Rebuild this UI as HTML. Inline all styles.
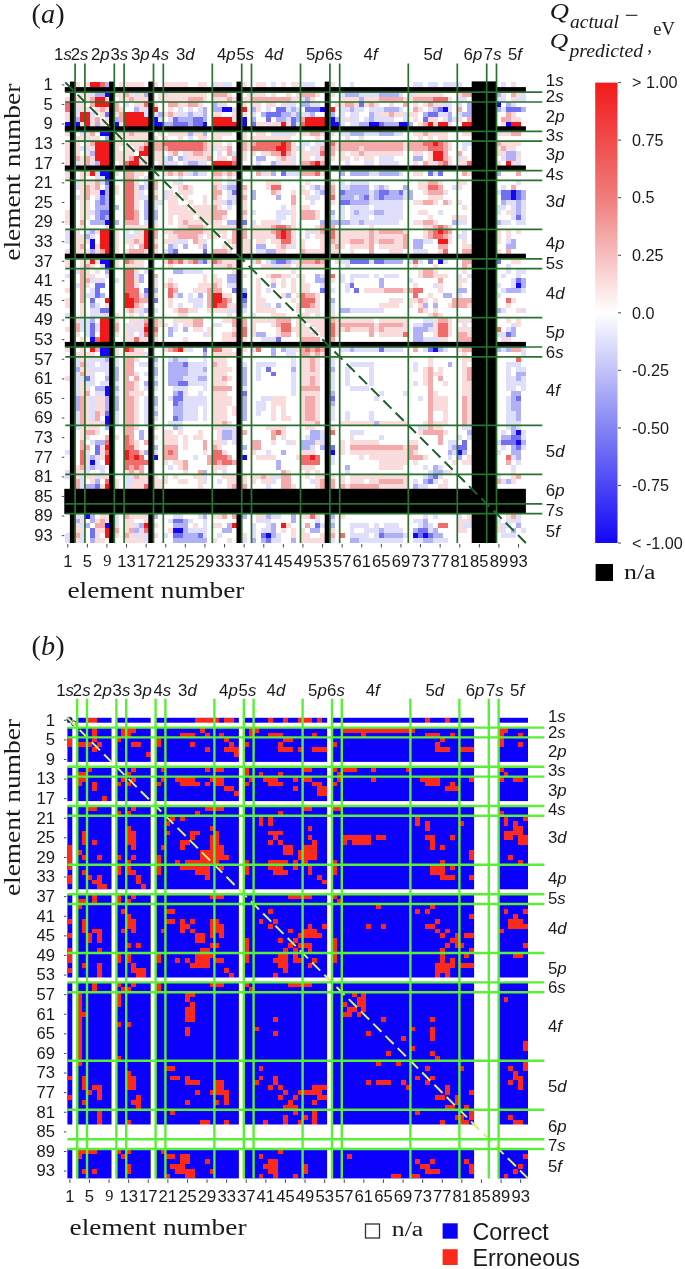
<!DOCTYPE html>
<html><head><meta charset="utf-8"><title>Figure</title>
<style>html,body{margin:0;padding:0;background:#fff;width:685px;height:1269px;overflow:hidden}svg{display:block}</style>
</head><body>
<div id="fig">
<svg width="685" height="1269" viewBox="0 0 685 1269">
<rect width="685" height="1269" fill="#fff"/>
<g>
<defs><linearGradient id="bwr" x1="0" y1="0" x2="0" y2="1"><stop offset="0" stop-color="#f21a1a"/><stop offset="0.25" stop-color="#f07c7c"/><stop offset="0.5" stop-color="#ffffff"/><stop offset="0.75" stop-color="#8484f4"/><stop offset="1" stop-color="#1206f7"/></linearGradient></defs>
<rect x="595.2" y="82.6" width="22.3" height="460.4" fill="url(#bwr)"/>
<line x1="618.00" y1="82.60" x2="621.00" y2="82.60" stroke="#333" stroke-width="0.9"/>
<text x="632" y="88.30" font-family="'Liberation Sans', Arial, sans-serif" font-size="16.2" fill="#1a1a1a">&gt; 1.00</text>
<line x1="618.00" y1="140.15" x2="621.00" y2="140.15" stroke="#333" stroke-width="0.9"/>
<text x="632" y="145.85" font-family="'Liberation Sans', Arial, sans-serif" font-size="16.2" fill="#1a1a1a">0.75</text>
<line x1="618.00" y1="197.70" x2="621.00" y2="197.70" stroke="#333" stroke-width="0.9"/>
<text x="632" y="203.40" font-family="'Liberation Sans', Arial, sans-serif" font-size="16.2" fill="#1a1a1a">0.5</text>
<line x1="618.00" y1="255.25" x2="621.00" y2="255.25" stroke="#333" stroke-width="0.9"/>
<text x="632" y="260.95" font-family="'Liberation Sans', Arial, sans-serif" font-size="16.2" fill="#1a1a1a">0.25</text>
<line x1="618.00" y1="312.80" x2="621.00" y2="312.80" stroke="#333" stroke-width="0.9"/>
<text x="632" y="318.50" font-family="'Liberation Sans', Arial, sans-serif" font-size="16.2" fill="#1a1a1a">0.0</text>
<line x1="618.00" y1="370.35" x2="621.00" y2="370.35" stroke="#333" stroke-width="0.9"/>
<text x="632" y="376.05" font-family="'Liberation Sans', Arial, sans-serif" font-size="16.2" fill="#1a1a1a">-0.25</text>
<line x1="618.00" y1="427.90" x2="621.00" y2="427.90" stroke="#333" stroke-width="0.9"/>
<text x="632" y="433.60" font-family="'Liberation Sans', Arial, sans-serif" font-size="16.2" fill="#1a1a1a">-0.50</text>
<line x1="618.00" y1="485.45" x2="621.00" y2="485.45" stroke="#333" stroke-width="0.9"/>
<text x="632" y="491.15" font-family="'Liberation Sans', Arial, sans-serif" font-size="16.2" fill="#1a1a1a">-0.75</text>
<line x1="618.00" y1="543.00" x2="621.00" y2="543.00" stroke="#333" stroke-width="0.9"/>
<text x="632" y="548.70" font-family="'Liberation Sans', Arial, sans-serif" font-size="16.2" fill="#1a1a1a">&lt; -1.00</text>
<rect x="595.6" y="564" width="17.4" height="17" fill="#000"/>
<text x="624" y="578.5" font-family="'Liberation Serif', 'Times New Roman', serif" font-size="20.5" fill="#1a1a1a" textLength="31.6" lengthAdjust="spacingAndGlyphs">n/a</text>
<text x="549.8" y="18.6" font-family="'Liberation Serif', 'Times New Roman', serif" font-style="italic" font-size="23" fill="#1a1a1a" textLength="19.2" lengthAdjust="spacingAndGlyphs">Q</text>
<text x="569.9" y="27.8" font-family="'Liberation Serif', 'Times New Roman', serif" font-style="italic" font-size="19.2" fill="#1a1a1a" textLength="49" lengthAdjust="spacingAndGlyphs">actual</text>
<line x1="625.8" y1="15.3" x2="637.4" y2="15.3" stroke="#1a1a1a" stroke-width="1.1"/>
<text x="549.8" y="48.4" font-family="'Liberation Serif', 'Times New Roman', serif" font-style="italic" font-size="22" fill="#1a1a1a" textLength="18.5" lengthAdjust="spacingAndGlyphs">Q</text>
<text x="569.4" y="56.9" font-family="'Liberation Serif', 'Times New Roman', serif" font-style="italic" font-size="19" fill="#1a1a1a" textLength="73.6" lengthAdjust="spacingAndGlyphs">predicted</text>
<text x="647.2" y="51.5" font-family="'Liberation Serif', 'Times New Roman', serif" font-size="19" fill="#1a1a1a">,</text>
<text x="653.3" y="34.9" font-family="'Liberation Serif', 'Times New Roman', serif" font-size="18.5" fill="#1a1a1a">eV</text>
<rect x="65.3" y="82.4" width="460.6" height="460.6" fill="#ffffff"/>
<g shape-rendering="crispEdges"><rect x="75.10" y="82.40" width="4.95" height="4.95" fill="#fadcdc"/>
<rect x="84.90" y="82.40" width="4.95" height="4.95" fill="#fadcdc"/>
<rect x="89.80" y="82.40" width="9.85" height="4.95" fill="#f01a1a"/>
<rect x="99.60" y="82.40" width="4.95" height="4.95" fill="#ee6c6c"/>
<rect x="104.50" y="82.40" width="4.95" height="4.95" fill="#afb0f5"/>
<rect x="119.20" y="82.40" width="24.55" height="4.95" fill="#fadcdc"/>
<rect x="153.50" y="82.40" width="4.95" height="4.95" fill="#fadcdc"/>
<rect x="163.30" y="82.40" width="24.55" height="4.95" fill="#fadcdc"/>
<rect x="197.60" y="82.40" width="9.85" height="4.95" fill="#fadcdc"/>
<rect x="212.30" y="82.40" width="4.95" height="4.95" fill="#dfdffb"/>
<rect x="217.20" y="82.40" width="4.95" height="4.95" fill="#fadcdc"/>
<rect x="222.10" y="82.40" width="9.85" height="4.95" fill="#dfdffb"/>
<rect x="241.70" y="82.40" width="4.95" height="4.95" fill="#fadcdc"/>
<rect x="256.40" y="82.40" width="9.85" height="4.95" fill="#fadcdc"/>
<rect x="271.10" y="82.40" width="4.95" height="4.95" fill="#dfdffb"/>
<rect x="280.90" y="82.40" width="4.95" height="4.95" fill="#fadcdc"/>
<rect x="290.70" y="82.40" width="9.85" height="4.95" fill="#fadcdc"/>
<rect x="300.50" y="82.40" width="14.75" height="4.95" fill="#dfdffb"/>
<rect x="329.90" y="82.40" width="4.95" height="4.95" fill="#fadcdc"/>
<rect x="349.50" y="82.40" width="4.95" height="4.95" fill="#dfdffb"/>
<rect x="413.20" y="82.40" width="9.85" height="4.95" fill="#dfdffb"/>
<rect x="427.90" y="82.40" width="9.85" height="4.95" fill="#dfdffb"/>
<rect x="442.60" y="82.40" width="19.65" height="4.95" fill="#dfdffb"/>
<rect x="501.40" y="82.40" width="4.95" height="4.95" fill="#dfdffb"/>
<rect x="511.20" y="82.40" width="4.95" height="4.95" fill="#fadcdc"/>
<rect x="80.00" y="92.20" width="9.85" height="4.95" fill="#fadcdc"/>
<rect x="89.80" y="92.20" width="4.95" height="4.95" fill="#dfdffb"/>
<rect x="94.70" y="92.20" width="9.85" height="4.95" fill="#afb0f5"/>
<rect x="104.50" y="92.20" width="4.95" height="4.95" fill="#1408f3"/>
<rect x="114.30" y="92.20" width="9.85" height="4.95" fill="#fadcdc"/>
<rect x="124.10" y="92.20" width="4.95" height="4.95" fill="#f4aaaa"/>
<rect x="129.00" y="92.20" width="4.95" height="4.95" fill="#fadcdc"/>
<rect x="133.90" y="92.20" width="4.95" height="4.95" fill="#dfdffb"/>
<rect x="138.80" y="92.20" width="4.95" height="4.95" fill="#fadcdc"/>
<rect x="143.70" y="92.20" width="4.95" height="4.95" fill="#afb0f5"/>
<rect x="158.40" y="92.20" width="4.95" height="4.95" fill="#fadcdc"/>
<rect x="163.30" y="92.20" width="4.95" height="4.95" fill="#dfdffb"/>
<rect x="168.20" y="92.20" width="39.25" height="4.95" fill="#fadcdc"/>
<rect x="212.30" y="92.20" width="14.75" height="4.95" fill="#f4aaaa"/>
<rect x="227.00" y="92.20" width="4.95" height="4.95" fill="#fadcdc"/>
<rect x="246.60" y="92.20" width="4.95" height="4.95" fill="#fadcdc"/>
<rect x="251.50" y="92.20" width="4.95" height="4.95" fill="#dfdffb"/>
<rect x="256.40" y="92.20" width="9.85" height="4.95" fill="#fadcdc"/>
<rect x="271.10" y="92.20" width="4.95" height="4.95" fill="#fadcdc"/>
<rect x="285.80" y="92.20" width="4.95" height="4.95" fill="#fadcdc"/>
<rect x="295.60" y="92.20" width="4.95" height="4.95" fill="#fadcdc"/>
<rect x="300.50" y="92.20" width="14.75" height="4.95" fill="#f4aaaa"/>
<rect x="315.20" y="92.20" width="4.95" height="4.95" fill="#fadcdc"/>
<rect x="329.90" y="92.20" width="4.95" height="4.95" fill="#fadcdc"/>
<rect x="339.70" y="92.20" width="4.95" height="4.95" fill="#dfdffb"/>
<rect x="344.60" y="92.20" width="14.75" height="4.95" fill="#afb0f5"/>
<rect x="359.30" y="92.20" width="19.65" height="4.95" fill="#dfdffb"/>
<rect x="378.90" y="92.20" width="19.65" height="4.95" fill="#afb0f5"/>
<rect x="398.50" y="92.20" width="4.95" height="4.95" fill="#dfdffb"/>
<rect x="408.30" y="92.20" width="4.95" height="4.95" fill="#dfdffb"/>
<rect x="413.20" y="92.20" width="29.45" height="4.95" fill="#fadcdc"/>
<rect x="457.30" y="92.20" width="4.95" height="4.95" fill="#fadcdc"/>
<rect x="462.20" y="92.20" width="9.85" height="4.95" fill="#f4aaaa"/>
<rect x="496.50" y="92.20" width="4.95" height="4.95" fill="#afb0f5"/>
<rect x="501.40" y="92.20" width="4.95" height="4.95" fill="#fadcdc"/>
<rect x="511.20" y="92.20" width="4.95" height="4.95" fill="#f4aaaa"/>
<rect x="516.10" y="92.20" width="4.95" height="4.95" fill="#fadcdc"/>
<rect x="521.00" y="92.20" width="4.95" height="4.95" fill="#dfdffb"/>
<rect x="65.30" y="97.10" width="4.95" height="4.95" fill="#fadcdc"/>
<rect x="75.10" y="97.10" width="4.95" height="4.95" fill="#fadcdc"/>
<rect x="84.90" y="97.10" width="4.95" height="4.95" fill="#fadcdc"/>
<rect x="89.80" y="97.10" width="4.95" height="4.95" fill="#f4aaaa"/>
<rect x="94.70" y="97.10" width="9.85" height="4.95" fill="#f01a1a"/>
<rect x="104.50" y="97.10" width="4.95" height="4.95" fill="#fadcdc"/>
<rect x="119.20" y="97.10" width="9.85" height="4.95" fill="#fadcdc"/>
<rect x="129.00" y="97.10" width="4.95" height="4.95" fill="#f4aaaa"/>
<rect x="133.90" y="97.10" width="14.75" height="4.95" fill="#fadcdc"/>
<rect x="158.40" y="97.10" width="29.45" height="4.95" fill="#fadcdc"/>
<rect x="187.80" y="97.10" width="14.75" height="4.95" fill="#f4aaaa"/>
<rect x="202.50" y="97.10" width="4.95" height="4.95" fill="#fadcdc"/>
<rect x="212.30" y="97.10" width="14.75" height="4.95" fill="#fadcdc"/>
<rect x="227.00" y="97.10" width="4.95" height="4.95" fill="#f4aaaa"/>
<rect x="231.90" y="97.10" width="4.95" height="4.95" fill="#fadcdc"/>
<rect x="241.70" y="97.10" width="9.85" height="4.95" fill="#fadcdc"/>
<rect x="251.50" y="97.10" width="39.25" height="4.95" fill="#f4aaaa"/>
<rect x="290.70" y="97.10" width="9.85" height="4.95" fill="#fadcdc"/>
<rect x="300.50" y="97.10" width="4.95" height="4.95" fill="#dfdffb"/>
<rect x="305.40" y="97.10" width="4.95" height="4.95" fill="#afb0f5"/>
<rect x="310.30" y="97.10" width="4.95" height="4.95" fill="#fadcdc"/>
<rect x="339.70" y="97.10" width="19.65" height="4.95" fill="#fadcdc"/>
<rect x="359.30" y="97.10" width="4.95" height="4.95" fill="#afb0f5"/>
<rect x="364.20" y="97.10" width="14.75" height="4.95" fill="#fadcdc"/>
<rect x="378.90" y="97.10" width="24.55" height="4.95" fill="#f4aaaa"/>
<rect x="403.40" y="97.10" width="9.85" height="4.95" fill="#fadcdc"/>
<rect x="413.20" y="97.10" width="19.65" height="4.95" fill="#f4aaaa"/>
<rect x="432.80" y="97.10" width="14.75" height="4.95" fill="#ee6c6c"/>
<rect x="447.50" y="97.10" width="4.95" height="4.95" fill="#fadcdc"/>
<rect x="457.30" y="97.10" width="9.85" height="4.95" fill="#dfdffb"/>
<rect x="496.50" y="97.10" width="9.85" height="4.95" fill="#dfdffb"/>
<rect x="511.20" y="97.10" width="4.95" height="4.95" fill="#fadcdc"/>
<rect x="516.10" y="97.10" width="9.85" height="4.95" fill="#dfdffb"/>
<rect x="65.30" y="102.00" width="4.95" height="4.95" fill="#ee6c6c"/>
<rect x="75.10" y="102.00" width="9.85" height="4.95" fill="#fadcdc"/>
<rect x="89.80" y="102.00" width="4.95" height="4.95" fill="#f4aaaa"/>
<rect x="94.70" y="102.00" width="14.75" height="4.95" fill="#f01a1a"/>
<rect x="114.30" y="102.00" width="4.95" height="4.95" fill="#f4aaaa"/>
<rect x="124.10" y="102.00" width="4.95" height="4.95" fill="#dfdffb"/>
<rect x="133.90" y="102.00" width="9.85" height="4.95" fill="#fadcdc"/>
<rect x="143.70" y="102.00" width="4.95" height="4.95" fill="#ee6c6c"/>
<rect x="153.50" y="102.00" width="4.95" height="4.95" fill="#fadcdc"/>
<rect x="168.20" y="102.00" width="9.85" height="4.95" fill="#f4aaaa"/>
<rect x="178.00" y="102.00" width="9.85" height="4.95" fill="#fadcdc"/>
<rect x="187.80" y="102.00" width="9.85" height="4.95" fill="#f4aaaa"/>
<rect x="197.60" y="102.00" width="4.95" height="4.95" fill="#fadcdc"/>
<rect x="212.30" y="102.00" width="4.95" height="4.95" fill="#afb0f5"/>
<rect x="217.20" y="102.00" width="4.95" height="4.95" fill="#dfdffb"/>
<rect x="222.10" y="102.00" width="4.95" height="4.95" fill="#fadcdc"/>
<rect x="241.70" y="102.00" width="4.95" height="4.95" fill="#fadcdc"/>
<rect x="251.50" y="102.00" width="9.85" height="4.95" fill="#fadcdc"/>
<rect x="266.20" y="102.00" width="9.85" height="4.95" fill="#fadcdc"/>
<rect x="280.90" y="102.00" width="4.95" height="4.95" fill="#fadcdc"/>
<rect x="285.80" y="102.00" width="9.85" height="4.95" fill="#dfdffb"/>
<rect x="300.50" y="102.00" width="9.85" height="4.95" fill="#afb0f5"/>
<rect x="310.30" y="102.00" width="9.85" height="4.95" fill="#dfdffb"/>
<rect x="334.80" y="102.00" width="9.85" height="4.95" fill="#fadcdc"/>
<rect x="344.60" y="102.00" width="9.85" height="4.95" fill="#f4aaaa"/>
<rect x="354.40" y="102.00" width="4.95" height="4.95" fill="#fadcdc"/>
<rect x="359.30" y="102.00" width="4.95" height="4.95" fill="#7070f1"/>
<rect x="364.20" y="102.00" width="4.95" height="4.95" fill="#fadcdc"/>
<rect x="369.10" y="102.00" width="4.95" height="4.95" fill="#f4aaaa"/>
<rect x="374.00" y="102.00" width="4.95" height="4.95" fill="#fadcdc"/>
<rect x="388.70" y="102.00" width="4.95" height="4.95" fill="#fadcdc"/>
<rect x="403.40" y="102.00" width="4.95" height="4.95" fill="#f4aaaa"/>
<rect x="413.20" y="102.00" width="4.95" height="4.95" fill="#fadcdc"/>
<rect x="423.00" y="102.00" width="4.95" height="4.95" fill="#fadcdc"/>
<rect x="427.90" y="102.00" width="4.95" height="4.95" fill="#f4aaaa"/>
<rect x="432.80" y="102.00" width="9.85" height="4.95" fill="#fadcdc"/>
<rect x="442.60" y="102.00" width="9.85" height="4.95" fill="#dfdffb"/>
<rect x="457.30" y="102.00" width="4.95" height="4.95" fill="#dfdffb"/>
<rect x="467.10" y="102.00" width="4.95" height="4.95" fill="#afb0f5"/>
<rect x="496.50" y="102.00" width="4.95" height="4.95" fill="#1408f3"/>
<rect x="506.30" y="102.00" width="4.95" height="4.95" fill="#afb0f5"/>
<rect x="511.20" y="102.00" width="4.95" height="4.95" fill="#dfdffb"/>
<rect x="65.30" y="106.90" width="4.95" height="4.95" fill="#ee6c6c"/>
<rect x="75.10" y="106.90" width="4.95" height="4.95" fill="#dfdffb"/>
<rect x="80.00" y="106.90" width="9.85" height="4.95" fill="#fadcdc"/>
<rect x="94.70" y="106.90" width="4.95" height="4.95" fill="#fadcdc"/>
<rect x="99.60" y="106.90" width="4.95" height="4.95" fill="#f4aaaa"/>
<rect x="104.50" y="106.90" width="4.95" height="4.95" fill="#fadcdc"/>
<rect x="114.30" y="106.90" width="4.95" height="4.95" fill="#f4aaaa"/>
<rect x="119.20" y="106.90" width="4.95" height="4.95" fill="#fadcdc"/>
<rect x="133.90" y="106.90" width="4.95" height="4.95" fill="#afb0f5"/>
<rect x="138.80" y="106.90" width="4.95" height="4.95" fill="#fadcdc"/>
<rect x="143.70" y="106.90" width="4.95" height="4.95" fill="#dfdffb"/>
<rect x="153.50" y="106.90" width="4.95" height="4.95" fill="#f01a1a"/>
<rect x="168.20" y="106.90" width="4.95" height="4.95" fill="#fadcdc"/>
<rect x="178.00" y="106.90" width="4.95" height="4.95" fill="#dfdffb"/>
<rect x="187.80" y="106.90" width="4.95" height="4.95" fill="#dfdffb"/>
<rect x="197.60" y="106.90" width="4.95" height="4.95" fill="#dfdffb"/>
<rect x="202.50" y="106.90" width="4.95" height="4.95" fill="#afb0f5"/>
<rect x="212.30" y="106.90" width="9.85" height="4.95" fill="#afb0f5"/>
<rect x="222.10" y="106.90" width="9.85" height="4.95" fill="#1408f3"/>
<rect x="231.90" y="106.90" width="4.95" height="4.95" fill="#dfdffb"/>
<rect x="241.70" y="106.90" width="4.95" height="4.95" fill="#f01a1a"/>
<rect x="251.50" y="106.90" width="4.95" height="4.95" fill="#afb0f5"/>
<rect x="256.40" y="106.90" width="4.95" height="4.95" fill="#fadcdc"/>
<rect x="266.20" y="106.90" width="4.95" height="4.95" fill="#dfdffb"/>
<rect x="276.00" y="106.90" width="9.85" height="4.95" fill="#7070f1"/>
<rect x="285.80" y="106.90" width="4.95" height="4.95" fill="#dfdffb"/>
<rect x="290.70" y="106.90" width="4.95" height="4.95" fill="#afb0f5"/>
<rect x="295.60" y="106.90" width="4.95" height="4.95" fill="#dfdffb"/>
<rect x="305.40" y="106.90" width="14.75" height="4.95" fill="#7070f1"/>
<rect x="320.10" y="106.90" width="4.95" height="4.95" fill="#1408f3"/>
<rect x="329.90" y="106.90" width="4.95" height="4.95" fill="#f01a1a"/>
<rect x="339.70" y="106.90" width="9.85" height="4.95" fill="#dfdffb"/>
<rect x="349.50" y="106.90" width="4.95" height="4.95" fill="#afb0f5"/>
<rect x="354.40" y="106.90" width="9.85" height="4.95" fill="#dfdffb"/>
<rect x="369.10" y="106.90" width="14.75" height="4.95" fill="#dfdffb"/>
<rect x="383.80" y="106.90" width="14.75" height="4.95" fill="#afb0f5"/>
<rect x="398.50" y="106.90" width="4.95" height="4.95" fill="#dfdffb"/>
<rect x="413.20" y="106.90" width="4.95" height="4.95" fill="#f4aaaa"/>
<rect x="418.10" y="106.90" width="4.95" height="4.95" fill="#fadcdc"/>
<rect x="427.90" y="106.90" width="4.95" height="4.95" fill="#dfdffb"/>
<rect x="432.80" y="106.90" width="4.95" height="4.95" fill="#afb0f5"/>
<rect x="437.70" y="106.90" width="4.95" height="4.95" fill="#7070f1"/>
<rect x="442.60" y="106.90" width="4.95" height="4.95" fill="#1408f3"/>
<rect x="447.50" y="106.90" width="4.95" height="4.95" fill="#dfdffb"/>
<rect x="457.30" y="106.90" width="4.95" height="4.95" fill="#f4aaaa"/>
<rect x="467.10" y="106.90" width="4.95" height="4.95" fill="#afb0f5"/>
<rect x="496.50" y="106.90" width="4.95" height="4.95" fill="#afb0f5"/>
<rect x="501.40" y="106.90" width="4.95" height="4.95" fill="#dfdffb"/>
<rect x="506.30" y="106.90" width="14.75" height="4.95" fill="#7070f1"/>
<rect x="521.00" y="106.90" width="4.95" height="4.95" fill="#afb0f5"/>
<rect x="65.30" y="111.80" width="4.95" height="4.95" fill="#fadcdc"/>
<rect x="75.10" y="111.80" width="4.95" height="4.95" fill="#dfdffb"/>
<rect x="80.00" y="111.80" width="9.85" height="4.95" fill="#f01a1a"/>
<rect x="89.80" y="111.80" width="4.95" height="4.95" fill="#dfdffb"/>
<rect x="99.60" y="111.80" width="4.95" height="4.95" fill="#fadcdc"/>
<rect x="104.50" y="111.80" width="4.95" height="4.95" fill="#7070f1"/>
<rect x="114.30" y="111.80" width="4.95" height="4.95" fill="#fadcdc"/>
<rect x="119.20" y="111.80" width="4.95" height="4.95" fill="#f4aaaa"/>
<rect x="124.10" y="111.80" width="19.65" height="4.95" fill="#f01a1a"/>
<rect x="143.70" y="111.80" width="4.95" height="4.95" fill="#dfdffb"/>
<rect x="153.50" y="111.80" width="4.95" height="4.95" fill="#dfdffb"/>
<rect x="158.40" y="111.80" width="4.95" height="4.95" fill="#afb0f5"/>
<rect x="163.30" y="111.80" width="4.95" height="4.95" fill="#fadcdc"/>
<rect x="168.20" y="111.80" width="4.95" height="4.95" fill="#f4aaaa"/>
<rect x="173.10" y="111.80" width="4.95" height="4.95" fill="#fadcdc"/>
<rect x="178.00" y="111.80" width="9.85" height="4.95" fill="#dfdffb"/>
<rect x="187.80" y="111.80" width="4.95" height="4.95" fill="#afb0f5"/>
<rect x="192.70" y="111.80" width="9.85" height="4.95" fill="#dfdffb"/>
<rect x="202.50" y="111.80" width="4.95" height="4.95" fill="#afb0f5"/>
<rect x="212.30" y="111.80" width="9.85" height="4.95" fill="#fadcdc"/>
<rect x="231.90" y="111.80" width="4.95" height="4.95" fill="#fadcdc"/>
<rect x="241.70" y="111.80" width="4.95" height="4.95" fill="#fadcdc"/>
<rect x="251.50" y="111.80" width="4.95" height="4.95" fill="#dfdffb"/>
<rect x="261.30" y="111.80" width="4.95" height="4.95" fill="#afb0f5"/>
<rect x="266.20" y="111.80" width="14.75" height="4.95" fill="#7070f1"/>
<rect x="280.90" y="111.80" width="9.85" height="4.95" fill="#afb0f5"/>
<rect x="290.70" y="111.80" width="4.95" height="4.95" fill="#dfdffb"/>
<rect x="295.60" y="111.80" width="4.95" height="4.95" fill="#afb0f5"/>
<rect x="300.50" y="111.80" width="9.85" height="4.95" fill="#dfdffb"/>
<rect x="310.30" y="111.80" width="4.95" height="4.95" fill="#afb0f5"/>
<rect x="329.90" y="111.80" width="4.95" height="4.95" fill="#afb0f5"/>
<rect x="339.70" y="111.80" width="4.95" height="4.95" fill="#dfdffb"/>
<rect x="349.50" y="111.80" width="9.85" height="4.95" fill="#dfdffb"/>
<rect x="369.10" y="111.80" width="4.95" height="4.95" fill="#afb0f5"/>
<rect x="374.00" y="111.80" width="4.95" height="4.95" fill="#dfdffb"/>
<rect x="378.90" y="111.80" width="9.85" height="4.95" fill="#fadcdc"/>
<rect x="388.70" y="111.80" width="4.95" height="4.95" fill="#f4aaaa"/>
<rect x="393.60" y="111.80" width="9.85" height="4.95" fill="#fadcdc"/>
<rect x="403.40" y="111.80" width="4.95" height="4.95" fill="#dfdffb"/>
<rect x="408.30" y="111.80" width="9.85" height="4.95" fill="#fadcdc"/>
<rect x="423.00" y="111.80" width="4.95" height="4.95" fill="#afb0f5"/>
<rect x="427.90" y="111.80" width="9.85" height="4.95" fill="#7070f1"/>
<rect x="437.70" y="111.80" width="9.85" height="4.95" fill="#dfdffb"/>
<rect x="447.50" y="111.80" width="4.95" height="4.95" fill="#afb0f5"/>
<rect x="457.30" y="111.80" width="4.95" height="4.95" fill="#dfdffb"/>
<rect x="462.20" y="111.80" width="9.85" height="4.95" fill="#afb0f5"/>
<rect x="506.30" y="111.80" width="4.95" height="4.95" fill="#f4aaaa"/>
<rect x="511.20" y="111.80" width="4.95" height="4.95" fill="#fadcdc"/>
<rect x="65.30" y="116.70" width="4.95" height="4.95" fill="#fadcdc"/>
<rect x="75.10" y="116.70" width="4.95" height="4.95" fill="#afb0f5"/>
<rect x="80.00" y="116.70" width="9.85" height="4.95" fill="#f01a1a"/>
<rect x="89.80" y="116.70" width="4.95" height="4.95" fill="#fadcdc"/>
<rect x="94.70" y="116.70" width="4.95" height="4.95" fill="#f4aaaa"/>
<rect x="104.50" y="116.70" width="4.95" height="4.95" fill="#fadcdc"/>
<rect x="114.30" y="116.70" width="4.95" height="4.95" fill="#afb0f5"/>
<rect x="119.20" y="116.70" width="4.95" height="4.95" fill="#f4aaaa"/>
<rect x="124.10" y="116.70" width="24.55" height="4.95" fill="#f01a1a"/>
<rect x="153.50" y="116.70" width="4.95" height="4.95" fill="#1408f3"/>
<rect x="158.40" y="116.70" width="4.95" height="4.95" fill="#dfdffb"/>
<rect x="168.20" y="116.70" width="4.95" height="4.95" fill="#dfdffb"/>
<rect x="173.10" y="116.70" width="4.95" height="4.95" fill="#7070f1"/>
<rect x="178.00" y="116.70" width="14.75" height="4.95" fill="#afb0f5"/>
<rect x="192.70" y="116.70" width="9.85" height="4.95" fill="#7070f1"/>
<rect x="202.50" y="116.70" width="4.95" height="4.95" fill="#afb0f5"/>
<rect x="212.30" y="116.70" width="19.65" height="4.95" fill="#f01a1a"/>
<rect x="231.90" y="116.70" width="4.95" height="4.95" fill="#fadcdc"/>
<rect x="241.70" y="116.70" width="4.95" height="4.95" fill="#1408f3"/>
<rect x="251.50" y="116.70" width="4.95" height="4.95" fill="#afb0f5"/>
<rect x="266.20" y="116.70" width="4.95" height="4.95" fill="#7070f1"/>
<rect x="276.00" y="116.70" width="9.85" height="4.95" fill="#afb0f5"/>
<rect x="285.80" y="116.70" width="4.95" height="4.95" fill="#dfdffb"/>
<rect x="290.70" y="116.70" width="4.95" height="4.95" fill="#7070f1"/>
<rect x="295.60" y="116.70" width="4.95" height="4.95" fill="#afb0f5"/>
<rect x="300.50" y="116.70" width="4.95" height="4.95" fill="#f4aaaa"/>
<rect x="305.40" y="116.70" width="19.65" height="4.95" fill="#f01a1a"/>
<rect x="329.90" y="116.70" width="4.95" height="4.95" fill="#1408f3"/>
<rect x="334.80" y="116.70" width="4.95" height="4.95" fill="#afb0f5"/>
<rect x="339.70" y="116.70" width="4.95" height="4.95" fill="#dfdffb"/>
<rect x="344.60" y="116.70" width="4.95" height="4.95" fill="#fadcdc"/>
<rect x="349.50" y="116.70" width="9.85" height="4.95" fill="#dfdffb"/>
<rect x="364.20" y="116.70" width="4.95" height="4.95" fill="#dfdffb"/>
<rect x="369.10" y="116.70" width="4.95" height="4.95" fill="#afb0f5"/>
<rect x="374.00" y="116.70" width="19.65" height="4.95" fill="#dfdffb"/>
<rect x="403.40" y="116.70" width="4.95" height="4.95" fill="#dfdffb"/>
<rect x="413.20" y="116.70" width="4.95" height="4.95" fill="#fadcdc"/>
<rect x="423.00" y="116.70" width="4.95" height="4.95" fill="#7070f1"/>
<rect x="427.90" y="116.70" width="9.85" height="4.95" fill="#fadcdc"/>
<rect x="442.60" y="116.70" width="4.95" height="4.95" fill="#fadcdc"/>
<rect x="447.50" y="116.70" width="4.95" height="4.95" fill="#afb0f5"/>
<rect x="452.40" y="116.70" width="4.95" height="4.95" fill="#dfdffb"/>
<rect x="457.30" y="116.70" width="4.95" height="4.95" fill="#fadcdc"/>
<rect x="467.10" y="116.70" width="4.95" height="4.95" fill="#f4aaaa"/>
<rect x="501.40" y="116.70" width="9.85" height="4.95" fill="#f4aaaa"/>
<rect x="511.20" y="116.70" width="9.85" height="4.95" fill="#fadcdc"/>
<rect x="65.30" y="121.60" width="4.95" height="4.95" fill="#1408f3"/>
<rect x="75.10" y="121.60" width="4.95" height="4.95" fill="#1408f3"/>
<rect x="80.00" y="121.60" width="4.95" height="4.95" fill="#fadcdc"/>
<rect x="84.90" y="121.60" width="4.95" height="4.95" fill="#f01a1a"/>
<rect x="89.80" y="121.60" width="4.95" height="4.95" fill="#fadcdc"/>
<rect x="94.70" y="121.60" width="4.95" height="4.95" fill="#afb0f5"/>
<rect x="99.60" y="121.60" width="4.95" height="4.95" fill="#fadcdc"/>
<rect x="114.30" y="121.60" width="4.95" height="4.95" fill="#1408f3"/>
<rect x="119.20" y="121.60" width="4.95" height="4.95" fill="#fadcdc"/>
<rect x="124.10" y="121.60" width="24.55" height="4.95" fill="#f01a1a"/>
<rect x="153.50" y="121.60" width="9.85" height="4.95" fill="#1408f3"/>
<rect x="163.30" y="121.60" width="9.85" height="4.95" fill="#afb0f5"/>
<rect x="173.10" y="121.60" width="14.75" height="4.95" fill="#7070f1"/>
<rect x="187.80" y="121.60" width="4.95" height="4.95" fill="#afb0f5"/>
<rect x="192.70" y="121.60" width="9.85" height="4.95" fill="#7070f1"/>
<rect x="202.50" y="121.60" width="4.95" height="4.95" fill="#1408f3"/>
<rect x="212.30" y="121.60" width="24.55" height="4.95" fill="#f01a1a"/>
<rect x="241.70" y="121.60" width="4.95" height="4.95" fill="#1408f3"/>
<rect x="251.50" y="121.60" width="4.95" height="4.95" fill="#7070f1"/>
<rect x="256.40" y="121.60" width="24.55" height="4.95" fill="#fadcdc"/>
<rect x="280.90" y="121.60" width="4.95" height="4.95" fill="#f01a1a"/>
<rect x="285.80" y="121.60" width="4.95" height="4.95" fill="#fadcdc"/>
<rect x="290.70" y="121.60" width="4.95" height="4.95" fill="#7070f1"/>
<rect x="295.60" y="121.60" width="4.95" height="4.95" fill="#dfdffb"/>
<rect x="300.50" y="121.60" width="4.95" height="4.95" fill="#ee6c6c"/>
<rect x="305.40" y="121.60" width="19.65" height="4.95" fill="#f01a1a"/>
<rect x="329.90" y="121.60" width="9.85" height="4.95" fill="#1408f3"/>
<rect x="339.70" y="121.60" width="4.95" height="4.95" fill="#dfdffb"/>
<rect x="349.50" y="121.60" width="9.85" height="4.95" fill="#dfdffb"/>
<rect x="359.30" y="121.60" width="9.85" height="4.95" fill="#afb0f5"/>
<rect x="369.10" y="121.60" width="9.85" height="4.95" fill="#1408f3"/>
<rect x="378.90" y="121.60" width="4.95" height="4.95" fill="#7070f1"/>
<rect x="383.80" y="121.60" width="14.75" height="4.95" fill="#afb0f5"/>
<rect x="398.50" y="121.60" width="9.85" height="4.95" fill="#1408f3"/>
<rect x="408.30" y="121.60" width="4.95" height="4.95" fill="#afb0f5"/>
<rect x="418.10" y="121.60" width="4.95" height="4.95" fill="#fadcdc"/>
<rect x="423.00" y="121.60" width="4.95" height="4.95" fill="#f4aaaa"/>
<rect x="427.90" y="121.60" width="4.95" height="4.95" fill="#f01a1a"/>
<rect x="432.80" y="121.60" width="4.95" height="4.95" fill="#fadcdc"/>
<rect x="437.70" y="121.60" width="9.85" height="4.95" fill="#f01a1a"/>
<rect x="447.50" y="121.60" width="4.95" height="4.95" fill="#fadcdc"/>
<rect x="462.20" y="121.60" width="9.85" height="4.95" fill="#f01a1a"/>
<rect x="501.40" y="121.60" width="4.95" height="4.95" fill="#fadcdc"/>
<rect x="506.30" y="121.60" width="4.95" height="4.95" fill="#1408f3"/>
<rect x="511.20" y="121.60" width="9.85" height="4.95" fill="#f01a1a"/>
<rect x="65.30" y="131.40" width="4.95" height="4.95" fill="#fadcdc"/>
<rect x="80.00" y="131.40" width="4.95" height="4.95" fill="#dfdffb"/>
<rect x="84.90" y="131.40" width="4.95" height="4.95" fill="#fadcdc"/>
<rect x="89.80" y="131.40" width="4.95" height="4.95" fill="#f4aaaa"/>
<rect x="99.60" y="131.40" width="9.85" height="4.95" fill="#1408f3"/>
<rect x="119.20" y="131.40" width="9.85" height="4.95" fill="#fadcdc"/>
<rect x="129.00" y="131.40" width="4.95" height="4.95" fill="#f4aaaa"/>
<rect x="133.90" y="131.40" width="14.75" height="4.95" fill="#fadcdc"/>
<rect x="158.40" y="131.40" width="4.95" height="4.95" fill="#fadcdc"/>
<rect x="168.20" y="131.40" width="19.65" height="4.95" fill="#fadcdc"/>
<rect x="187.80" y="131.40" width="4.95" height="4.95" fill="#afb0f5"/>
<rect x="192.70" y="131.40" width="9.85" height="4.95" fill="#fadcdc"/>
<rect x="202.50" y="131.40" width="4.95" height="4.95" fill="#afb0f5"/>
<rect x="212.30" y="131.40" width="19.65" height="4.95" fill="#fadcdc"/>
<rect x="241.70" y="131.40" width="4.95" height="4.95" fill="#fadcdc"/>
<rect x="256.40" y="131.40" width="9.85" height="4.95" fill="#fadcdc"/>
<rect x="271.10" y="131.40" width="19.65" height="4.95" fill="#dfdffb"/>
<rect x="290.70" y="131.40" width="4.95" height="4.95" fill="#fadcdc"/>
<rect x="300.50" y="131.40" width="9.85" height="4.95" fill="#fadcdc"/>
<rect x="310.30" y="131.40" width="9.85" height="4.95" fill="#f4aaaa"/>
<rect x="320.10" y="131.40" width="4.95" height="4.95" fill="#fadcdc"/>
<rect x="329.90" y="131.40" width="4.95" height="4.95" fill="#fadcdc"/>
<rect x="339.70" y="131.40" width="9.85" height="4.95" fill="#dfdffb"/>
<rect x="349.50" y="131.40" width="14.75" height="4.95" fill="#afb0f5"/>
<rect x="364.20" y="131.40" width="14.75" height="4.95" fill="#dfdffb"/>
<rect x="378.90" y="131.40" width="14.75" height="4.95" fill="#afb0f5"/>
<rect x="393.60" y="131.40" width="9.85" height="4.95" fill="#dfdffb"/>
<rect x="413.20" y="131.40" width="9.85" height="4.95" fill="#fadcdc"/>
<rect x="423.00" y="131.40" width="4.95" height="4.95" fill="#f4aaaa"/>
<rect x="427.90" y="131.40" width="19.65" height="4.95" fill="#fadcdc"/>
<rect x="462.20" y="131.40" width="9.85" height="4.95" fill="#fadcdc"/>
<rect x="496.50" y="131.40" width="4.95" height="4.95" fill="#dfdffb"/>
<rect x="501.40" y="131.40" width="9.85" height="4.95" fill="#fadcdc"/>
<rect x="511.20" y="131.40" width="9.85" height="4.95" fill="#f4aaaa"/>
<rect x="75.10" y="136.30" width="9.85" height="4.95" fill="#fadcdc"/>
<rect x="84.90" y="136.30" width="4.95" height="4.95" fill="#dfdffb"/>
<rect x="89.80" y="136.30" width="9.85" height="4.95" fill="#fadcdc"/>
<rect x="104.50" y="136.30" width="4.95" height="4.95" fill="#afb0f5"/>
<rect x="114.30" y="136.30" width="4.95" height="4.95" fill="#fadcdc"/>
<rect x="124.10" y="136.30" width="24.55" height="4.95" fill="#fadcdc"/>
<rect x="153.50" y="136.30" width="4.95" height="4.95" fill="#fadcdc"/>
<rect x="163.30" y="136.30" width="4.95" height="4.95" fill="#fadcdc"/>
<rect x="178.00" y="136.30" width="4.95" height="4.95" fill="#fadcdc"/>
<rect x="187.80" y="136.30" width="4.95" height="4.95" fill="#dfdffb"/>
<rect x="197.60" y="136.30" width="9.85" height="4.95" fill="#fadcdc"/>
<rect x="212.30" y="136.30" width="9.85" height="4.95" fill="#fadcdc"/>
<rect x="241.70" y="136.30" width="4.95" height="4.95" fill="#fadcdc"/>
<rect x="251.50" y="136.30" width="39.25" height="4.95" fill="#fadcdc"/>
<rect x="315.20" y="136.30" width="4.95" height="4.95" fill="#fadcdc"/>
<rect x="344.60" y="136.30" width="4.95" height="4.95" fill="#fadcdc"/>
<rect x="359.30" y="136.30" width="4.95" height="4.95" fill="#fadcdc"/>
<rect x="418.10" y="136.30" width="4.95" height="4.95" fill="#fadcdc"/>
<rect x="427.90" y="136.30" width="4.95" height="4.95" fill="#fadcdc"/>
<rect x="437.70" y="136.30" width="9.85" height="4.95" fill="#fadcdc"/>
<rect x="65.30" y="141.20" width="4.95" height="4.95" fill="#fadcdc"/>
<rect x="75.10" y="141.20" width="4.95" height="4.95" fill="#fadcdc"/>
<rect x="84.90" y="141.20" width="4.95" height="4.95" fill="#fadcdc"/>
<rect x="89.80" y="141.20" width="4.95" height="4.95" fill="#f4aaaa"/>
<rect x="94.70" y="141.20" width="14.75" height="4.95" fill="#f01a1a"/>
<rect x="114.30" y="141.20" width="9.85" height="4.95" fill="#fadcdc"/>
<rect x="129.00" y="141.20" width="14.75" height="4.95" fill="#fadcdc"/>
<rect x="143.70" y="141.20" width="4.95" height="4.95" fill="#f4aaaa"/>
<rect x="153.50" y="141.20" width="9.85" height="4.95" fill="#f4aaaa"/>
<rect x="163.30" y="141.20" width="39.25" height="4.95" fill="#ee6c6c"/>
<rect x="202.50" y="141.20" width="4.95" height="4.95" fill="#f4aaaa"/>
<rect x="207.40" y="141.20" width="14.75" height="4.95" fill="#fadcdc"/>
<rect x="227.00" y="141.20" width="4.95" height="4.95" fill="#fadcdc"/>
<rect x="241.70" y="141.20" width="4.95" height="4.95" fill="#f4aaaa"/>
<rect x="246.60" y="141.20" width="4.95" height="4.95" fill="#fadcdc"/>
<rect x="251.50" y="141.20" width="4.95" height="4.95" fill="#f4aaaa"/>
<rect x="256.40" y="141.20" width="24.55" height="4.95" fill="#ee6c6c"/>
<rect x="280.90" y="141.20" width="4.95" height="4.95" fill="#f01a1a"/>
<rect x="285.80" y="141.20" width="4.95" height="4.95" fill="#ee6c6c"/>
<rect x="290.70" y="141.20" width="4.95" height="4.95" fill="#fadcdc"/>
<rect x="300.50" y="141.20" width="9.85" height="4.95" fill="#dfdffb"/>
<rect x="315.20" y="141.20" width="9.85" height="4.95" fill="#dfdffb"/>
<rect x="329.90" y="141.20" width="4.95" height="4.95" fill="#ee6c6c"/>
<rect x="334.80" y="141.20" width="4.95" height="4.95" fill="#fadcdc"/>
<rect x="339.70" y="141.20" width="63.75" height="4.95" fill="#f4aaaa"/>
<rect x="403.40" y="141.20" width="4.95" height="4.95" fill="#fadcdc"/>
<rect x="408.30" y="141.20" width="14.75" height="4.95" fill="#f4aaaa"/>
<rect x="423.00" y="141.20" width="9.85" height="4.95" fill="#ee6c6c"/>
<rect x="432.80" y="141.20" width="4.95" height="4.95" fill="#f01a1a"/>
<rect x="437.70" y="141.20" width="4.95" height="4.95" fill="#ee6c6c"/>
<rect x="442.60" y="141.20" width="4.95" height="4.95" fill="#f4aaaa"/>
<rect x="447.50" y="141.20" width="4.95" height="4.95" fill="#fadcdc"/>
<rect x="462.20" y="141.20" width="9.85" height="4.95" fill="#dfdffb"/>
<rect x="496.50" y="141.20" width="4.95" height="4.95" fill="#f4aaaa"/>
<rect x="501.40" y="141.20" width="19.65" height="4.95" fill="#fadcdc"/>
<rect x="65.30" y="146.10" width="4.95" height="4.95" fill="#fadcdc"/>
<rect x="75.10" y="146.10" width="4.95" height="4.95" fill="#fadcdc"/>
<rect x="80.00" y="146.10" width="9.85" height="4.95" fill="#dfdffb"/>
<rect x="89.80" y="146.10" width="4.95" height="4.95" fill="#fadcdc"/>
<rect x="94.70" y="146.10" width="14.75" height="4.95" fill="#f01a1a"/>
<rect x="114.30" y="146.10" width="4.95" height="4.95" fill="#fadcdc"/>
<rect x="124.10" y="146.10" width="4.95" height="4.95" fill="#fadcdc"/>
<rect x="133.90" y="146.10" width="4.95" height="4.95" fill="#fadcdc"/>
<rect x="138.80" y="146.10" width="4.95" height="4.95" fill="#f4aaaa"/>
<rect x="143.70" y="146.10" width="4.95" height="4.95" fill="#f01a1a"/>
<rect x="153.50" y="146.10" width="14.75" height="4.95" fill="#f4aaaa"/>
<rect x="168.20" y="146.10" width="34.35" height="4.95" fill="#ee6c6c"/>
<rect x="202.50" y="146.10" width="4.95" height="4.95" fill="#f4aaaa"/>
<rect x="207.40" y="146.10" width="4.95" height="4.95" fill="#fadcdc"/>
<rect x="212.30" y="146.10" width="4.95" height="4.95" fill="#dfdffb"/>
<rect x="217.20" y="146.10" width="9.85" height="4.95" fill="#fadcdc"/>
<rect x="227.00" y="146.10" width="4.95" height="4.95" fill="#f4aaaa"/>
<rect x="241.70" y="146.10" width="4.95" height="4.95" fill="#f4aaaa"/>
<rect x="246.60" y="146.10" width="4.95" height="4.95" fill="#fadcdc"/>
<rect x="251.50" y="146.10" width="24.55" height="4.95" fill="#ee6c6c"/>
<rect x="276.00" y="146.10" width="9.85" height="4.95" fill="#f01a1a"/>
<rect x="285.80" y="146.10" width="4.95" height="4.95" fill="#ee6c6c"/>
<rect x="290.70" y="146.10" width="4.95" height="4.95" fill="#fadcdc"/>
<rect x="295.60" y="146.10" width="9.85" height="4.95" fill="#dfdffb"/>
<rect x="310.30" y="146.10" width="4.95" height="4.95" fill="#dfdffb"/>
<rect x="315.20" y="146.10" width="4.95" height="4.95" fill="#fadcdc"/>
<rect x="320.10" y="146.10" width="4.95" height="4.95" fill="#f4aaaa"/>
<rect x="329.90" y="146.10" width="4.95" height="4.95" fill="#f4aaaa"/>
<rect x="334.80" y="146.10" width="4.95" height="4.95" fill="#fadcdc"/>
<rect x="339.70" y="146.10" width="19.65" height="4.95" fill="#f4aaaa"/>
<rect x="359.30" y="146.10" width="4.95" height="4.95" fill="#fadcdc"/>
<rect x="364.20" y="146.10" width="39.25" height="4.95" fill="#f4aaaa"/>
<rect x="403.40" y="146.10" width="4.95" height="4.95" fill="#fadcdc"/>
<rect x="408.30" y="146.10" width="19.65" height="4.95" fill="#f4aaaa"/>
<rect x="427.90" y="146.10" width="14.75" height="4.95" fill="#ee6c6c"/>
<rect x="442.60" y="146.10" width="4.95" height="4.95" fill="#f4aaaa"/>
<rect x="447.50" y="146.10" width="4.95" height="4.95" fill="#fadcdc"/>
<rect x="462.20" y="146.10" width="4.95" height="4.95" fill="#dfdffb"/>
<rect x="496.50" y="146.10" width="4.95" height="4.95" fill="#fadcdc"/>
<rect x="501.40" y="146.10" width="4.95" height="4.95" fill="#f4aaaa"/>
<rect x="506.30" y="146.10" width="9.85" height="4.95" fill="#fadcdc"/>
<rect x="65.30" y="151.00" width="4.95" height="4.95" fill="#fadcdc"/>
<rect x="75.10" y="151.00" width="4.95" height="4.95" fill="#fadcdc"/>
<rect x="84.90" y="151.00" width="4.95" height="4.95" fill="#fadcdc"/>
<rect x="89.80" y="151.00" width="4.95" height="4.95" fill="#afb0f5"/>
<rect x="94.70" y="151.00" width="14.75" height="4.95" fill="#f01a1a"/>
<rect x="114.30" y="151.00" width="19.65" height="4.95" fill="#fadcdc"/>
<rect x="138.80" y="151.00" width="9.85" height="4.95" fill="#f01a1a"/>
<rect x="153.50" y="151.00" width="9.85" height="4.95" fill="#fadcdc"/>
<rect x="168.20" y="151.00" width="4.95" height="4.95" fill="#fadcdc"/>
<rect x="173.10" y="151.00" width="4.95" height="4.95" fill="#f4aaaa"/>
<rect x="182.90" y="151.00" width="4.95" height="4.95" fill="#dfdffb"/>
<rect x="187.80" y="151.00" width="4.95" height="4.95" fill="#fadcdc"/>
<rect x="192.70" y="151.00" width="9.85" height="4.95" fill="#f4aaaa"/>
<rect x="202.50" y="151.00" width="9.85" height="4.95" fill="#fadcdc"/>
<rect x="217.20" y="151.00" width="4.95" height="4.95" fill="#dfdffb"/>
<rect x="227.00" y="151.00" width="4.95" height="4.95" fill="#f4aaaa"/>
<rect x="231.90" y="151.00" width="4.95" height="4.95" fill="#dfdffb"/>
<rect x="241.70" y="151.00" width="4.95" height="4.95" fill="#fadcdc"/>
<rect x="251.50" y="151.00" width="4.95" height="4.95" fill="#fadcdc"/>
<rect x="261.30" y="151.00" width="9.85" height="4.95" fill="#fadcdc"/>
<rect x="271.10" y="151.00" width="9.85" height="4.95" fill="#f4aaaa"/>
<rect x="280.90" y="151.00" width="4.95" height="4.95" fill="#f01a1a"/>
<rect x="285.80" y="151.00" width="4.95" height="4.95" fill="#f4aaaa"/>
<rect x="290.70" y="151.00" width="4.95" height="4.95" fill="#fadcdc"/>
<rect x="300.50" y="151.00" width="14.75" height="4.95" fill="#fadcdc"/>
<rect x="315.20" y="151.00" width="4.95" height="4.95" fill="#dfdffb"/>
<rect x="320.10" y="151.00" width="4.95" height="4.95" fill="#ee6c6c"/>
<rect x="329.90" y="151.00" width="4.95" height="4.95" fill="#f4aaaa"/>
<rect x="339.70" y="151.00" width="4.95" height="4.95" fill="#fadcdc"/>
<rect x="349.50" y="151.00" width="9.85" height="4.95" fill="#fadcdc"/>
<rect x="359.30" y="151.00" width="4.95" height="4.95" fill="#f4aaaa"/>
<rect x="364.20" y="151.00" width="39.25" height="4.95" fill="#fadcdc"/>
<rect x="413.20" y="151.00" width="9.85" height="4.95" fill="#fadcdc"/>
<rect x="427.90" y="151.00" width="4.95" height="4.95" fill="#fadcdc"/>
<rect x="432.80" y="151.00" width="9.85" height="4.95" fill="#f01a1a"/>
<rect x="442.60" y="151.00" width="4.95" height="4.95" fill="#f4aaaa"/>
<rect x="457.30" y="151.00" width="4.95" height="4.95" fill="#f4aaaa"/>
<rect x="496.50" y="151.00" width="9.85" height="4.95" fill="#fadcdc"/>
<rect x="506.30" y="151.00" width="9.85" height="4.95" fill="#afb0f5"/>
<rect x="516.10" y="151.00" width="4.95" height="4.95" fill="#dfdffb"/>
<rect x="65.30" y="155.90" width="4.95" height="4.95" fill="#fadcdc"/>
<rect x="75.10" y="155.90" width="4.95" height="4.95" fill="#f4aaaa"/>
<rect x="80.00" y="155.90" width="4.95" height="4.95" fill="#fadcdc"/>
<rect x="84.90" y="155.90" width="4.95" height="4.95" fill="#f4aaaa"/>
<rect x="89.80" y="155.90" width="4.95" height="4.95" fill="#fadcdc"/>
<rect x="94.70" y="155.90" width="14.75" height="4.95" fill="#f01a1a"/>
<rect x="114.30" y="155.90" width="14.75" height="4.95" fill="#fadcdc"/>
<rect x="129.00" y="155.90" width="4.95" height="4.95" fill="#f4aaaa"/>
<rect x="133.90" y="155.90" width="4.95" height="4.95" fill="#f01a1a"/>
<rect x="143.70" y="155.90" width="4.95" height="4.95" fill="#fadcdc"/>
<rect x="153.50" y="155.90" width="9.85" height="4.95" fill="#fadcdc"/>
<rect x="163.30" y="155.90" width="4.95" height="4.95" fill="#dfdffb"/>
<rect x="168.20" y="155.90" width="4.95" height="4.95" fill="#afb0f5"/>
<rect x="178.00" y="155.90" width="4.95" height="4.95" fill="#afb0f5"/>
<rect x="182.90" y="155.90" width="4.95" height="4.95" fill="#dfdffb"/>
<rect x="187.80" y="155.90" width="19.65" height="4.95" fill="#fadcdc"/>
<rect x="207.40" y="155.90" width="4.95" height="4.95" fill="#f4aaaa"/>
<rect x="217.20" y="155.90" width="9.85" height="4.95" fill="#fadcdc"/>
<rect x="231.90" y="155.90" width="4.95" height="4.95" fill="#f4aaaa"/>
<rect x="241.70" y="155.90" width="4.95" height="4.95" fill="#fadcdc"/>
<rect x="256.40" y="155.90" width="9.85" height="4.95" fill="#afb0f5"/>
<rect x="276.00" y="155.90" width="4.95" height="4.95" fill="#fadcdc"/>
<rect x="280.90" y="155.90" width="4.95" height="4.95" fill="#f4aaaa"/>
<rect x="285.80" y="155.90" width="4.95" height="4.95" fill="#fadcdc"/>
<rect x="290.70" y="155.90" width="4.95" height="4.95" fill="#dfdffb"/>
<rect x="300.50" y="155.90" width="9.85" height="4.95" fill="#fadcdc"/>
<rect x="315.20" y="155.90" width="4.95" height="4.95" fill="#dfdffb"/>
<rect x="320.10" y="155.90" width="4.95" height="4.95" fill="#fadcdc"/>
<rect x="329.90" y="155.90" width="4.95" height="4.95" fill="#fadcdc"/>
<rect x="339.70" y="155.90" width="9.85" height="4.95" fill="#fadcdc"/>
<rect x="354.40" y="155.90" width="4.95" height="4.95" fill="#fadcdc"/>
<rect x="364.20" y="155.90" width="9.85" height="4.95" fill="#fadcdc"/>
<rect x="378.90" y="155.90" width="14.75" height="4.95" fill="#dfdffb"/>
<rect x="413.20" y="155.90" width="9.85" height="4.95" fill="#afb0f5"/>
<rect x="427.90" y="155.90" width="4.95" height="4.95" fill="#fadcdc"/>
<rect x="432.80" y="155.90" width="9.85" height="4.95" fill="#f01a1a"/>
<rect x="442.60" y="155.90" width="4.95" height="4.95" fill="#f4aaaa"/>
<rect x="447.50" y="155.90" width="4.95" height="4.95" fill="#fadcdc"/>
<rect x="457.30" y="155.90" width="4.95" height="4.95" fill="#dfdffb"/>
<rect x="462.20" y="155.90" width="4.95" height="4.95" fill="#fadcdc"/>
<rect x="501.40" y="155.90" width="4.95" height="4.95" fill="#dfdffb"/>
<rect x="506.30" y="155.90" width="9.85" height="4.95" fill="#afb0f5"/>
<rect x="516.10" y="155.90" width="4.95" height="4.95" fill="#fadcdc"/>
<rect x="65.30" y="160.80" width="4.95" height="4.95" fill="#fadcdc"/>
<rect x="75.10" y="160.80" width="4.95" height="4.95" fill="#dfdffb"/>
<rect x="80.00" y="160.80" width="4.95" height="4.95" fill="#fadcdc"/>
<rect x="84.90" y="160.80" width="4.95" height="4.95" fill="#f4aaaa"/>
<rect x="89.80" y="160.80" width="4.95" height="4.95" fill="#dfdffb"/>
<rect x="94.70" y="160.80" width="4.95" height="4.95" fill="#afb0f5"/>
<rect x="99.60" y="160.80" width="9.85" height="4.95" fill="#f01a1a"/>
<rect x="119.20" y="160.80" width="4.95" height="4.95" fill="#fadcdc"/>
<rect x="124.10" y="160.80" width="4.95" height="4.95" fill="#ee6c6c"/>
<rect x="129.00" y="160.80" width="9.85" height="4.95" fill="#f01a1a"/>
<rect x="138.80" y="160.80" width="9.85" height="4.95" fill="#fadcdc"/>
<rect x="158.40" y="160.80" width="4.95" height="4.95" fill="#fadcdc"/>
<rect x="163.30" y="160.80" width="14.75" height="4.95" fill="#dfdffb"/>
<rect x="182.90" y="160.80" width="4.95" height="4.95" fill="#dfdffb"/>
<rect x="187.80" y="160.80" width="9.85" height="4.95" fill="#afb0f5"/>
<rect x="197.60" y="160.80" width="9.85" height="4.95" fill="#dfdffb"/>
<rect x="212.30" y="160.80" width="19.65" height="4.95" fill="#f01a1a"/>
<rect x="231.90" y="160.80" width="4.95" height="4.95" fill="#ee6c6c"/>
<rect x="256.40" y="160.80" width="4.95" height="4.95" fill="#dfdffb"/>
<rect x="271.10" y="160.80" width="4.95" height="4.95" fill="#afb0f5"/>
<rect x="276.00" y="160.80" width="4.95" height="4.95" fill="#dfdffb"/>
<rect x="280.90" y="160.80" width="9.85" height="4.95" fill="#fadcdc"/>
<rect x="290.70" y="160.80" width="4.95" height="4.95" fill="#dfdffb"/>
<rect x="300.50" y="160.80" width="9.85" height="4.95" fill="#f4aaaa"/>
<rect x="310.30" y="160.80" width="4.95" height="4.95" fill="#ee6c6c"/>
<rect x="315.20" y="160.80" width="4.95" height="4.95" fill="#f01a1a"/>
<rect x="320.10" y="160.80" width="4.95" height="4.95" fill="#f4aaaa"/>
<rect x="344.60" y="160.80" width="4.95" height="4.95" fill="#dfdffb"/>
<rect x="364.20" y="160.80" width="9.85" height="4.95" fill="#dfdffb"/>
<rect x="378.90" y="160.80" width="19.65" height="4.95" fill="#dfdffb"/>
<rect x="413.20" y="160.80" width="4.95" height="4.95" fill="#fadcdc"/>
<rect x="423.00" y="160.80" width="4.95" height="4.95" fill="#f4aaaa"/>
<rect x="427.90" y="160.80" width="4.95" height="4.95" fill="#fadcdc"/>
<rect x="432.80" y="160.80" width="4.95" height="4.95" fill="#dfdffb"/>
<rect x="437.70" y="160.80" width="4.95" height="4.95" fill="#f4aaaa"/>
<rect x="442.60" y="160.80" width="4.95" height="4.95" fill="#ee6c6c"/>
<rect x="447.50" y="160.80" width="4.95" height="4.95" fill="#fadcdc"/>
<rect x="457.30" y="160.80" width="9.85" height="4.95" fill="#fadcdc"/>
<rect x="467.10" y="160.80" width="4.95" height="4.95" fill="#ee6c6c"/>
<rect x="496.50" y="160.80" width="4.95" height="4.95" fill="#fadcdc"/>
<rect x="506.30" y="160.80" width="4.95" height="4.95" fill="#f01a1a"/>
<rect x="511.20" y="160.80" width="4.95" height="4.95" fill="#fadcdc"/>
<rect x="516.10" y="160.80" width="4.95" height="4.95" fill="#dfdffb"/>
<rect x="65.30" y="170.60" width="4.95" height="4.95" fill="#fadcdc"/>
<rect x="80.00" y="170.60" width="9.85" height="4.95" fill="#fadcdc"/>
<rect x="89.80" y="170.60" width="4.95" height="4.95" fill="#f01a1a"/>
<rect x="94.70" y="170.60" width="4.95" height="4.95" fill="#dfdffb"/>
<rect x="99.60" y="170.60" width="9.85" height="4.95" fill="#1408f3"/>
<rect x="114.30" y="170.60" width="4.95" height="4.95" fill="#fadcdc"/>
<rect x="124.10" y="170.60" width="9.85" height="4.95" fill="#f4aaaa"/>
<rect x="133.90" y="170.60" width="9.85" height="4.95" fill="#fadcdc"/>
<rect x="163.30" y="170.60" width="4.95" height="4.95" fill="#fadcdc"/>
<rect x="168.20" y="170.60" width="4.95" height="4.95" fill="#f4aaaa"/>
<rect x="173.10" y="170.60" width="4.95" height="4.95" fill="#fadcdc"/>
<rect x="178.00" y="170.60" width="4.95" height="4.95" fill="#f4aaaa"/>
<rect x="182.90" y="170.60" width="4.95" height="4.95" fill="#fadcdc"/>
<rect x="187.80" y="170.60" width="4.95" height="4.95" fill="#dfdffb"/>
<rect x="192.70" y="170.60" width="4.95" height="4.95" fill="#afb0f5"/>
<rect x="197.60" y="170.60" width="9.85" height="4.95" fill="#dfdffb"/>
<rect x="212.30" y="170.60" width="9.85" height="4.95" fill="#f4aaaa"/>
<rect x="222.10" y="170.60" width="4.95" height="4.95" fill="#fadcdc"/>
<rect x="227.00" y="170.60" width="4.95" height="4.95" fill="#f4aaaa"/>
<rect x="231.90" y="170.60" width="4.95" height="4.95" fill="#fadcdc"/>
<rect x="256.40" y="170.60" width="4.95" height="4.95" fill="#f4aaaa"/>
<rect x="261.30" y="170.60" width="4.95" height="4.95" fill="#dfdffb"/>
<rect x="266.20" y="170.60" width="4.95" height="4.95" fill="#fadcdc"/>
<rect x="271.10" y="170.60" width="4.95" height="4.95" fill="#afb0f5"/>
<rect x="280.90" y="170.60" width="4.95" height="4.95" fill="#7070f1"/>
<rect x="285.80" y="170.60" width="14.75" height="4.95" fill="#dfdffb"/>
<rect x="300.50" y="170.60" width="14.75" height="4.95" fill="#f4aaaa"/>
<rect x="315.20" y="170.60" width="4.95" height="4.95" fill="#ee6c6c"/>
<rect x="320.10" y="170.60" width="4.95" height="4.95" fill="#fadcdc"/>
<rect x="339.70" y="170.60" width="4.95" height="4.95" fill="#afb0f5"/>
<rect x="349.50" y="170.60" width="19.65" height="4.95" fill="#afb0f5"/>
<rect x="369.10" y="170.60" width="9.85" height="4.95" fill="#dfdffb"/>
<rect x="378.90" y="170.60" width="19.65" height="4.95" fill="#afb0f5"/>
<rect x="398.50" y="170.60" width="4.95" height="4.95" fill="#dfdffb"/>
<rect x="413.20" y="170.60" width="9.85" height="4.95" fill="#fadcdc"/>
<rect x="427.90" y="170.60" width="4.95" height="4.95" fill="#7070f1"/>
<rect x="432.80" y="170.60" width="4.95" height="4.95" fill="#dfdffb"/>
<rect x="437.70" y="170.60" width="4.95" height="4.95" fill="#7070f1"/>
<rect x="462.20" y="170.60" width="4.95" height="4.95" fill="#f4aaaa"/>
<rect x="467.10" y="170.60" width="4.95" height="4.95" fill="#fadcdc"/>
<rect x="496.50" y="170.60" width="4.95" height="4.95" fill="#afb0f5"/>
<rect x="516.10" y="170.60" width="4.95" height="4.95" fill="#f4aaaa"/>
<rect x="65.30" y="175.50" width="4.95" height="4.95" fill="#fadcdc"/>
<rect x="80.00" y="175.50" width="4.95" height="4.95" fill="#fadcdc"/>
<rect x="94.70" y="175.50" width="9.85" height="4.95" fill="#dfdffb"/>
<rect x="104.50" y="175.50" width="4.95" height="4.95" fill="#1408f3"/>
<rect x="124.10" y="175.50" width="9.85" height="4.95" fill="#f4aaaa"/>
<rect x="133.90" y="175.50" width="4.95" height="4.95" fill="#fadcdc"/>
<rect x="143.70" y="175.50" width="4.95" height="4.95" fill="#dfdffb"/>
<rect x="178.00" y="175.50" width="4.95" height="4.95" fill="#dfdffb"/>
<rect x="212.30" y="175.50" width="9.85" height="4.95" fill="#fadcdc"/>
<rect x="227.00" y="175.50" width="4.95" height="4.95" fill="#fadcdc"/>
<rect x="75.10" y="180.40" width="4.95" height="4.95" fill="#dfdffb"/>
<rect x="80.00" y="180.40" width="14.75" height="4.95" fill="#fadcdc"/>
<rect x="94.70" y="180.40" width="4.95" height="4.95" fill="#f4aaaa"/>
<rect x="99.60" y="180.40" width="4.95" height="4.95" fill="#dfdffb"/>
<rect x="104.50" y="180.40" width="4.95" height="4.95" fill="#7070f1"/>
<rect x="124.10" y="180.40" width="9.85" height="4.95" fill="#ee6c6c"/>
<rect x="133.90" y="180.40" width="4.95" height="4.95" fill="#fadcdc"/>
<rect x="143.70" y="180.40" width="4.95" height="4.95" fill="#dfdffb"/>
<rect x="153.50" y="180.40" width="4.95" height="4.95" fill="#f4aaaa"/>
<rect x="173.10" y="180.40" width="4.95" height="4.95" fill="#fadcdc"/>
<rect x="178.00" y="180.40" width="4.95" height="4.95" fill="#dfdffb"/>
<rect x="212.30" y="180.40" width="9.85" height="4.95" fill="#fadcdc"/>
<rect x="227.00" y="180.40" width="9.85" height="4.95" fill="#dfdffb"/>
<rect x="266.20" y="180.40" width="14.75" height="4.95" fill="#fadcdc"/>
<rect x="305.40" y="180.40" width="4.95" height="4.95" fill="#fadcdc"/>
<rect x="329.90" y="180.40" width="4.95" height="4.95" fill="#fadcdc"/>
<rect x="339.70" y="180.40" width="4.95" height="4.95" fill="#dfdffb"/>
<rect x="349.50" y="180.40" width="19.65" height="4.95" fill="#dfdffb"/>
<rect x="418.10" y="180.40" width="9.85" height="4.95" fill="#fadcdc"/>
<rect x="427.90" y="180.40" width="9.85" height="4.95" fill="#f4aaaa"/>
<rect x="437.70" y="180.40" width="4.95" height="4.95" fill="#fadcdc"/>
<rect x="457.30" y="180.40" width="9.85" height="4.95" fill="#fadcdc"/>
<rect x="516.10" y="180.40" width="4.95" height="4.95" fill="#dfdffb"/>
<rect x="75.10" y="185.30" width="4.95" height="4.95" fill="#dfdffb"/>
<rect x="80.00" y="185.30" width="4.95" height="4.95" fill="#fadcdc"/>
<rect x="84.90" y="185.30" width="4.95" height="4.95" fill="#f4aaaa"/>
<rect x="89.80" y="185.30" width="4.95" height="4.95" fill="#fadcdc"/>
<rect x="94.70" y="185.30" width="4.95" height="4.95" fill="#f4aaaa"/>
<rect x="104.50" y="185.30" width="4.95" height="4.95" fill="#afb0f5"/>
<rect x="114.30" y="185.30" width="4.95" height="4.95" fill="#fadcdc"/>
<rect x="124.10" y="185.30" width="9.85" height="4.95" fill="#ee6c6c"/>
<rect x="133.90" y="185.30" width="4.95" height="4.95" fill="#fadcdc"/>
<rect x="138.80" y="185.30" width="4.95" height="4.95" fill="#afb0f5"/>
<rect x="143.70" y="185.30" width="4.95" height="4.95" fill="#dfdffb"/>
<rect x="153.50" y="185.30" width="4.95" height="4.95" fill="#f4aaaa"/>
<rect x="178.00" y="185.30" width="4.95" height="4.95" fill="#fadcdc"/>
<rect x="182.90" y="185.30" width="4.95" height="4.95" fill="#f4aaaa"/>
<rect x="187.80" y="185.30" width="4.95" height="4.95" fill="#fadcdc"/>
<rect x="212.30" y="185.30" width="4.95" height="4.95" fill="#f4aaaa"/>
<rect x="217.20" y="185.30" width="4.95" height="4.95" fill="#fadcdc"/>
<rect x="222.10" y="185.30" width="4.95" height="4.95" fill="#dfdffb"/>
<rect x="227.00" y="185.30" width="9.85" height="4.95" fill="#afb0f5"/>
<rect x="241.70" y="185.30" width="4.95" height="4.95" fill="#f4aaaa"/>
<rect x="266.20" y="185.30" width="4.95" height="4.95" fill="#fadcdc"/>
<rect x="271.10" y="185.30" width="9.85" height="4.95" fill="#ee6c6c"/>
<rect x="300.50" y="185.30" width="4.95" height="4.95" fill="#fadcdc"/>
<rect x="310.30" y="185.30" width="4.95" height="4.95" fill="#dfdffb"/>
<rect x="315.20" y="185.30" width="4.95" height="4.95" fill="#afb0f5"/>
<rect x="320.10" y="185.30" width="4.95" height="4.95" fill="#dfdffb"/>
<rect x="329.90" y="185.30" width="4.95" height="4.95" fill="#f4aaaa"/>
<rect x="339.70" y="185.30" width="9.85" height="4.95" fill="#dfdffb"/>
<rect x="349.50" y="185.30" width="19.65" height="4.95" fill="#afb0f5"/>
<rect x="374.00" y="185.30" width="4.95" height="4.95" fill="#dfdffb"/>
<rect x="378.90" y="185.30" width="4.95" height="4.95" fill="#afb0f5"/>
<rect x="383.80" y="185.30" width="4.95" height="4.95" fill="#dfdffb"/>
<rect x="403.40" y="185.30" width="4.95" height="4.95" fill="#afb0f5"/>
<rect x="418.10" y="185.30" width="9.85" height="4.95" fill="#fadcdc"/>
<rect x="427.90" y="185.30" width="9.85" height="4.95" fill="#ee6c6c"/>
<rect x="437.70" y="185.30" width="4.95" height="4.95" fill="#f4aaaa"/>
<rect x="452.40" y="185.30" width="4.95" height="4.95" fill="#dfdffb"/>
<rect x="457.30" y="185.30" width="4.95" height="4.95" fill="#fadcdc"/>
<rect x="501.40" y="185.30" width="4.95" height="4.95" fill="#dfdffb"/>
<rect x="511.20" y="185.30" width="4.95" height="4.95" fill="#f4aaaa"/>
<rect x="80.00" y="190.20" width="4.95" height="4.95" fill="#fadcdc"/>
<rect x="84.90" y="190.20" width="4.95" height="4.95" fill="#f4aaaa"/>
<rect x="89.80" y="190.20" width="9.85" height="4.95" fill="#fadcdc"/>
<rect x="99.60" y="190.20" width="4.95" height="4.95" fill="#1408f3"/>
<rect x="104.50" y="190.20" width="4.95" height="4.95" fill="#afb0f5"/>
<rect x="114.30" y="190.20" width="4.95" height="4.95" fill="#fadcdc"/>
<rect x="124.10" y="190.20" width="9.85" height="4.95" fill="#ee6c6c"/>
<rect x="133.90" y="190.20" width="4.95" height="4.95" fill="#fadcdc"/>
<rect x="138.80" y="190.20" width="4.95" height="4.95" fill="#dfdffb"/>
<rect x="153.50" y="190.20" width="4.95" height="4.95" fill="#fadcdc"/>
<rect x="163.30" y="190.20" width="4.95" height="4.95" fill="#dfdffb"/>
<rect x="168.20" y="190.20" width="4.95" height="4.95" fill="#fadcdc"/>
<rect x="178.00" y="190.20" width="14.75" height="4.95" fill="#fadcdc"/>
<rect x="212.30" y="190.20" width="9.85" height="4.95" fill="#f4aaaa"/>
<rect x="227.00" y="190.20" width="4.95" height="4.95" fill="#dfdffb"/>
<rect x="231.90" y="190.20" width="4.95" height="4.95" fill="#7070f1"/>
<rect x="241.70" y="190.20" width="4.95" height="4.95" fill="#fadcdc"/>
<rect x="251.50" y="190.20" width="4.95" height="4.95" fill="#afb0f5"/>
<rect x="271.10" y="190.20" width="4.95" height="4.95" fill="#f4aaaa"/>
<rect x="276.00" y="190.20" width="4.95" height="4.95" fill="#fadcdc"/>
<rect x="290.70" y="190.20" width="4.95" height="4.95" fill="#fadcdc"/>
<rect x="300.50" y="190.20" width="9.85" height="4.95" fill="#fadcdc"/>
<rect x="315.20" y="190.20" width="4.95" height="4.95" fill="#dfdffb"/>
<rect x="320.10" y="190.20" width="4.95" height="4.95" fill="#afb0f5"/>
<rect x="329.90" y="190.20" width="4.95" height="4.95" fill="#f4aaaa"/>
<rect x="339.70" y="190.20" width="4.95" height="4.95" fill="#7070f1"/>
<rect x="344.60" y="190.20" width="24.55" height="4.95" fill="#afb0f5"/>
<rect x="369.10" y="190.20" width="4.95" height="4.95" fill="#dfdffb"/>
<rect x="374.00" y="190.20" width="4.95" height="4.95" fill="#afb0f5"/>
<rect x="378.90" y="190.20" width="9.85" height="4.95" fill="#7070f1"/>
<rect x="388.70" y="190.20" width="9.85" height="4.95" fill="#afb0f5"/>
<rect x="398.50" y="190.20" width="4.95" height="4.95" fill="#7070f1"/>
<rect x="403.40" y="190.20" width="4.95" height="4.95" fill="#dfdffb"/>
<rect x="408.30" y="190.20" width="4.95" height="4.95" fill="#afb0f5"/>
<rect x="423.00" y="190.20" width="4.95" height="4.95" fill="#fadcdc"/>
<rect x="427.90" y="190.20" width="14.75" height="4.95" fill="#f4aaaa"/>
<rect x="442.60" y="190.20" width="4.95" height="4.95" fill="#fadcdc"/>
<rect x="496.50" y="190.20" width="4.95" height="4.95" fill="#dfdffb"/>
<rect x="501.40" y="190.20" width="9.85" height="4.95" fill="#7070f1"/>
<rect x="511.20" y="190.20" width="4.95" height="4.95" fill="#1408f3"/>
<rect x="516.10" y="190.20" width="4.95" height="4.95" fill="#7070f1"/>
<rect x="521.00" y="190.20" width="4.95" height="4.95" fill="#afb0f5"/>
<rect x="75.10" y="195.10" width="4.95" height="4.95" fill="#dfdffb"/>
<rect x="80.00" y="195.10" width="4.95" height="4.95" fill="#fadcdc"/>
<rect x="84.90" y="195.10" width="4.95" height="4.95" fill="#f4aaaa"/>
<rect x="94.70" y="195.10" width="4.95" height="4.95" fill="#dfdffb"/>
<rect x="99.60" y="195.10" width="4.95" height="4.95" fill="#7070f1"/>
<rect x="104.50" y="195.10" width="4.95" height="4.95" fill="#afb0f5"/>
<rect x="124.10" y="195.10" width="9.85" height="4.95" fill="#ee6c6c"/>
<rect x="133.90" y="195.10" width="4.95" height="4.95" fill="#fadcdc"/>
<rect x="138.80" y="195.10" width="9.85" height="4.95" fill="#dfdffb"/>
<rect x="153.50" y="195.10" width="4.95" height="4.95" fill="#f4aaaa"/>
<rect x="163.30" y="195.10" width="4.95" height="4.95" fill="#dfdffb"/>
<rect x="168.20" y="195.10" width="9.85" height="4.95" fill="#fadcdc"/>
<rect x="182.90" y="195.10" width="4.95" height="4.95" fill="#fadcdc"/>
<rect x="202.50" y="195.10" width="4.95" height="4.95" fill="#fadcdc"/>
<rect x="212.30" y="195.10" width="4.95" height="4.95" fill="#f4aaaa"/>
<rect x="217.20" y="195.10" width="4.95" height="4.95" fill="#fadcdc"/>
<rect x="227.00" y="195.10" width="9.85" height="4.95" fill="#dfdffb"/>
<rect x="241.70" y="195.10" width="4.95" height="4.95" fill="#f4aaaa"/>
<rect x="251.50" y="195.10" width="4.95" height="4.95" fill="#afb0f5"/>
<rect x="276.00" y="195.10" width="4.95" height="4.95" fill="#afb0f5"/>
<rect x="290.70" y="195.10" width="4.95" height="4.95" fill="#f4aaaa"/>
<rect x="305.40" y="195.10" width="4.95" height="4.95" fill="#fadcdc"/>
<rect x="310.30" y="195.10" width="9.85" height="4.95" fill="#dfdffb"/>
<rect x="329.90" y="195.10" width="4.95" height="4.95" fill="#ee6c6c"/>
<rect x="339.70" y="195.10" width="14.75" height="4.95" fill="#afb0f5"/>
<rect x="354.40" y="195.10" width="4.95" height="4.95" fill="#dfdffb"/>
<rect x="359.30" y="195.10" width="4.95" height="4.95" fill="#afb0f5"/>
<rect x="364.20" y="195.10" width="4.95" height="4.95" fill="#7070f1"/>
<rect x="369.10" y="195.10" width="4.95" height="4.95" fill="#dfdffb"/>
<rect x="374.00" y="195.10" width="4.95" height="4.95" fill="#afb0f5"/>
<rect x="378.90" y="195.10" width="4.95" height="4.95" fill="#7070f1"/>
<rect x="383.80" y="195.10" width="19.65" height="4.95" fill="#afb0f5"/>
<rect x="403.40" y="195.10" width="4.95" height="4.95" fill="#dfdffb"/>
<rect x="408.30" y="195.10" width="4.95" height="4.95" fill="#afb0f5"/>
<rect x="427.90" y="195.10" width="14.75" height="4.95" fill="#fadcdc"/>
<rect x="501.40" y="195.10" width="9.85" height="4.95" fill="#7070f1"/>
<rect x="511.20" y="195.10" width="4.95" height="4.95" fill="#1408f3"/>
<rect x="516.10" y="195.10" width="4.95" height="4.95" fill="#7070f1"/>
<rect x="521.00" y="195.10" width="4.95" height="4.95" fill="#afb0f5"/>
<rect x="80.00" y="200.00" width="9.85" height="4.95" fill="#fadcdc"/>
<rect x="94.70" y="200.00" width="4.95" height="4.95" fill="#afb0f5"/>
<rect x="99.60" y="200.00" width="4.95" height="4.95" fill="#7070f1"/>
<rect x="104.50" y="200.00" width="4.95" height="4.95" fill="#afb0f5"/>
<rect x="124.10" y="200.00" width="9.85" height="4.95" fill="#ee6c6c"/>
<rect x="133.90" y="200.00" width="4.95" height="4.95" fill="#fadcdc"/>
<rect x="143.70" y="200.00" width="4.95" height="4.95" fill="#afb0f5"/>
<rect x="153.50" y="200.00" width="9.85" height="4.95" fill="#dfdffb"/>
<rect x="168.20" y="200.00" width="9.85" height="4.95" fill="#fadcdc"/>
<rect x="187.80" y="200.00" width="4.95" height="4.95" fill="#fadcdc"/>
<rect x="202.50" y="200.00" width="4.95" height="4.95" fill="#fadcdc"/>
<rect x="212.30" y="200.00" width="9.85" height="4.95" fill="#fadcdc"/>
<rect x="222.10" y="200.00" width="4.95" height="4.95" fill="#dfdffb"/>
<rect x="227.00" y="200.00" width="4.95" height="4.95" fill="#afb0f5"/>
<rect x="231.90" y="200.00" width="4.95" height="4.95" fill="#dfdffb"/>
<rect x="241.70" y="200.00" width="4.95" height="4.95" fill="#fadcdc"/>
<rect x="290.70" y="200.00" width="4.95" height="4.95" fill="#f4aaaa"/>
<rect x="310.30" y="200.00" width="4.95" height="4.95" fill="#dfdffb"/>
<rect x="329.90" y="200.00" width="4.95" height="4.95" fill="#fadcdc"/>
<rect x="339.70" y="200.00" width="9.85" height="4.95" fill="#7070f1"/>
<rect x="349.50" y="200.00" width="19.65" height="4.95" fill="#afb0f5"/>
<rect x="369.10" y="200.00" width="34.35" height="4.95" fill="#dfdffb"/>
<rect x="413.20" y="200.00" width="9.85" height="4.95" fill="#fadcdc"/>
<rect x="423.00" y="200.00" width="9.85" height="4.95" fill="#f4aaaa"/>
<rect x="432.80" y="200.00" width="4.95" height="4.95" fill="#fadcdc"/>
<rect x="442.60" y="200.00" width="4.95" height="4.95" fill="#f4aaaa"/>
<rect x="447.50" y="200.00" width="4.95" height="4.95" fill="#fadcdc"/>
<rect x="457.30" y="200.00" width="4.95" height="4.95" fill="#fadcdc"/>
<rect x="501.40" y="200.00" width="4.95" height="4.95" fill="#afb0f5"/>
<rect x="506.30" y="200.00" width="9.85" height="4.95" fill="#dfdffb"/>
<rect x="516.10" y="200.00" width="4.95" height="4.95" fill="#afb0f5"/>
<rect x="521.00" y="200.00" width="4.95" height="4.95" fill="#dfdffb"/>
<rect x="80.00" y="204.90" width="9.85" height="4.95" fill="#fadcdc"/>
<rect x="94.70" y="204.90" width="14.75" height="4.95" fill="#afb0f5"/>
<rect x="114.30" y="204.90" width="4.95" height="4.95" fill="#afb0f5"/>
<rect x="124.10" y="204.90" width="9.85" height="4.95" fill="#ee6c6c"/>
<rect x="133.90" y="204.90" width="4.95" height="4.95" fill="#fadcdc"/>
<rect x="143.70" y="204.90" width="4.95" height="4.95" fill="#afb0f5"/>
<rect x="153.50" y="204.90" width="4.95" height="4.95" fill="#dfdffb"/>
<rect x="168.20" y="204.90" width="19.65" height="4.95" fill="#fadcdc"/>
<rect x="192.70" y="204.90" width="19.65" height="4.95" fill="#fadcdc"/>
<rect x="212.30" y="204.90" width="4.95" height="4.95" fill="#f4aaaa"/>
<rect x="217.20" y="204.90" width="4.95" height="4.95" fill="#fadcdc"/>
<rect x="227.00" y="204.90" width="4.95" height="4.95" fill="#dfdffb"/>
<rect x="241.70" y="204.90" width="4.95" height="4.95" fill="#fadcdc"/>
<rect x="280.90" y="204.90" width="4.95" height="4.95" fill="#dfdffb"/>
<rect x="290.70" y="204.90" width="4.95" height="4.95" fill="#fadcdc"/>
<rect x="300.50" y="204.90" width="9.85" height="4.95" fill="#fadcdc"/>
<rect x="339.70" y="204.90" width="4.95" height="4.95" fill="#dfdffb"/>
<rect x="349.50" y="204.90" width="19.65" height="4.95" fill="#dfdffb"/>
<rect x="374.00" y="204.90" width="29.45" height="4.95" fill="#dfdffb"/>
<rect x="462.20" y="204.90" width="4.95" height="4.95" fill="#fadcdc"/>
<rect x="496.50" y="204.90" width="9.85" height="4.95" fill="#dfdffb"/>
<rect x="511.20" y="204.90" width="4.95" height="4.95" fill="#dfdffb"/>
<rect x="516.10" y="204.90" width="4.95" height="4.95" fill="#afb0f5"/>
<rect x="521.00" y="204.90" width="4.95" height="4.95" fill="#dfdffb"/>
<rect x="65.30" y="209.80" width="4.95" height="4.95" fill="#fadcdc"/>
<rect x="80.00" y="209.80" width="9.85" height="4.95" fill="#fadcdc"/>
<rect x="89.80" y="209.80" width="4.95" height="4.95" fill="#dfdffb"/>
<rect x="94.70" y="209.80" width="4.95" height="4.95" fill="#afb0f5"/>
<rect x="99.60" y="209.80" width="9.85" height="4.95" fill="#7070f1"/>
<rect x="124.10" y="209.80" width="9.85" height="4.95" fill="#ee6c6c"/>
<rect x="133.90" y="209.80" width="4.95" height="4.95" fill="#f4aaaa"/>
<rect x="143.70" y="209.80" width="4.95" height="4.95" fill="#afb0f5"/>
<rect x="153.50" y="209.80" width="4.95" height="4.95" fill="#afb0f5"/>
<rect x="168.20" y="209.80" width="44.15" height="4.95" fill="#fadcdc"/>
<rect x="212.30" y="209.80" width="14.75" height="4.95" fill="#f4aaaa"/>
<rect x="241.70" y="209.80" width="4.95" height="4.95" fill="#f4aaaa"/>
<rect x="251.50" y="209.80" width="4.95" height="4.95" fill="#dfdffb"/>
<rect x="276.00" y="209.80" width="14.75" height="4.95" fill="#dfdffb"/>
<rect x="290.70" y="209.80" width="4.95" height="4.95" fill="#fadcdc"/>
<rect x="300.50" y="209.80" width="14.75" height="4.95" fill="#f4aaaa"/>
<rect x="315.20" y="209.80" width="4.95" height="4.95" fill="#fadcdc"/>
<rect x="329.90" y="209.80" width="4.95" height="4.95" fill="#afb0f5"/>
<rect x="339.70" y="209.80" width="4.95" height="4.95" fill="#dfdffb"/>
<rect x="349.50" y="209.80" width="4.95" height="4.95" fill="#dfdffb"/>
<rect x="354.40" y="209.80" width="4.95" height="4.95" fill="#afb0f5"/>
<rect x="359.30" y="209.80" width="14.75" height="4.95" fill="#dfdffb"/>
<rect x="374.00" y="209.80" width="9.85" height="4.95" fill="#afb0f5"/>
<rect x="383.80" y="209.80" width="19.65" height="4.95" fill="#dfdffb"/>
<rect x="418.10" y="209.80" width="9.85" height="4.95" fill="#fadcdc"/>
<rect x="437.70" y="209.80" width="4.95" height="4.95" fill="#dfdffb"/>
<rect x="496.50" y="209.80" width="4.95" height="4.95" fill="#dfdffb"/>
<rect x="506.30" y="209.80" width="4.95" height="4.95" fill="#fadcdc"/>
<rect x="511.20" y="209.80" width="4.95" height="4.95" fill="#dfdffb"/>
<rect x="516.10" y="209.80" width="4.95" height="4.95" fill="#afb0f5"/>
<rect x="521.00" y="209.80" width="4.95" height="4.95" fill="#dfdffb"/>
<rect x="65.30" y="214.70" width="4.95" height="4.95" fill="#fadcdc"/>
<rect x="80.00" y="214.70" width="9.85" height="4.95" fill="#fadcdc"/>
<rect x="94.70" y="214.70" width="4.95" height="4.95" fill="#afb0f5"/>
<rect x="99.60" y="214.70" width="4.95" height="4.95" fill="#7070f1"/>
<rect x="104.50" y="214.70" width="4.95" height="4.95" fill="#afb0f5"/>
<rect x="124.10" y="214.70" width="9.85" height="4.95" fill="#ee6c6c"/>
<rect x="133.90" y="214.70" width="4.95" height="4.95" fill="#f4aaaa"/>
<rect x="143.70" y="214.70" width="4.95" height="4.95" fill="#afb0f5"/>
<rect x="153.50" y="214.70" width="4.95" height="4.95" fill="#afb0f5"/>
<rect x="168.20" y="214.70" width="4.95" height="4.95" fill="#fadcdc"/>
<rect x="178.00" y="214.70" width="14.75" height="4.95" fill="#fadcdc"/>
<rect x="197.60" y="214.70" width="14.75" height="4.95" fill="#fadcdc"/>
<rect x="212.30" y="214.70" width="9.85" height="4.95" fill="#f4aaaa"/>
<rect x="222.10" y="214.70" width="4.95" height="4.95" fill="#fadcdc"/>
<rect x="241.70" y="214.70" width="4.95" height="4.95" fill="#fadcdc"/>
<rect x="276.00" y="214.70" width="9.85" height="4.95" fill="#dfdffb"/>
<rect x="290.70" y="214.70" width="4.95" height="4.95" fill="#fadcdc"/>
<rect x="300.50" y="214.70" width="14.75" height="4.95" fill="#f4aaaa"/>
<rect x="315.20" y="214.70" width="4.95" height="4.95" fill="#fadcdc"/>
<rect x="329.90" y="214.70" width="4.95" height="4.95" fill="#dfdffb"/>
<rect x="339.70" y="214.70" width="4.95" height="4.95" fill="#dfdffb"/>
<rect x="349.50" y="214.70" width="19.65" height="4.95" fill="#dfdffb"/>
<rect x="374.00" y="214.70" width="29.45" height="4.95" fill="#dfdffb"/>
<rect x="427.90" y="214.70" width="4.95" height="4.95" fill="#fadcdc"/>
<rect x="452.40" y="214.70" width="14.75" height="4.95" fill="#fadcdc"/>
<rect x="511.20" y="214.70" width="4.95" height="4.95" fill="#dfdffb"/>
<rect x="516.10" y="214.70" width="4.95" height="4.95" fill="#7070f1"/>
<rect x="521.00" y="214.70" width="4.95" height="4.95" fill="#dfdffb"/>
<rect x="65.30" y="219.60" width="4.95" height="4.95" fill="#fadcdc"/>
<rect x="80.00" y="219.60" width="4.95" height="4.95" fill="#f4aaaa"/>
<rect x="89.80" y="219.60" width="14.75" height="4.95" fill="#afb0f5"/>
<rect x="104.50" y="219.60" width="4.95" height="4.95" fill="#1408f3"/>
<rect x="114.30" y="219.60" width="4.95" height="4.95" fill="#afb0f5"/>
<rect x="124.10" y="219.60" width="14.75" height="4.95" fill="#f4aaaa"/>
<rect x="143.70" y="219.60" width="4.95" height="4.95" fill="#dfdffb"/>
<rect x="153.50" y="219.60" width="4.95" height="4.95" fill="#dfdffb"/>
<rect x="168.20" y="219.60" width="4.95" height="4.95" fill="#fadcdc"/>
<rect x="178.00" y="219.60" width="4.95" height="4.95" fill="#fadcdc"/>
<rect x="182.90" y="219.60" width="4.95" height="4.95" fill="#f4aaaa"/>
<rect x="187.80" y="219.60" width="14.75" height="4.95" fill="#fadcdc"/>
<rect x="207.40" y="219.60" width="14.75" height="4.95" fill="#fadcdc"/>
<rect x="227.00" y="219.60" width="9.85" height="4.95" fill="#afb0f5"/>
<rect x="241.70" y="219.60" width="4.95" height="4.95" fill="#7070f1"/>
<rect x="251.50" y="219.60" width="4.95" height="4.95" fill="#dfdffb"/>
<rect x="261.30" y="219.60" width="14.75" height="4.95" fill="#fadcdc"/>
<rect x="276.00" y="219.60" width="4.95" height="4.95" fill="#dfdffb"/>
<rect x="290.70" y="219.60" width="4.95" height="4.95" fill="#fadcdc"/>
<rect x="320.10" y="219.60" width="4.95" height="4.95" fill="#afb0f5"/>
<rect x="329.90" y="219.60" width="19.65" height="4.95" fill="#afb0f5"/>
<rect x="349.50" y="219.60" width="9.85" height="4.95" fill="#dfdffb"/>
<rect x="359.30" y="219.60" width="4.95" height="4.95" fill="#afb0f5"/>
<rect x="364.20" y="219.60" width="34.35" height="4.95" fill="#dfdffb"/>
<rect x="413.20" y="219.60" width="9.85" height="4.95" fill="#fadcdc"/>
<rect x="423.00" y="219.60" width="9.85" height="4.95" fill="#f4aaaa"/>
<rect x="432.80" y="219.60" width="4.95" height="4.95" fill="#fadcdc"/>
<rect x="452.40" y="219.60" width="4.95" height="4.95" fill="#afb0f5"/>
<rect x="457.30" y="219.60" width="9.85" height="4.95" fill="#dfdffb"/>
<rect x="496.50" y="219.60" width="4.95" height="4.95" fill="#afb0f5"/>
<rect x="501.40" y="219.60" width="9.85" height="4.95" fill="#dfdffb"/>
<rect x="516.10" y="219.60" width="9.85" height="4.95" fill="#dfdffb"/>
<rect x="80.00" y="224.50" width="4.95" height="4.95" fill="#fadcdc"/>
<rect x="104.50" y="224.50" width="4.95" height="4.95" fill="#fadcdc"/>
<rect x="124.10" y="224.50" width="24.55" height="4.95" fill="#fadcdc"/>
<rect x="153.50" y="224.50" width="4.95" height="4.95" fill="#fadcdc"/>
<rect x="178.00" y="224.50" width="9.85" height="4.95" fill="#fadcdc"/>
<rect x="187.80" y="224.50" width="14.75" height="4.95" fill="#f4aaaa"/>
<rect x="202.50" y="224.50" width="4.95" height="4.95" fill="#fadcdc"/>
<rect x="212.30" y="224.50" width="24.55" height="4.95" fill="#fadcdc"/>
<rect x="241.70" y="224.50" width="4.95" height="4.95" fill="#fadcdc"/>
<rect x="251.50" y="224.50" width="19.65" height="4.95" fill="#fadcdc"/>
<rect x="271.10" y="224.50" width="4.95" height="4.95" fill="#f4aaaa"/>
<rect x="276.00" y="224.50" width="9.85" height="4.95" fill="#ee6c6c"/>
<rect x="285.80" y="224.50" width="4.95" height="4.95" fill="#f4aaaa"/>
<rect x="290.70" y="224.50" width="4.95" height="4.95" fill="#fadcdc"/>
<rect x="315.20" y="224.50" width="4.95" height="4.95" fill="#fadcdc"/>
<rect x="320.10" y="224.50" width="4.95" height="4.95" fill="#f4aaaa"/>
<rect x="329.90" y="224.50" width="4.95" height="4.95" fill="#f4aaaa"/>
<rect x="369.10" y="224.50" width="4.95" height="4.95" fill="#fadcdc"/>
<rect x="423.00" y="224.50" width="9.85" height="4.95" fill="#fadcdc"/>
<rect x="432.80" y="224.50" width="4.95" height="4.95" fill="#f4aaaa"/>
<rect x="437.70" y="224.50" width="4.95" height="4.95" fill="#ee6c6c"/>
<rect x="442.60" y="224.50" width="4.95" height="4.95" fill="#f4aaaa"/>
<rect x="447.50" y="224.50" width="4.95" height="4.95" fill="#fadcdc"/>
<rect x="65.30" y="229.40" width="4.95" height="4.95" fill="#dfdffb"/>
<rect x="75.10" y="229.40" width="4.95" height="4.95" fill="#fadcdc"/>
<rect x="84.90" y="229.40" width="4.95" height="4.95" fill="#dfdffb"/>
<rect x="89.80" y="229.40" width="4.95" height="4.95" fill="#afb0f5"/>
<rect x="94.70" y="229.40" width="4.95" height="4.95" fill="#fadcdc"/>
<rect x="99.60" y="229.40" width="9.85" height="4.95" fill="#f01a1a"/>
<rect x="114.30" y="229.40" width="4.95" height="4.95" fill="#fadcdc"/>
<rect x="124.10" y="229.40" width="4.95" height="4.95" fill="#dfdffb"/>
<rect x="133.90" y="229.40" width="4.95" height="4.95" fill="#dfdffb"/>
<rect x="138.80" y="229.40" width="4.95" height="4.95" fill="#fadcdc"/>
<rect x="143.70" y="229.40" width="4.95" height="4.95" fill="#f01a1a"/>
<rect x="153.50" y="229.40" width="4.95" height="4.95" fill="#f4aaaa"/>
<rect x="163.30" y="229.40" width="9.85" height="4.95" fill="#fadcdc"/>
<rect x="173.10" y="229.40" width="29.45" height="4.95" fill="#f4aaaa"/>
<rect x="202.50" y="229.40" width="9.85" height="4.95" fill="#fadcdc"/>
<rect x="217.20" y="229.40" width="9.85" height="4.95" fill="#fadcdc"/>
<rect x="231.90" y="229.40" width="4.95" height="4.95" fill="#f4aaaa"/>
<rect x="241.70" y="229.40" width="4.95" height="4.95" fill="#f4aaaa"/>
<rect x="251.50" y="229.40" width="19.65" height="4.95" fill="#fadcdc"/>
<rect x="271.10" y="229.40" width="4.95" height="4.95" fill="#f4aaaa"/>
<rect x="276.00" y="229.40" width="4.95" height="4.95" fill="#ee6c6c"/>
<rect x="280.90" y="229.40" width="4.95" height="4.95" fill="#f01a1a"/>
<rect x="285.80" y="229.40" width="4.95" height="4.95" fill="#ee6c6c"/>
<rect x="290.70" y="229.40" width="4.95" height="4.95" fill="#fadcdc"/>
<rect x="305.40" y="229.40" width="4.95" height="4.95" fill="#fadcdc"/>
<rect x="310.30" y="229.40" width="4.95" height="4.95" fill="#dfdffb"/>
<rect x="315.20" y="229.40" width="4.95" height="4.95" fill="#fadcdc"/>
<rect x="320.10" y="229.40" width="4.95" height="4.95" fill="#f4aaaa"/>
<rect x="329.90" y="229.40" width="4.95" height="4.95" fill="#ee6c6c"/>
<rect x="334.80" y="229.40" width="34.35" height="4.95" fill="#fadcdc"/>
<rect x="369.10" y="229.40" width="4.95" height="4.95" fill="#f4aaaa"/>
<rect x="374.00" y="229.40" width="4.95" height="4.95" fill="#fadcdc"/>
<rect x="378.90" y="229.40" width="24.55" height="4.95" fill="#f4aaaa"/>
<rect x="403.40" y="229.40" width="4.95" height="4.95" fill="#fadcdc"/>
<rect x="423.00" y="229.40" width="4.95" height="4.95" fill="#fadcdc"/>
<rect x="427.90" y="229.40" width="4.95" height="4.95" fill="#f4aaaa"/>
<rect x="432.80" y="229.40" width="4.95" height="4.95" fill="#ee6c6c"/>
<rect x="437.70" y="229.40" width="4.95" height="4.95" fill="#f01a1a"/>
<rect x="442.60" y="229.40" width="4.95" height="4.95" fill="#ee6c6c"/>
<rect x="447.50" y="229.40" width="4.95" height="4.95" fill="#f4aaaa"/>
<rect x="462.20" y="229.40" width="4.95" height="4.95" fill="#dfdffb"/>
<rect x="496.50" y="229.40" width="4.95" height="4.95" fill="#fadcdc"/>
<rect x="506.30" y="229.40" width="4.95" height="4.95" fill="#fadcdc"/>
<rect x="516.10" y="229.40" width="4.95" height="4.95" fill="#fadcdc"/>
<rect x="65.30" y="234.30" width="4.95" height="4.95" fill="#dfdffb"/>
<rect x="75.10" y="234.30" width="9.85" height="4.95" fill="#fadcdc"/>
<rect x="84.90" y="234.30" width="4.95" height="4.95" fill="#afb0f5"/>
<rect x="89.80" y="234.30" width="4.95" height="4.95" fill="#dfdffb"/>
<rect x="99.60" y="234.30" width="9.85" height="4.95" fill="#f01a1a"/>
<rect x="114.30" y="234.30" width="4.95" height="4.95" fill="#fadcdc"/>
<rect x="124.10" y="234.30" width="9.85" height="4.95" fill="#dfdffb"/>
<rect x="133.90" y="234.30" width="9.85" height="4.95" fill="#fadcdc"/>
<rect x="143.70" y="234.30" width="4.95" height="4.95" fill="#f01a1a"/>
<rect x="153.50" y="234.30" width="4.95" height="4.95" fill="#f4aaaa"/>
<rect x="168.20" y="234.30" width="9.85" height="4.95" fill="#fadcdc"/>
<rect x="178.00" y="234.30" width="19.65" height="4.95" fill="#f4aaaa"/>
<rect x="197.60" y="234.30" width="4.95" height="4.95" fill="#fadcdc"/>
<rect x="207.40" y="234.30" width="9.85" height="4.95" fill="#fadcdc"/>
<rect x="222.10" y="234.30" width="4.95" height="4.95" fill="#fadcdc"/>
<rect x="231.90" y="234.30" width="4.95" height="4.95" fill="#f4aaaa"/>
<rect x="241.70" y="234.30" width="4.95" height="4.95" fill="#f4aaaa"/>
<rect x="251.50" y="234.30" width="24.55" height="4.95" fill="#fadcdc"/>
<rect x="276.00" y="234.30" width="4.95" height="4.95" fill="#ee6c6c"/>
<rect x="280.90" y="234.30" width="4.95" height="4.95" fill="#f01a1a"/>
<rect x="285.80" y="234.30" width="4.95" height="4.95" fill="#ee6c6c"/>
<rect x="290.70" y="234.30" width="4.95" height="4.95" fill="#fadcdc"/>
<rect x="305.40" y="234.30" width="4.95" height="4.95" fill="#dfdffb"/>
<rect x="315.20" y="234.30" width="9.85" height="4.95" fill="#fadcdc"/>
<rect x="329.90" y="234.30" width="4.95" height="4.95" fill="#ee6c6c"/>
<rect x="334.80" y="234.30" width="34.35" height="4.95" fill="#fadcdc"/>
<rect x="369.10" y="234.30" width="4.95" height="4.95" fill="#f4aaaa"/>
<rect x="374.00" y="234.30" width="29.45" height="4.95" fill="#fadcdc"/>
<rect x="403.40" y="234.30" width="4.95" height="4.95" fill="#f4aaaa"/>
<rect x="423.00" y="234.30" width="4.95" height="4.95" fill="#fadcdc"/>
<rect x="427.90" y="234.30" width="4.95" height="4.95" fill="#f4aaaa"/>
<rect x="432.80" y="234.30" width="9.85" height="4.95" fill="#ee6c6c"/>
<rect x="442.60" y="234.30" width="4.95" height="4.95" fill="#f4aaaa"/>
<rect x="447.50" y="234.30" width="4.95" height="4.95" fill="#fadcdc"/>
<rect x="457.30" y="234.30" width="9.85" height="4.95" fill="#dfdffb"/>
<rect x="496.50" y="234.30" width="4.95" height="4.95" fill="#fadcdc"/>
<rect x="506.30" y="234.30" width="4.95" height="4.95" fill="#fadcdc"/>
<rect x="65.30" y="239.20" width="4.95" height="4.95" fill="#dfdffb"/>
<rect x="75.10" y="239.20" width="14.75" height="4.95" fill="#fadcdc"/>
<rect x="89.80" y="239.20" width="4.95" height="4.95" fill="#1408f3"/>
<rect x="99.60" y="239.20" width="9.85" height="4.95" fill="#f01a1a"/>
<rect x="114.30" y="239.20" width="4.95" height="4.95" fill="#fadcdc"/>
<rect x="124.10" y="239.20" width="9.85" height="4.95" fill="#fadcdc"/>
<rect x="133.90" y="239.20" width="4.95" height="4.95" fill="#f4aaaa"/>
<rect x="138.80" y="239.20" width="4.95" height="4.95" fill="#fadcdc"/>
<rect x="143.70" y="239.20" width="4.95" height="4.95" fill="#f01a1a"/>
<rect x="153.50" y="239.20" width="4.95" height="4.95" fill="#fadcdc"/>
<rect x="163.30" y="239.20" width="9.85" height="4.95" fill="#fadcdc"/>
<rect x="173.10" y="239.20" width="14.75" height="4.95" fill="#dfdffb"/>
<rect x="192.70" y="239.20" width="4.95" height="4.95" fill="#f4aaaa"/>
<rect x="197.60" y="239.20" width="4.95" height="4.95" fill="#fadcdc"/>
<rect x="202.50" y="239.20" width="4.95" height="4.95" fill="#dfdffb"/>
<rect x="227.00" y="239.20" width="4.95" height="4.95" fill="#fadcdc"/>
<rect x="231.90" y="239.20" width="4.95" height="4.95" fill="#f4aaaa"/>
<rect x="241.70" y="239.20" width="9.85" height="4.95" fill="#fadcdc"/>
<rect x="256.40" y="239.20" width="9.85" height="4.95" fill="#fadcdc"/>
<rect x="271.10" y="239.20" width="9.85" height="4.95" fill="#fadcdc"/>
<rect x="280.90" y="239.20" width="9.85" height="4.95" fill="#ee6c6c"/>
<rect x="290.70" y="239.20" width="4.95" height="4.95" fill="#fadcdc"/>
<rect x="300.50" y="239.20" width="4.95" height="4.95" fill="#fadcdc"/>
<rect x="320.10" y="239.20" width="4.95" height="4.95" fill="#fadcdc"/>
<rect x="329.90" y="239.20" width="4.95" height="4.95" fill="#f4aaaa"/>
<rect x="334.80" y="239.20" width="14.75" height="4.95" fill="#fadcdc"/>
<rect x="349.50" y="239.20" width="14.75" height="4.95" fill="#f4aaaa"/>
<rect x="364.20" y="239.20" width="4.95" height="4.95" fill="#fadcdc"/>
<rect x="369.10" y="239.20" width="4.95" height="4.95" fill="#f4aaaa"/>
<rect x="374.00" y="239.20" width="4.95" height="4.95" fill="#fadcdc"/>
<rect x="378.90" y="239.20" width="14.75" height="4.95" fill="#f4aaaa"/>
<rect x="393.60" y="239.20" width="9.85" height="4.95" fill="#fadcdc"/>
<rect x="403.40" y="239.20" width="4.95" height="4.95" fill="#f4aaaa"/>
<rect x="413.20" y="239.20" width="9.85" height="4.95" fill="#afb0f5"/>
<rect x="423.00" y="239.20" width="9.85" height="4.95" fill="#dfdffb"/>
<rect x="437.70" y="239.20" width="9.85" height="4.95" fill="#f01a1a"/>
<rect x="447.50" y="239.20" width="4.95" height="4.95" fill="#fadcdc"/>
<rect x="462.20" y="239.20" width="4.95" height="4.95" fill="#fadcdc"/>
<rect x="496.50" y="239.20" width="4.95" height="4.95" fill="#fadcdc"/>
<rect x="506.30" y="239.20" width="4.95" height="4.95" fill="#dfdffb"/>
<rect x="511.20" y="239.20" width="4.95" height="4.95" fill="#afb0f5"/>
<rect x="75.10" y="244.10" width="4.95" height="4.95" fill="#fadcdc"/>
<rect x="80.00" y="244.10" width="4.95" height="4.95" fill="#f4aaaa"/>
<rect x="89.80" y="244.10" width="4.95" height="4.95" fill="#1408f3"/>
<rect x="94.70" y="244.10" width="4.95" height="4.95" fill="#fadcdc"/>
<rect x="99.60" y="244.10" width="9.85" height="4.95" fill="#f01a1a"/>
<rect x="114.30" y="244.10" width="4.95" height="4.95" fill="#fadcdc"/>
<rect x="129.00" y="244.10" width="4.95" height="4.95" fill="#fadcdc"/>
<rect x="138.80" y="244.10" width="4.95" height="4.95" fill="#f4aaaa"/>
<rect x="143.70" y="244.10" width="4.95" height="4.95" fill="#f01a1a"/>
<rect x="153.50" y="244.10" width="4.95" height="4.95" fill="#f4aaaa"/>
<rect x="168.20" y="244.10" width="4.95" height="4.95" fill="#afb0f5"/>
<rect x="173.10" y="244.10" width="4.95" height="4.95" fill="#dfdffb"/>
<rect x="182.90" y="244.10" width="4.95" height="4.95" fill="#afb0f5"/>
<rect x="197.60" y="244.10" width="4.95" height="4.95" fill="#fadcdc"/>
<rect x="202.50" y="244.10" width="4.95" height="4.95" fill="#afb0f5"/>
<rect x="222.10" y="244.10" width="4.95" height="4.95" fill="#fadcdc"/>
<rect x="231.90" y="244.10" width="4.95" height="4.95" fill="#fadcdc"/>
<rect x="241.70" y="244.10" width="9.85" height="4.95" fill="#fadcdc"/>
<rect x="256.40" y="244.10" width="9.85" height="4.95" fill="#afb0f5"/>
<rect x="276.00" y="244.10" width="4.95" height="4.95" fill="#fadcdc"/>
<rect x="280.90" y="244.10" width="4.95" height="4.95" fill="#f4aaaa"/>
<rect x="285.80" y="244.10" width="4.95" height="4.95" fill="#fadcdc"/>
<rect x="290.70" y="244.10" width="4.95" height="4.95" fill="#dfdffb"/>
<rect x="300.50" y="244.10" width="4.95" height="4.95" fill="#fadcdc"/>
<rect x="320.10" y="244.10" width="4.95" height="4.95" fill="#fadcdc"/>
<rect x="329.90" y="244.10" width="4.95" height="4.95" fill="#fadcdc"/>
<rect x="334.80" y="244.10" width="4.95" height="4.95" fill="#f4aaaa"/>
<rect x="339.70" y="244.10" width="4.95" height="4.95" fill="#fadcdc"/>
<rect x="349.50" y="244.10" width="19.65" height="4.95" fill="#fadcdc"/>
<rect x="369.10" y="244.10" width="4.95" height="4.95" fill="#f4aaaa"/>
<rect x="378.90" y="244.10" width="24.55" height="4.95" fill="#fadcdc"/>
<rect x="403.40" y="244.10" width="4.95" height="4.95" fill="#f4aaaa"/>
<rect x="413.20" y="244.10" width="9.85" height="4.95" fill="#afb0f5"/>
<rect x="437.70" y="244.10" width="9.85" height="4.95" fill="#f4aaaa"/>
<rect x="462.20" y="244.10" width="9.85" height="4.95" fill="#fadcdc"/>
<rect x="506.30" y="244.10" width="9.85" height="4.95" fill="#afb0f5"/>
<rect x="65.30" y="249.00" width="4.95" height="4.95" fill="#dfdffb"/>
<rect x="75.10" y="249.00" width="14.75" height="4.95" fill="#fadcdc"/>
<rect x="89.80" y="249.00" width="4.95" height="4.95" fill="#afb0f5"/>
<rect x="94.70" y="249.00" width="4.95" height="4.95" fill="#fadcdc"/>
<rect x="99.60" y="249.00" width="4.95" height="4.95" fill="#f4aaaa"/>
<rect x="104.50" y="249.00" width="4.95" height="4.95" fill="#f01a1a"/>
<rect x="114.30" y="249.00" width="4.95" height="4.95" fill="#fadcdc"/>
<rect x="124.10" y="249.00" width="4.95" height="4.95" fill="#fadcdc"/>
<rect x="129.00" y="249.00" width="14.75" height="4.95" fill="#f4aaaa"/>
<rect x="143.70" y="249.00" width="4.95" height="4.95" fill="#fadcdc"/>
<rect x="153.50" y="249.00" width="4.95" height="4.95" fill="#fadcdc"/>
<rect x="163.30" y="249.00" width="4.95" height="4.95" fill="#dfdffb"/>
<rect x="168.20" y="249.00" width="4.95" height="4.95" fill="#afb0f5"/>
<rect x="173.10" y="249.00" width="4.95" height="4.95" fill="#7070f1"/>
<rect x="202.50" y="249.00" width="4.95" height="4.95" fill="#7070f1"/>
<rect x="212.30" y="249.00" width="14.75" height="4.95" fill="#f4aaaa"/>
<rect x="227.00" y="249.00" width="4.95" height="4.95" fill="#fadcdc"/>
<rect x="241.70" y="249.00" width="9.85" height="4.95" fill="#fadcdc"/>
<rect x="256.40" y="249.00" width="9.85" height="4.95" fill="#dfdffb"/>
<rect x="266.20" y="249.00" width="9.85" height="4.95" fill="#afb0f5"/>
<rect x="276.00" y="249.00" width="9.85" height="4.95" fill="#fadcdc"/>
<rect x="300.50" y="249.00" width="4.95" height="4.95" fill="#f4aaaa"/>
<rect x="305.40" y="249.00" width="19.65" height="4.95" fill="#fadcdc"/>
<rect x="329.90" y="249.00" width="9.85" height="4.95" fill="#fadcdc"/>
<rect x="349.50" y="249.00" width="4.95" height="4.95" fill="#fadcdc"/>
<rect x="369.10" y="249.00" width="4.95" height="4.95" fill="#f4aaaa"/>
<rect x="388.70" y="249.00" width="14.75" height="4.95" fill="#fadcdc"/>
<rect x="413.20" y="249.00" width="14.75" height="4.95" fill="#dfdffb"/>
<rect x="437.70" y="249.00" width="4.95" height="4.95" fill="#fadcdc"/>
<rect x="442.60" y="249.00" width="4.95" height="4.95" fill="#ee6c6c"/>
<rect x="462.20" y="249.00" width="9.85" height="4.95" fill="#f4aaaa"/>
<rect x="496.50" y="249.00" width="4.95" height="4.95" fill="#fadcdc"/>
<rect x="506.30" y="249.00" width="4.95" height="4.95" fill="#f4aaaa"/>
<rect x="65.30" y="258.80" width="4.95" height="4.95" fill="#fadcdc"/>
<rect x="80.00" y="258.80" width="9.85" height="4.95" fill="#fadcdc"/>
<rect x="89.80" y="258.80" width="4.95" height="4.95" fill="#f01a1a"/>
<rect x="94.70" y="258.80" width="4.95" height="4.95" fill="#fadcdc"/>
<rect x="99.60" y="258.80" width="9.85" height="4.95" fill="#1408f3"/>
<rect x="114.30" y="258.80" width="4.95" height="4.95" fill="#fadcdc"/>
<rect x="124.10" y="258.80" width="4.95" height="4.95" fill="#ee6c6c"/>
<rect x="129.00" y="258.80" width="4.95" height="4.95" fill="#f4aaaa"/>
<rect x="133.90" y="258.80" width="9.85" height="4.95" fill="#fadcdc"/>
<rect x="163.30" y="258.80" width="4.95" height="4.95" fill="#fadcdc"/>
<rect x="168.20" y="258.80" width="4.95" height="4.95" fill="#ee6c6c"/>
<rect x="173.10" y="258.80" width="4.95" height="4.95" fill="#f4aaaa"/>
<rect x="178.00" y="258.80" width="4.95" height="4.95" fill="#ee6c6c"/>
<rect x="182.90" y="258.80" width="4.95" height="4.95" fill="#fadcdc"/>
<rect x="187.80" y="258.80" width="4.95" height="4.95" fill="#f4aaaa"/>
<rect x="192.70" y="258.80" width="4.95" height="4.95" fill="#ee6c6c"/>
<rect x="197.60" y="258.80" width="4.95" height="4.95" fill="#afb0f5"/>
<rect x="202.50" y="258.80" width="4.95" height="4.95" fill="#7070f1"/>
<rect x="207.40" y="258.80" width="4.95" height="4.95" fill="#fadcdc"/>
<rect x="212.30" y="258.80" width="4.95" height="4.95" fill="#ee6c6c"/>
<rect x="217.20" y="258.80" width="4.95" height="4.95" fill="#f4aaaa"/>
<rect x="222.10" y="258.80" width="14.75" height="4.95" fill="#fadcdc"/>
<rect x="251.50" y="258.80" width="4.95" height="4.95" fill="#dfdffb"/>
<rect x="256.40" y="258.80" width="4.95" height="4.95" fill="#f4aaaa"/>
<rect x="266.20" y="258.80" width="4.95" height="4.95" fill="#dfdffb"/>
<rect x="271.10" y="258.80" width="4.95" height="4.95" fill="#afb0f5"/>
<rect x="276.00" y="258.80" width="9.85" height="4.95" fill="#7070f1"/>
<rect x="285.80" y="258.80" width="4.95" height="4.95" fill="#afb0f5"/>
<rect x="290.70" y="258.80" width="4.95" height="4.95" fill="#dfdffb"/>
<rect x="295.60" y="258.80" width="4.95" height="4.95" fill="#fadcdc"/>
<rect x="300.50" y="258.80" width="14.75" height="4.95" fill="#f4aaaa"/>
<rect x="315.20" y="258.80" width="4.95" height="4.95" fill="#ee6c6c"/>
<rect x="320.10" y="258.80" width="4.95" height="4.95" fill="#f4aaaa"/>
<rect x="334.80" y="258.80" width="4.95" height="4.95" fill="#fadcdc"/>
<rect x="339.70" y="258.80" width="9.85" height="4.95" fill="#dfdffb"/>
<rect x="349.50" y="258.80" width="19.65" height="4.95" fill="#7070f1"/>
<rect x="369.10" y="258.80" width="4.95" height="4.95" fill="#dfdffb"/>
<rect x="374.00" y="258.80" width="9.85" height="4.95" fill="#7070f1"/>
<rect x="383.80" y="258.80" width="19.65" height="4.95" fill="#afb0f5"/>
<rect x="408.30" y="258.80" width="4.95" height="4.95" fill="#dfdffb"/>
<rect x="413.20" y="258.80" width="4.95" height="4.95" fill="#ee6c6c"/>
<rect x="418.10" y="258.80" width="4.95" height="4.95" fill="#dfdffb"/>
<rect x="427.90" y="258.80" width="4.95" height="4.95" fill="#7070f1"/>
<rect x="437.70" y="258.80" width="4.95" height="4.95" fill="#1408f3"/>
<rect x="442.60" y="258.80" width="4.95" height="4.95" fill="#dfdffb"/>
<rect x="462.20" y="258.80" width="9.85" height="4.95" fill="#f4aaaa"/>
<rect x="496.50" y="258.80" width="4.95" height="4.95" fill="#7070f1"/>
<rect x="511.20" y="258.80" width="9.85" height="4.95" fill="#fadcdc"/>
<rect x="65.30" y="263.70" width="4.95" height="4.95" fill="#fadcdc"/>
<rect x="80.00" y="263.70" width="4.95" height="4.95" fill="#fadcdc"/>
<rect x="84.90" y="263.70" width="4.95" height="4.95" fill="#f4aaaa"/>
<rect x="89.80" y="263.70" width="4.95" height="4.95" fill="#fadcdc"/>
<rect x="99.60" y="263.70" width="4.95" height="4.95" fill="#dfdffb"/>
<rect x="104.50" y="263.70" width="4.95" height="4.95" fill="#1408f3"/>
<rect x="114.30" y="263.70" width="4.95" height="4.95" fill="#fadcdc"/>
<rect x="124.10" y="263.70" width="19.65" height="4.95" fill="#fadcdc"/>
<rect x="168.20" y="263.70" width="4.95" height="4.95" fill="#fadcdc"/>
<rect x="212.30" y="263.70" width="14.75" height="4.95" fill="#fadcdc"/>
<rect x="227.00" y="263.70" width="4.95" height="4.95" fill="#f4aaaa"/>
<rect x="231.90" y="263.70" width="4.95" height="4.95" fill="#fadcdc"/>
<rect x="261.30" y="263.70" width="9.85" height="4.95" fill="#fadcdc"/>
<rect x="271.10" y="263.70" width="9.85" height="4.95" fill="#dfdffb"/>
<rect x="280.90" y="263.70" width="9.85" height="4.95" fill="#fadcdc"/>
<rect x="295.60" y="263.70" width="29.45" height="4.95" fill="#fadcdc"/>
<rect x="344.60" y="263.70" width="4.95" height="4.95" fill="#dfdffb"/>
<rect x="413.20" y="263.70" width="4.95" height="4.95" fill="#fadcdc"/>
<rect x="432.80" y="263.70" width="4.95" height="4.95" fill="#fadcdc"/>
<rect x="462.20" y="263.70" width="4.95" height="4.95" fill="#f4aaaa"/>
<rect x="467.10" y="263.70" width="4.95" height="4.95" fill="#fadcdc"/>
<rect x="506.30" y="263.70" width="4.95" height="4.95" fill="#dfdffb"/>
<rect x="75.10" y="268.60" width="4.95" height="4.95" fill="#dfdffb"/>
<rect x="80.00" y="268.60" width="4.95" height="4.95" fill="#f4aaaa"/>
<rect x="84.90" y="268.60" width="4.95" height="4.95" fill="#fadcdc"/>
<rect x="94.70" y="268.60" width="4.95" height="4.95" fill="#fadcdc"/>
<rect x="104.50" y="268.60" width="4.95" height="4.95" fill="#afb0f5"/>
<rect x="124.10" y="268.60" width="9.85" height="4.95" fill="#ee6c6c"/>
<rect x="133.90" y="268.60" width="4.95" height="4.95" fill="#fadcdc"/>
<rect x="143.70" y="268.60" width="4.95" height="4.95" fill="#dfdffb"/>
<rect x="173.10" y="268.60" width="9.85" height="4.95" fill="#afb0f5"/>
<rect x="182.90" y="268.60" width="19.65" height="4.95" fill="#dfdffb"/>
<rect x="231.90" y="268.60" width="4.95" height="4.95" fill="#fadcdc"/>
<rect x="290.70" y="268.60" width="4.95" height="4.95" fill="#fadcdc"/>
<rect x="418.10" y="268.60" width="4.95" height="4.95" fill="#fadcdc"/>
<rect x="423.00" y="268.60" width="9.85" height="4.95" fill="#f4aaaa"/>
<rect x="432.80" y="268.60" width="4.95" height="4.95" fill="#fadcdc"/>
<rect x="462.20" y="268.60" width="4.95" height="4.95" fill="#fadcdc"/>
<rect x="506.30" y="268.60" width="4.95" height="4.95" fill="#dfdffb"/>
<rect x="516.10" y="268.60" width="9.85" height="4.95" fill="#dfdffb"/>
<rect x="65.30" y="273.50" width="4.95" height="4.95" fill="#dfdffb"/>
<rect x="80.00" y="273.50" width="4.95" height="4.95" fill="#f4aaaa"/>
<rect x="84.90" y="273.50" width="9.85" height="4.95" fill="#fadcdc"/>
<rect x="104.50" y="273.50" width="4.95" height="4.95" fill="#fadcdc"/>
<rect x="124.10" y="273.50" width="9.85" height="4.95" fill="#ee6c6c"/>
<rect x="133.90" y="273.50" width="4.95" height="4.95" fill="#dfdffb"/>
<rect x="138.80" y="273.50" width="4.95" height="4.95" fill="#afb0f5"/>
<rect x="153.50" y="273.50" width="4.95" height="4.95" fill="#f4aaaa"/>
<rect x="202.50" y="273.50" width="4.95" height="4.95" fill="#fadcdc"/>
<rect x="212.30" y="273.50" width="4.95" height="4.95" fill="#fadcdc"/>
<rect x="227.00" y="273.50" width="9.85" height="4.95" fill="#afb0f5"/>
<rect x="241.70" y="273.50" width="4.95" height="4.95" fill="#fadcdc"/>
<rect x="266.20" y="273.50" width="4.95" height="4.95" fill="#fadcdc"/>
<rect x="271.10" y="273.50" width="9.85" height="4.95" fill="#f4aaaa"/>
<rect x="280.90" y="273.50" width="9.85" height="4.95" fill="#fadcdc"/>
<rect x="295.60" y="273.50" width="9.85" height="4.95" fill="#fadcdc"/>
<rect x="315.20" y="273.50" width="4.95" height="4.95" fill="#afb0f5"/>
<rect x="320.10" y="273.50" width="4.95" height="4.95" fill="#dfdffb"/>
<rect x="329.90" y="273.50" width="4.95" height="4.95" fill="#ee6c6c"/>
<rect x="339.70" y="273.50" width="4.95" height="4.95" fill="#dfdffb"/>
<rect x="349.50" y="273.50" width="19.65" height="4.95" fill="#dfdffb"/>
<rect x="374.00" y="273.50" width="4.95" height="4.95" fill="#dfdffb"/>
<rect x="383.80" y="273.50" width="14.75" height="4.95" fill="#dfdffb"/>
<rect x="418.10" y="273.50" width="4.95" height="4.95" fill="#fadcdc"/>
<rect x="423.00" y="273.50" width="9.85" height="4.95" fill="#f4aaaa"/>
<rect x="432.80" y="273.50" width="14.75" height="4.95" fill="#fadcdc"/>
<rect x="457.30" y="273.50" width="4.95" height="4.95" fill="#dfdffb"/>
<rect x="467.10" y="273.50" width="4.95" height="4.95" fill="#dfdffb"/>
<rect x="501.40" y="273.50" width="4.95" height="4.95" fill="#dfdffb"/>
<rect x="516.10" y="273.50" width="4.95" height="4.95" fill="#dfdffb"/>
<rect x="80.00" y="278.40" width="9.85" height="4.95" fill="#f4aaaa"/>
<rect x="89.80" y="278.40" width="4.95" height="4.95" fill="#dfdffb"/>
<rect x="94.70" y="278.40" width="4.95" height="4.95" fill="#fadcdc"/>
<rect x="99.60" y="278.40" width="4.95" height="4.95" fill="#dfdffb"/>
<rect x="114.30" y="278.40" width="4.95" height="4.95" fill="#dfdffb"/>
<rect x="124.10" y="278.40" width="9.85" height="4.95" fill="#ee6c6c"/>
<rect x="133.90" y="278.40" width="4.95" height="4.95" fill="#fadcdc"/>
<rect x="138.80" y="278.40" width="4.95" height="4.95" fill="#afb0f5"/>
<rect x="153.50" y="278.40" width="4.95" height="4.95" fill="#dfdffb"/>
<rect x="168.20" y="278.40" width="4.95" height="4.95" fill="#fadcdc"/>
<rect x="202.50" y="278.40" width="4.95" height="4.95" fill="#fadcdc"/>
<rect x="212.30" y="278.40" width="9.85" height="4.95" fill="#fadcdc"/>
<rect x="227.00" y="278.40" width="9.85" height="4.95" fill="#afb0f5"/>
<rect x="256.40" y="278.40" width="4.95" height="4.95" fill="#fadcdc"/>
<rect x="271.10" y="278.40" width="4.95" height="4.95" fill="#fadcdc"/>
<rect x="280.90" y="278.40" width="4.95" height="4.95" fill="#fadcdc"/>
<rect x="290.70" y="278.40" width="4.95" height="4.95" fill="#fadcdc"/>
<rect x="300.50" y="278.40" width="4.95" height="4.95" fill="#fadcdc"/>
<rect x="315.20" y="278.40" width="9.85" height="4.95" fill="#afb0f5"/>
<rect x="329.90" y="278.40" width="4.95" height="4.95" fill="#fadcdc"/>
<rect x="339.70" y="278.40" width="4.95" height="4.95" fill="#dfdffb"/>
<rect x="349.50" y="278.40" width="4.95" height="4.95" fill="#dfdffb"/>
<rect x="378.90" y="278.40" width="4.95" height="4.95" fill="#afb0f5"/>
<rect x="408.30" y="278.40" width="4.95" height="4.95" fill="#dfdffb"/>
<rect x="437.70" y="278.40" width="4.95" height="4.95" fill="#f4aaaa"/>
<rect x="457.30" y="278.40" width="9.85" height="4.95" fill="#fadcdc"/>
<rect x="511.20" y="278.40" width="4.95" height="4.95" fill="#dfdffb"/>
<rect x="516.10" y="278.40" width="4.95" height="4.95" fill="#7070f1"/>
<rect x="521.00" y="278.40" width="4.95" height="4.95" fill="#afb0f5"/>
<rect x="75.10" y="283.30" width="4.95" height="4.95" fill="#dfdffb"/>
<rect x="80.00" y="283.30" width="4.95" height="4.95" fill="#f4aaaa"/>
<rect x="84.90" y="283.30" width="4.95" height="4.95" fill="#fadcdc"/>
<rect x="94.70" y="283.30" width="9.85" height="4.95" fill="#7070f1"/>
<rect x="124.10" y="283.30" width="9.85" height="4.95" fill="#ee6c6c"/>
<rect x="133.90" y="283.30" width="4.95" height="4.95" fill="#fadcdc"/>
<rect x="153.50" y="283.30" width="4.95" height="4.95" fill="#fadcdc"/>
<rect x="163.30" y="283.30" width="4.95" height="4.95" fill="#fadcdc"/>
<rect x="168.20" y="283.30" width="4.95" height="4.95" fill="#f4aaaa"/>
<rect x="173.10" y="283.30" width="4.95" height="4.95" fill="#fadcdc"/>
<rect x="197.60" y="283.30" width="14.75" height="4.95" fill="#fadcdc"/>
<rect x="212.30" y="283.30" width="4.95" height="4.95" fill="#f4aaaa"/>
<rect x="217.20" y="283.30" width="4.95" height="4.95" fill="#fadcdc"/>
<rect x="227.00" y="283.30" width="9.85" height="4.95" fill="#dfdffb"/>
<rect x="256.40" y="283.30" width="4.95" height="4.95" fill="#fadcdc"/>
<rect x="271.10" y="283.30" width="4.95" height="4.95" fill="#afb0f5"/>
<rect x="280.90" y="283.30" width="4.95" height="4.95" fill="#fadcdc"/>
<rect x="290.70" y="283.30" width="4.95" height="4.95" fill="#fadcdc"/>
<rect x="300.50" y="283.30" width="9.85" height="4.95" fill="#fadcdc"/>
<rect x="320.10" y="283.30" width="4.95" height="4.95" fill="#dfdffb"/>
<rect x="344.60" y="283.30" width="4.95" height="4.95" fill="#dfdffb"/>
<rect x="349.50" y="283.30" width="4.95" height="4.95" fill="#7070f1"/>
<rect x="378.90" y="283.30" width="4.95" height="4.95" fill="#afb0f5"/>
<rect x="413.20" y="283.30" width="4.95" height="4.95" fill="#fadcdc"/>
<rect x="432.80" y="283.30" width="4.95" height="4.95" fill="#dfdffb"/>
<rect x="437.70" y="283.30" width="4.95" height="4.95" fill="#fadcdc"/>
<rect x="457.30" y="283.30" width="4.95" height="4.95" fill="#fadcdc"/>
<rect x="496.50" y="283.30" width="4.95" height="4.95" fill="#dfdffb"/>
<rect x="511.20" y="283.30" width="4.95" height="4.95" fill="#dfdffb"/>
<rect x="516.10" y="283.30" width="4.95" height="4.95" fill="#1408f3"/>
<rect x="521.00" y="283.30" width="4.95" height="4.95" fill="#afb0f5"/>
<rect x="65.30" y="288.20" width="4.95" height="4.95" fill="#fadcdc"/>
<rect x="80.00" y="288.20" width="4.95" height="4.95" fill="#f4aaaa"/>
<rect x="89.80" y="288.20" width="4.95" height="4.95" fill="#dfdffb"/>
<rect x="94.70" y="288.20" width="4.95" height="4.95" fill="#7070f1"/>
<rect x="124.10" y="288.20" width="14.75" height="4.95" fill="#ee6c6c"/>
<rect x="143.70" y="288.20" width="4.95" height="4.95" fill="#7070f1"/>
<rect x="153.50" y="288.20" width="4.95" height="4.95" fill="#afb0f5"/>
<rect x="168.20" y="288.20" width="4.95" height="4.95" fill="#ee6c6c"/>
<rect x="173.10" y="288.20" width="4.95" height="4.95" fill="#f4aaaa"/>
<rect x="192.70" y="288.20" width="14.75" height="4.95" fill="#fadcdc"/>
<rect x="207.40" y="288.20" width="14.75" height="4.95" fill="#f4aaaa"/>
<rect x="231.90" y="288.20" width="4.95" height="4.95" fill="#7070f1"/>
<rect x="241.70" y="288.20" width="4.95" height="4.95" fill="#afb0f5"/>
<rect x="256.40" y="288.20" width="4.95" height="4.95" fill="#fadcdc"/>
<rect x="266.20" y="288.20" width="4.95" height="4.95" fill="#dfdffb"/>
<rect x="290.70" y="288.20" width="4.95" height="4.95" fill="#fadcdc"/>
<rect x="300.50" y="288.20" width="9.85" height="4.95" fill="#fadcdc"/>
<rect x="320.10" y="288.20" width="4.95" height="4.95" fill="#7070f1"/>
<rect x="329.90" y="288.20" width="4.95" height="4.95" fill="#dfdffb"/>
<rect x="344.60" y="288.20" width="4.95" height="4.95" fill="#dfdffb"/>
<rect x="354.40" y="288.20" width="4.95" height="4.95" fill="#7070f1"/>
<rect x="364.20" y="288.20" width="19.65" height="4.95" fill="#fadcdc"/>
<rect x="383.80" y="288.20" width="19.65" height="4.95" fill="#f4aaaa"/>
<rect x="403.40" y="288.20" width="4.95" height="4.95" fill="#fadcdc"/>
<rect x="408.30" y="288.20" width="4.95" height="4.95" fill="#f4aaaa"/>
<rect x="413.20" y="288.20" width="9.85" height="4.95" fill="#ee6c6c"/>
<rect x="437.70" y="288.20" width="4.95" height="4.95" fill="#fadcdc"/>
<rect x="457.30" y="288.20" width="9.85" height="4.95" fill="#afb0f5"/>
<rect x="501.40" y="288.20" width="4.95" height="4.95" fill="#dfdffb"/>
<rect x="506.30" y="288.20" width="14.75" height="4.95" fill="#afb0f5"/>
<rect x="521.00" y="288.20" width="4.95" height="4.95" fill="#dfdffb"/>
<rect x="80.00" y="293.10" width="4.95" height="4.95" fill="#f4aaaa"/>
<rect x="84.90" y="293.10" width="9.85" height="4.95" fill="#dfdffb"/>
<rect x="94.70" y="293.10" width="4.95" height="4.95" fill="#7070f1"/>
<rect x="99.60" y="293.10" width="4.95" height="4.95" fill="#afb0f5"/>
<rect x="124.10" y="293.10" width="4.95" height="4.95" fill="#f01a1a"/>
<rect x="129.00" y="293.10" width="9.85" height="4.95" fill="#ee6c6c"/>
<rect x="138.80" y="293.10" width="4.95" height="4.95" fill="#fadcdc"/>
<rect x="143.70" y="293.10" width="4.95" height="4.95" fill="#afb0f5"/>
<rect x="153.50" y="293.10" width="4.95" height="4.95" fill="#fadcdc"/>
<rect x="168.20" y="293.10" width="4.95" height="4.95" fill="#ee6c6c"/>
<rect x="173.10" y="293.10" width="4.95" height="4.95" fill="#dfdffb"/>
<rect x="178.00" y="293.10" width="4.95" height="4.95" fill="#afb0f5"/>
<rect x="187.80" y="293.10" width="4.95" height="4.95" fill="#dfdffb"/>
<rect x="197.60" y="293.10" width="4.95" height="4.95" fill="#afb0f5"/>
<rect x="207.40" y="293.10" width="4.95" height="4.95" fill="#f4aaaa"/>
<rect x="212.30" y="293.10" width="9.85" height="4.95" fill="#f01a1a"/>
<rect x="222.10" y="293.10" width="9.85" height="4.95" fill="#fadcdc"/>
<rect x="241.70" y="293.10" width="4.95" height="4.95" fill="#1408f3"/>
<rect x="256.40" y="293.10" width="4.95" height="4.95" fill="#fadcdc"/>
<rect x="280.90" y="293.10" width="4.95" height="4.95" fill="#fadcdc"/>
<rect x="285.80" y="293.10" width="4.95" height="4.95" fill="#afb0f5"/>
<rect x="295.60" y="293.10" width="4.95" height="4.95" fill="#fadcdc"/>
<rect x="300.50" y="293.10" width="4.95" height="4.95" fill="#ee6c6c"/>
<rect x="305.40" y="293.10" width="9.85" height="4.95" fill="#f4aaaa"/>
<rect x="315.20" y="293.10" width="4.95" height="4.95" fill="#fadcdc"/>
<rect x="413.20" y="293.10" width="4.95" height="4.95" fill="#ee6c6c"/>
<rect x="427.90" y="293.10" width="4.95" height="4.95" fill="#fadcdc"/>
<rect x="442.60" y="293.10" width="9.85" height="4.95" fill="#afb0f5"/>
<rect x="457.30" y="293.10" width="4.95" height="4.95" fill="#dfdffb"/>
<rect x="496.50" y="293.10" width="4.95" height="4.95" fill="#dfdffb"/>
<rect x="65.30" y="298.00" width="4.95" height="4.95" fill="#fadcdc"/>
<rect x="80.00" y="298.00" width="4.95" height="4.95" fill="#f4aaaa"/>
<rect x="89.80" y="298.00" width="4.95" height="4.95" fill="#7070f1"/>
<rect x="104.50" y="298.00" width="4.95" height="4.95" fill="#f01a1a"/>
<rect x="124.10" y="298.00" width="9.85" height="4.95" fill="#f01a1a"/>
<rect x="133.90" y="298.00" width="4.95" height="4.95" fill="#ee6c6c"/>
<rect x="138.80" y="298.00" width="9.85" height="4.95" fill="#f4aaaa"/>
<rect x="153.50" y="298.00" width="4.95" height="4.95" fill="#7070f1"/>
<rect x="168.20" y="298.00" width="4.95" height="4.95" fill="#fadcdc"/>
<rect x="187.80" y="298.00" width="14.75" height="4.95" fill="#dfdffb"/>
<rect x="207.40" y="298.00" width="4.95" height="4.95" fill="#f4aaaa"/>
<rect x="212.30" y="298.00" width="9.85" height="4.95" fill="#f01a1a"/>
<rect x="222.10" y="298.00" width="4.95" height="4.95" fill="#ee6c6c"/>
<rect x="227.00" y="298.00" width="4.95" height="4.95" fill="#f4aaaa"/>
<rect x="241.70" y="298.00" width="4.95" height="4.95" fill="#7070f1"/>
<rect x="256.40" y="298.00" width="9.85" height="4.95" fill="#fadcdc"/>
<rect x="290.70" y="298.00" width="4.95" height="4.95" fill="#fadcdc"/>
<rect x="300.50" y="298.00" width="14.75" height="4.95" fill="#ee6c6c"/>
<rect x="315.20" y="298.00" width="4.95" height="4.95" fill="#fadcdc"/>
<rect x="329.90" y="298.00" width="4.95" height="4.95" fill="#afb0f5"/>
<rect x="388.70" y="298.00" width="14.75" height="4.95" fill="#fadcdc"/>
<rect x="408.30" y="298.00" width="9.85" height="4.95" fill="#fadcdc"/>
<rect x="418.10" y="298.00" width="4.95" height="4.95" fill="#f4aaaa"/>
<rect x="423.00" y="298.00" width="4.95" height="4.95" fill="#fadcdc"/>
<rect x="432.80" y="298.00" width="4.95" height="4.95" fill="#fadcdc"/>
<rect x="452.40" y="298.00" width="19.65" height="4.95" fill="#f4aaaa"/>
<rect x="506.30" y="298.00" width="4.95" height="4.95" fill="#ee6c6c"/>
<rect x="511.20" y="298.00" width="4.95" height="4.95" fill="#fadcdc"/>
<rect x="65.30" y="302.90" width="4.95" height="4.95" fill="#fadcdc"/>
<rect x="80.00" y="302.90" width="4.95" height="4.95" fill="#fadcdc"/>
<rect x="89.80" y="302.90" width="4.95" height="4.95" fill="#afb0f5"/>
<rect x="94.70" y="302.90" width="4.95" height="4.95" fill="#dfdffb"/>
<rect x="104.50" y="302.90" width="4.95" height="4.95" fill="#fadcdc"/>
<rect x="124.10" y="302.90" width="9.85" height="4.95" fill="#f01a1a"/>
<rect x="133.90" y="302.90" width="4.95" height="4.95" fill="#f4aaaa"/>
<rect x="138.80" y="302.90" width="4.95" height="4.95" fill="#fadcdc"/>
<rect x="168.20" y="302.90" width="4.95" height="4.95" fill="#fadcdc"/>
<rect x="178.00" y="302.90" width="4.95" height="4.95" fill="#dfdffb"/>
<rect x="192.70" y="302.90" width="9.85" height="4.95" fill="#dfdffb"/>
<rect x="207.40" y="302.90" width="4.95" height="4.95" fill="#f4aaaa"/>
<rect x="212.30" y="302.90" width="4.95" height="4.95" fill="#f01a1a"/>
<rect x="217.20" y="302.90" width="9.85" height="4.95" fill="#ee6c6c"/>
<rect x="227.00" y="302.90" width="9.85" height="4.95" fill="#fadcdc"/>
<rect x="241.70" y="302.90" width="4.95" height="4.95" fill="#afb0f5"/>
<rect x="256.40" y="302.90" width="9.85" height="4.95" fill="#fadcdc"/>
<rect x="266.20" y="302.90" width="4.95" height="4.95" fill="#dfdffb"/>
<rect x="276.00" y="302.90" width="4.95" height="4.95" fill="#afb0f5"/>
<rect x="295.60" y="302.90" width="4.95" height="4.95" fill="#fadcdc"/>
<rect x="300.50" y="302.90" width="9.85" height="4.95" fill="#ee6c6c"/>
<rect x="310.30" y="302.90" width="4.95" height="4.95" fill="#f4aaaa"/>
<rect x="315.20" y="302.90" width="4.95" height="4.95" fill="#fadcdc"/>
<rect x="329.90" y="302.90" width="4.95" height="4.95" fill="#dfdffb"/>
<rect x="378.90" y="302.90" width="19.65" height="4.95" fill="#fadcdc"/>
<rect x="408.30" y="302.90" width="4.95" height="4.95" fill="#fadcdc"/>
<rect x="418.10" y="302.90" width="4.95" height="4.95" fill="#fadcdc"/>
<rect x="423.00" y="302.90" width="4.95" height="4.95" fill="#afb0f5"/>
<rect x="432.80" y="302.90" width="4.95" height="4.95" fill="#afb0f5"/>
<rect x="447.50" y="302.90" width="4.95" height="4.95" fill="#fadcdc"/>
<rect x="452.40" y="302.90" width="14.75" height="4.95" fill="#f4aaaa"/>
<rect x="467.10" y="302.90" width="4.95" height="4.95" fill="#fadcdc"/>
<rect x="506.30" y="302.90" width="4.95" height="4.95" fill="#fadcdc"/>
<rect x="80.00" y="307.80" width="4.95" height="4.95" fill="#fadcdc"/>
<rect x="89.80" y="307.80" width="9.85" height="4.95" fill="#dfdffb"/>
<rect x="99.60" y="307.80" width="9.85" height="4.95" fill="#7070f1"/>
<rect x="124.10" y="307.80" width="4.95" height="4.95" fill="#fadcdc"/>
<rect x="129.00" y="307.80" width="4.95" height="4.95" fill="#f4aaaa"/>
<rect x="133.90" y="307.80" width="4.95" height="4.95" fill="#fadcdc"/>
<rect x="138.80" y="307.80" width="4.95" height="4.95" fill="#dfdffb"/>
<rect x="143.70" y="307.80" width="4.95" height="4.95" fill="#afb0f5"/>
<rect x="153.50" y="307.80" width="4.95" height="4.95" fill="#dfdffb"/>
<rect x="173.10" y="307.80" width="4.95" height="4.95" fill="#fadcdc"/>
<rect x="178.00" y="307.80" width="9.85" height="4.95" fill="#f4aaaa"/>
<rect x="187.80" y="307.80" width="9.85" height="4.95" fill="#fadcdc"/>
<rect x="207.40" y="307.80" width="19.65" height="4.95" fill="#fadcdc"/>
<rect x="227.00" y="307.80" width="9.85" height="4.95" fill="#dfdffb"/>
<rect x="241.70" y="307.80" width="4.95" height="4.95" fill="#dfdffb"/>
<rect x="256.40" y="307.80" width="19.65" height="4.95" fill="#fadcdc"/>
<rect x="295.60" y="307.80" width="4.95" height="4.95" fill="#fadcdc"/>
<rect x="305.40" y="307.80" width="14.75" height="4.95" fill="#fadcdc"/>
<rect x="329.90" y="307.80" width="4.95" height="4.95" fill="#dfdffb"/>
<rect x="339.70" y="307.80" width="9.85" height="4.95" fill="#afb0f5"/>
<rect x="349.50" y="307.80" width="34.35" height="4.95" fill="#dfdffb"/>
<rect x="418.10" y="307.80" width="4.95" height="4.95" fill="#f4aaaa"/>
<rect x="423.00" y="307.80" width="4.95" height="4.95" fill="#fadcdc"/>
<rect x="432.80" y="307.80" width="4.95" height="4.95" fill="#fadcdc"/>
<rect x="496.50" y="307.80" width="4.95" height="4.95" fill="#afb0f5"/>
<rect x="501.40" y="307.80" width="4.95" height="4.95" fill="#dfdffb"/>
<rect x="516.10" y="307.80" width="4.95" height="4.95" fill="#fadcdc"/>
<rect x="521.00" y="307.80" width="4.95" height="4.95" fill="#dfdffb"/>
<rect x="65.30" y="312.70" width="4.95" height="4.95" fill="#dfdffb"/>
<rect x="80.00" y="312.70" width="4.95" height="4.95" fill="#fadcdc"/>
<rect x="89.80" y="312.70" width="19.65" height="4.95" fill="#dfdffb"/>
<rect x="114.30" y="312.70" width="4.95" height="4.95" fill="#fadcdc"/>
<rect x="129.00" y="312.70" width="4.95" height="4.95" fill="#fadcdc"/>
<rect x="138.80" y="312.70" width="4.95" height="4.95" fill="#dfdffb"/>
<rect x="178.00" y="312.70" width="9.85" height="4.95" fill="#fadcdc"/>
<rect x="227.00" y="312.70" width="4.95" height="4.95" fill="#fadcdc"/>
<rect x="251.50" y="312.70" width="4.95" height="4.95" fill="#dfdffb"/>
<rect x="271.10" y="312.70" width="14.75" height="4.95" fill="#fadcdc"/>
<rect x="300.50" y="312.70" width="9.85" height="4.95" fill="#fadcdc"/>
<rect x="315.20" y="312.70" width="4.95" height="4.95" fill="#fadcdc"/>
<rect x="329.90" y="312.70" width="4.95" height="4.95" fill="#fadcdc"/>
<rect x="427.90" y="312.70" width="4.95" height="4.95" fill="#fadcdc"/>
<rect x="432.80" y="312.70" width="4.95" height="4.95" fill="#f4aaaa"/>
<rect x="437.70" y="312.70" width="4.95" height="4.95" fill="#fadcdc"/>
<rect x="75.10" y="317.60" width="4.95" height="4.95" fill="#fadcdc"/>
<rect x="80.00" y="317.60" width="9.85" height="4.95" fill="#dfdffb"/>
<rect x="89.80" y="317.60" width="4.95" height="4.95" fill="#afb0f5"/>
<rect x="99.60" y="317.60" width="9.85" height="4.95" fill="#f01a1a"/>
<rect x="114.30" y="317.60" width="4.95" height="4.95" fill="#fadcdc"/>
<rect x="129.00" y="317.60" width="9.85" height="4.95" fill="#fadcdc"/>
<rect x="138.80" y="317.60" width="4.95" height="4.95" fill="#dfdffb"/>
<rect x="143.70" y="317.60" width="4.95" height="4.95" fill="#f4aaaa"/>
<rect x="153.50" y="317.60" width="4.95" height="4.95" fill="#f4aaaa"/>
<rect x="158.40" y="317.60" width="4.95" height="4.95" fill="#fadcdc"/>
<rect x="173.10" y="317.60" width="19.65" height="4.95" fill="#fadcdc"/>
<rect x="192.70" y="317.60" width="9.85" height="4.95" fill="#f4aaaa"/>
<rect x="222.10" y="317.60" width="9.85" height="4.95" fill="#fadcdc"/>
<rect x="231.90" y="317.60" width="4.95" height="4.95" fill="#f4aaaa"/>
<rect x="241.70" y="317.60" width="4.95" height="4.95" fill="#f4aaaa"/>
<rect x="251.50" y="317.60" width="24.55" height="4.95" fill="#fadcdc"/>
<rect x="276.00" y="317.60" width="14.75" height="4.95" fill="#f4aaaa"/>
<rect x="295.60" y="317.60" width="4.95" height="4.95" fill="#fadcdc"/>
<rect x="305.40" y="317.60" width="19.65" height="4.95" fill="#fadcdc"/>
<rect x="329.90" y="317.60" width="4.95" height="4.95" fill="#f4aaaa"/>
<rect x="334.80" y="317.60" width="39.25" height="4.95" fill="#fadcdc"/>
<rect x="378.90" y="317.60" width="29.45" height="4.95" fill="#fadcdc"/>
<rect x="423.00" y="317.60" width="9.85" height="4.95" fill="#dfdffb"/>
<rect x="432.80" y="317.60" width="4.95" height="4.95" fill="#fadcdc"/>
<rect x="437.70" y="317.60" width="9.85" height="4.95" fill="#f4aaaa"/>
<rect x="447.50" y="317.60" width="4.95" height="4.95" fill="#fadcdc"/>
<rect x="457.30" y="317.60" width="14.75" height="4.95" fill="#fadcdc"/>
<rect x="506.30" y="317.60" width="4.95" height="4.95" fill="#fadcdc"/>
<rect x="516.10" y="317.60" width="4.95" height="4.95" fill="#fadcdc"/>
<rect x="75.10" y="322.50" width="4.95" height="4.95" fill="#f4aaaa"/>
<rect x="80.00" y="322.50" width="9.85" height="4.95" fill="#dfdffb"/>
<rect x="89.80" y="322.50" width="4.95" height="4.95" fill="#7070f1"/>
<rect x="94.70" y="322.50" width="4.95" height="4.95" fill="#dfdffb"/>
<rect x="99.60" y="322.50" width="9.85" height="4.95" fill="#f01a1a"/>
<rect x="114.30" y="322.50" width="4.95" height="4.95" fill="#f4aaaa"/>
<rect x="124.10" y="322.50" width="4.95" height="4.95" fill="#dfdffb"/>
<rect x="129.00" y="322.50" width="4.95" height="4.95" fill="#fadcdc"/>
<rect x="133.90" y="322.50" width="4.95" height="4.95" fill="#dfdffb"/>
<rect x="138.80" y="322.50" width="4.95" height="4.95" fill="#fadcdc"/>
<rect x="143.70" y="322.50" width="4.95" height="4.95" fill="#ee6c6c"/>
<rect x="153.50" y="322.50" width="4.95" height="4.95" fill="#f4aaaa"/>
<rect x="158.40" y="322.50" width="9.85" height="4.95" fill="#fadcdc"/>
<rect x="173.10" y="322.50" width="4.95" height="4.95" fill="#dfdffb"/>
<rect x="182.90" y="322.50" width="9.85" height="4.95" fill="#fadcdc"/>
<rect x="192.70" y="322.50" width="9.85" height="4.95" fill="#f4aaaa"/>
<rect x="212.30" y="322.50" width="9.85" height="4.95" fill="#dfdffb"/>
<rect x="231.90" y="322.50" width="4.95" height="4.95" fill="#f4aaaa"/>
<rect x="241.70" y="322.50" width="4.95" height="4.95" fill="#f4aaaa"/>
<rect x="251.50" y="322.50" width="4.95" height="4.95" fill="#fadcdc"/>
<rect x="271.10" y="322.50" width="4.95" height="4.95" fill="#fadcdc"/>
<rect x="276.00" y="322.50" width="4.95" height="4.95" fill="#f4aaaa"/>
<rect x="280.90" y="322.50" width="9.85" height="4.95" fill="#ee6c6c"/>
<rect x="295.60" y="322.50" width="9.85" height="4.95" fill="#fadcdc"/>
<rect x="310.30" y="322.50" width="14.75" height="4.95" fill="#fadcdc"/>
<rect x="329.90" y="322.50" width="4.95" height="4.95" fill="#ee6c6c"/>
<rect x="334.80" y="322.50" width="4.95" height="4.95" fill="#fadcdc"/>
<rect x="339.70" y="322.50" width="34.35" height="4.95" fill="#f4aaaa"/>
<rect x="374.00" y="322.50" width="4.95" height="4.95" fill="#fadcdc"/>
<rect x="378.90" y="322.50" width="24.55" height="4.95" fill="#f4aaaa"/>
<rect x="403.40" y="322.50" width="4.95" height="4.95" fill="#fadcdc"/>
<rect x="413.20" y="322.50" width="9.85" height="4.95" fill="#dfdffb"/>
<rect x="423.00" y="322.50" width="9.85" height="4.95" fill="#afb0f5"/>
<rect x="432.80" y="322.50" width="4.95" height="4.95" fill="#fadcdc"/>
<rect x="437.70" y="322.50" width="9.85" height="4.95" fill="#ee6c6c"/>
<rect x="447.50" y="322.50" width="4.95" height="4.95" fill="#fadcdc"/>
<rect x="462.20" y="322.50" width="4.95" height="4.95" fill="#dfdffb"/>
<rect x="511.20" y="322.50" width="4.95" height="4.95" fill="#dfdffb"/>
<rect x="516.10" y="322.50" width="4.95" height="4.95" fill="#fadcdc"/>
<rect x="65.30" y="327.40" width="4.95" height="4.95" fill="#fadcdc"/>
<rect x="75.10" y="327.40" width="4.95" height="4.95" fill="#f4aaaa"/>
<rect x="80.00" y="327.40" width="9.85" height="4.95" fill="#dfdffb"/>
<rect x="89.80" y="327.40" width="4.95" height="4.95" fill="#7070f1"/>
<rect x="94.70" y="327.40" width="4.95" height="4.95" fill="#dfdffb"/>
<rect x="99.60" y="327.40" width="9.85" height="4.95" fill="#f01a1a"/>
<rect x="114.30" y="327.40" width="4.95" height="4.95" fill="#f4aaaa"/>
<rect x="124.10" y="327.40" width="4.95" height="4.95" fill="#fadcdc"/>
<rect x="129.00" y="327.40" width="4.95" height="4.95" fill="#dfdffb"/>
<rect x="133.90" y="327.40" width="4.95" height="4.95" fill="#fadcdc"/>
<rect x="138.80" y="327.40" width="4.95" height="4.95" fill="#dfdffb"/>
<rect x="143.70" y="327.40" width="4.95" height="4.95" fill="#f01a1a"/>
<rect x="153.50" y="327.40" width="4.95" height="4.95" fill="#ee6c6c"/>
<rect x="168.20" y="327.40" width="4.95" height="4.95" fill="#afb0f5"/>
<rect x="173.10" y="327.40" width="4.95" height="4.95" fill="#dfdffb"/>
<rect x="182.90" y="327.40" width="4.95" height="4.95" fill="#afb0f5"/>
<rect x="192.70" y="327.40" width="9.85" height="4.95" fill="#fadcdc"/>
<rect x="207.40" y="327.40" width="4.95" height="4.95" fill="#fadcdc"/>
<rect x="231.90" y="327.40" width="4.95" height="4.95" fill="#fadcdc"/>
<rect x="241.70" y="327.40" width="4.95" height="4.95" fill="#ee6c6c"/>
<rect x="251.50" y="327.40" width="4.95" height="4.95" fill="#fadcdc"/>
<rect x="276.00" y="327.40" width="4.95" height="4.95" fill="#fadcdc"/>
<rect x="280.90" y="327.40" width="9.85" height="4.95" fill="#ee6c6c"/>
<rect x="290.70" y="327.40" width="19.65" height="4.95" fill="#fadcdc"/>
<rect x="315.20" y="327.40" width="9.85" height="4.95" fill="#fadcdc"/>
<rect x="329.90" y="327.40" width="4.95" height="4.95" fill="#ee6c6c"/>
<rect x="334.80" y="327.40" width="9.85" height="4.95" fill="#fadcdc"/>
<rect x="344.60" y="327.40" width="4.95" height="4.95" fill="#f4aaaa"/>
<rect x="349.50" y="327.40" width="19.65" height="4.95" fill="#fadcdc"/>
<rect x="369.10" y="327.40" width="4.95" height="4.95" fill="#f4aaaa"/>
<rect x="374.00" y="327.40" width="4.95" height="4.95" fill="#fadcdc"/>
<rect x="378.90" y="327.40" width="4.95" height="4.95" fill="#f4aaaa"/>
<rect x="383.80" y="327.40" width="24.55" height="4.95" fill="#fadcdc"/>
<rect x="413.20" y="327.40" width="14.75" height="4.95" fill="#afb0f5"/>
<rect x="427.90" y="327.40" width="4.95" height="4.95" fill="#dfdffb"/>
<rect x="432.80" y="327.40" width="4.95" height="4.95" fill="#fadcdc"/>
<rect x="437.70" y="327.40" width="9.85" height="4.95" fill="#ee6c6c"/>
<rect x="447.50" y="327.40" width="4.95" height="4.95" fill="#fadcdc"/>
<rect x="457.30" y="327.40" width="14.75" height="4.95" fill="#fadcdc"/>
<rect x="496.50" y="327.40" width="4.95" height="4.95" fill="#ee6c6c"/>
<rect x="506.30" y="327.40" width="4.95" height="4.95" fill="#dfdffb"/>
<rect x="511.20" y="327.40" width="4.95" height="4.95" fill="#afb0f5"/>
<rect x="75.10" y="332.30" width="4.95" height="4.95" fill="#fadcdc"/>
<rect x="84.90" y="332.30" width="4.95" height="4.95" fill="#dfdffb"/>
<rect x="89.80" y="332.30" width="4.95" height="4.95" fill="#7070f1"/>
<rect x="99.60" y="332.30" width="9.85" height="4.95" fill="#f01a1a"/>
<rect x="114.30" y="332.30" width="4.95" height="4.95" fill="#fadcdc"/>
<rect x="124.10" y="332.30" width="4.95" height="4.95" fill="#fadcdc"/>
<rect x="129.00" y="332.30" width="4.95" height="4.95" fill="#dfdffb"/>
<rect x="138.80" y="332.30" width="4.95" height="4.95" fill="#dfdffb"/>
<rect x="143.70" y="332.30" width="4.95" height="4.95" fill="#ee6c6c"/>
<rect x="153.50" y="332.30" width="4.95" height="4.95" fill="#f4aaaa"/>
<rect x="168.20" y="332.30" width="4.95" height="4.95" fill="#afb0f5"/>
<rect x="202.50" y="332.30" width="4.95" height="4.95" fill="#dfdffb"/>
<rect x="207.40" y="332.30" width="4.95" height="4.95" fill="#fadcdc"/>
<rect x="222.10" y="332.30" width="9.85" height="4.95" fill="#fadcdc"/>
<rect x="231.90" y="332.30" width="4.95" height="4.95" fill="#f4aaaa"/>
<rect x="241.70" y="332.30" width="4.95" height="4.95" fill="#ee6c6c"/>
<rect x="251.50" y="332.30" width="4.95" height="4.95" fill="#fadcdc"/>
<rect x="256.40" y="332.30" width="9.85" height="4.95" fill="#afb0f5"/>
<rect x="276.00" y="332.30" width="4.95" height="4.95" fill="#fadcdc"/>
<rect x="280.90" y="332.30" width="9.85" height="4.95" fill="#f4aaaa"/>
<rect x="295.60" y="332.30" width="19.65" height="4.95" fill="#fadcdc"/>
<rect x="320.10" y="332.30" width="4.95" height="4.95" fill="#fadcdc"/>
<rect x="329.90" y="332.30" width="4.95" height="4.95" fill="#ee6c6c"/>
<rect x="334.80" y="332.30" width="4.95" height="4.95" fill="#fadcdc"/>
<rect x="369.10" y="332.30" width="4.95" height="4.95" fill="#f4aaaa"/>
<rect x="378.90" y="332.30" width="24.55" height="4.95" fill="#fadcdc"/>
<rect x="403.40" y="332.30" width="4.95" height="4.95" fill="#ee6c6c"/>
<rect x="413.20" y="332.30" width="9.85" height="4.95" fill="#afb0f5"/>
<rect x="432.80" y="332.30" width="4.95" height="4.95" fill="#fadcdc"/>
<rect x="437.70" y="332.30" width="9.85" height="4.95" fill="#ee6c6c"/>
<rect x="447.50" y="332.30" width="4.95" height="4.95" fill="#fadcdc"/>
<rect x="457.30" y="332.30" width="9.85" height="4.95" fill="#f4aaaa"/>
<rect x="467.10" y="332.30" width="4.95" height="4.95" fill="#fadcdc"/>
<rect x="496.50" y="332.30" width="9.85" height="4.95" fill="#dfdffb"/>
<rect x="506.30" y="332.30" width="4.95" height="4.95" fill="#7070f1"/>
<rect x="511.20" y="332.30" width="4.95" height="4.95" fill="#afb0f5"/>
<rect x="80.00" y="337.20" width="4.95" height="4.95" fill="#fadcdc"/>
<rect x="89.80" y="337.20" width="4.95" height="4.95" fill="#1408f3"/>
<rect x="94.70" y="337.20" width="4.95" height="4.95" fill="#ee6c6c"/>
<rect x="99.60" y="337.20" width="9.85" height="4.95" fill="#f01a1a"/>
<rect x="124.10" y="337.20" width="9.85" height="4.95" fill="#fadcdc"/>
<rect x="133.90" y="337.20" width="4.95" height="4.95" fill="#ee6c6c"/>
<rect x="138.80" y="337.20" width="9.85" height="4.95" fill="#fadcdc"/>
<rect x="153.50" y="337.20" width="4.95" height="4.95" fill="#fadcdc"/>
<rect x="182.90" y="337.20" width="4.95" height="4.95" fill="#fadcdc"/>
<rect x="222.10" y="337.20" width="14.75" height="4.95" fill="#fadcdc"/>
<rect x="241.70" y="337.20" width="4.95" height="4.95" fill="#fadcdc"/>
<rect x="261.30" y="337.20" width="14.75" height="4.95" fill="#dfdffb"/>
<rect x="276.00" y="337.20" width="4.95" height="4.95" fill="#7070f1"/>
<rect x="300.50" y="337.20" width="19.65" height="4.95" fill="#f4aaaa"/>
<rect x="329.90" y="337.20" width="4.95" height="4.95" fill="#f4aaaa"/>
<rect x="413.20" y="337.20" width="9.85" height="4.95" fill="#afb0f5"/>
<rect x="423.00" y="337.20" width="14.75" height="4.95" fill="#dfdffb"/>
<rect x="437.70" y="337.20" width="9.85" height="4.95" fill="#fadcdc"/>
<rect x="457.30" y="337.20" width="14.75" height="4.95" fill="#f4aaaa"/>
<rect x="501.40" y="337.20" width="9.85" height="4.95" fill="#fadcdc"/>
<rect x="65.30" y="347.00" width="4.95" height="4.95" fill="#fadcdc"/>
<rect x="80.00" y="347.00" width="4.95" height="4.95" fill="#fadcdc"/>
<rect x="89.80" y="347.00" width="4.95" height="4.95" fill="#f01a1a"/>
<rect x="94.70" y="347.00" width="4.95" height="4.95" fill="#f4aaaa"/>
<rect x="99.60" y="347.00" width="9.85" height="4.95" fill="#1408f3"/>
<rect x="114.30" y="347.00" width="4.95" height="4.95" fill="#fadcdc"/>
<rect x="124.10" y="347.00" width="4.95" height="4.95" fill="#f01a1a"/>
<rect x="129.00" y="347.00" width="4.95" height="4.95" fill="#ee6c6c"/>
<rect x="133.90" y="347.00" width="9.85" height="4.95" fill="#fadcdc"/>
<rect x="163.30" y="347.00" width="4.95" height="4.95" fill="#fadcdc"/>
<rect x="168.20" y="347.00" width="4.95" height="4.95" fill="#f4aaaa"/>
<rect x="173.10" y="347.00" width="4.95" height="4.95" fill="#ee6c6c"/>
<rect x="178.00" y="347.00" width="4.95" height="4.95" fill="#f01a1a"/>
<rect x="182.90" y="347.00" width="4.95" height="4.95" fill="#fadcdc"/>
<rect x="187.80" y="347.00" width="4.95" height="4.95" fill="#dfdffb"/>
<rect x="202.50" y="347.00" width="4.95" height="4.95" fill="#7070f1"/>
<rect x="212.30" y="347.00" width="9.85" height="4.95" fill="#ee6c6c"/>
<rect x="222.10" y="347.00" width="9.85" height="4.95" fill="#fadcdc"/>
<rect x="241.70" y="347.00" width="4.95" height="4.95" fill="#fadcdc"/>
<rect x="251.50" y="347.00" width="4.95" height="4.95" fill="#dfdffb"/>
<rect x="256.40" y="347.00" width="4.95" height="4.95" fill="#ee6c6c"/>
<rect x="271.10" y="347.00" width="4.95" height="4.95" fill="#afb0f5"/>
<rect x="280.90" y="347.00" width="4.95" height="4.95" fill="#afb0f5"/>
<rect x="285.80" y="347.00" width="9.85" height="4.95" fill="#dfdffb"/>
<rect x="295.60" y="347.00" width="4.95" height="4.95" fill="#fadcdc"/>
<rect x="300.50" y="347.00" width="4.95" height="4.95" fill="#f4aaaa"/>
<rect x="305.40" y="347.00" width="4.95" height="4.95" fill="#ee6c6c"/>
<rect x="310.30" y="347.00" width="4.95" height="4.95" fill="#f4aaaa"/>
<rect x="315.20" y="347.00" width="4.95" height="4.95" fill="#ee6c6c"/>
<rect x="320.10" y="347.00" width="4.95" height="4.95" fill="#f4aaaa"/>
<rect x="339.70" y="347.00" width="9.85" height="4.95" fill="#dfdffb"/>
<rect x="349.50" y="347.00" width="4.95" height="4.95" fill="#afb0f5"/>
<rect x="354.40" y="347.00" width="24.55" height="4.95" fill="#dfdffb"/>
<rect x="378.90" y="347.00" width="4.95" height="4.95" fill="#7070f1"/>
<rect x="383.80" y="347.00" width="19.65" height="4.95" fill="#dfdffb"/>
<rect x="413.20" y="347.00" width="4.95" height="4.95" fill="#f4aaaa"/>
<rect x="423.00" y="347.00" width="4.95" height="4.95" fill="#dfdffb"/>
<rect x="427.90" y="347.00" width="4.95" height="4.95" fill="#7070f1"/>
<rect x="432.80" y="347.00" width="4.95" height="4.95" fill="#1408f3"/>
<rect x="437.70" y="347.00" width="4.95" height="4.95" fill="#afb0f5"/>
<rect x="442.60" y="347.00" width="4.95" height="4.95" fill="#dfdffb"/>
<rect x="457.30" y="347.00" width="4.95" height="4.95" fill="#fadcdc"/>
<rect x="462.20" y="347.00" width="9.85" height="4.95" fill="#f4aaaa"/>
<rect x="496.50" y="347.00" width="4.95" height="4.95" fill="#afb0f5"/>
<rect x="501.40" y="347.00" width="4.95" height="4.95" fill="#dfdffb"/>
<rect x="506.30" y="347.00" width="4.95" height="4.95" fill="#afb0f5"/>
<rect x="511.20" y="347.00" width="9.85" height="4.95" fill="#f4aaaa"/>
<rect x="521.00" y="347.00" width="4.95" height="4.95" fill="#dfdffb"/>
<rect x="75.10" y="351.90" width="19.65" height="4.95" fill="#fadcdc"/>
<rect x="99.60" y="351.90" width="9.85" height="4.95" fill="#1408f3"/>
<rect x="114.30" y="351.90" width="4.95" height="4.95" fill="#fadcdc"/>
<rect x="124.10" y="351.90" width="19.65" height="4.95" fill="#fadcdc"/>
<rect x="143.70" y="351.90" width="4.95" height="4.95" fill="#dfdffb"/>
<rect x="202.50" y="351.90" width="4.95" height="4.95" fill="#afb0f5"/>
<rect x="212.30" y="351.90" width="24.55" height="4.95" fill="#fadcdc"/>
<rect x="271.10" y="351.90" width="4.95" height="4.95" fill="#afb0f5"/>
<rect x="285.80" y="351.90" width="9.85" height="4.95" fill="#dfdffb"/>
<rect x="300.50" y="351.90" width="9.85" height="4.95" fill="#f4aaaa"/>
<rect x="310.30" y="351.90" width="4.95" height="4.95" fill="#fadcdc"/>
<rect x="315.20" y="351.90" width="4.95" height="4.95" fill="#f4aaaa"/>
<rect x="320.10" y="351.90" width="4.95" height="4.95" fill="#fadcdc"/>
<rect x="462.20" y="351.90" width="4.95" height="4.95" fill="#fadcdc"/>
<rect x="521.00" y="351.90" width="4.95" height="4.95" fill="#dfdffb"/>
<rect x="75.10" y="356.80" width="4.95" height="4.95" fill="#dfdffb"/>
<rect x="80.00" y="356.80" width="9.85" height="4.95" fill="#fadcdc"/>
<rect x="89.80" y="356.80" width="14.75" height="4.95" fill="#dfdffb"/>
<rect x="104.50" y="356.80" width="4.95" height="4.95" fill="#afb0f5"/>
<rect x="114.30" y="356.80" width="4.95" height="4.95" fill="#dfdffb"/>
<rect x="124.10" y="356.80" width="9.85" height="4.95" fill="#f4aaaa"/>
<rect x="133.90" y="356.80" width="4.95" height="4.95" fill="#fadcdc"/>
<rect x="153.50" y="356.80" width="4.95" height="4.95" fill="#afb0f5"/>
<rect x="168.20" y="356.80" width="4.95" height="4.95" fill="#dfdffb"/>
<rect x="173.10" y="356.80" width="4.95" height="4.95" fill="#afb0f5"/>
<rect x="178.00" y="356.80" width="9.85" height="4.95" fill="#dfdffb"/>
<rect x="202.50" y="356.80" width="4.95" height="4.95" fill="#dfdffb"/>
<rect x="212.30" y="356.80" width="14.75" height="4.95" fill="#fadcdc"/>
<rect x="290.70" y="356.80" width="4.95" height="4.95" fill="#dfdffb"/>
<rect x="300.50" y="356.80" width="9.85" height="4.95" fill="#fadcdc"/>
<rect x="310.30" y="356.80" width="4.95" height="4.95" fill="#f4aaaa"/>
<rect x="315.20" y="356.80" width="4.95" height="4.95" fill="#fadcdc"/>
<rect x="329.90" y="356.80" width="4.95" height="4.95" fill="#dfdffb"/>
<rect x="427.90" y="356.80" width="4.95" height="4.95" fill="#fadcdc"/>
<rect x="462.20" y="356.80" width="9.85" height="4.95" fill="#fadcdc"/>
<rect x="516.10" y="356.80" width="4.95" height="4.95" fill="#ee6c6c"/>
<rect x="75.10" y="361.70" width="4.95" height="4.95" fill="#dfdffb"/>
<rect x="80.00" y="361.70" width="4.95" height="4.95" fill="#f4aaaa"/>
<rect x="84.90" y="361.70" width="9.85" height="4.95" fill="#dfdffb"/>
<rect x="99.60" y="361.70" width="9.85" height="4.95" fill="#dfdffb"/>
<rect x="114.30" y="361.70" width="4.95" height="4.95" fill="#dfdffb"/>
<rect x="124.10" y="361.70" width="9.85" height="4.95" fill="#f4aaaa"/>
<rect x="138.80" y="361.70" width="9.85" height="4.95" fill="#dfdffb"/>
<rect x="153.50" y="361.70" width="4.95" height="4.95" fill="#dfdffb"/>
<rect x="168.20" y="361.70" width="14.75" height="4.95" fill="#afb0f5"/>
<rect x="182.90" y="361.70" width="4.95" height="4.95" fill="#7070f1"/>
<rect x="187.80" y="361.70" width="19.65" height="4.95" fill="#dfdffb"/>
<rect x="212.30" y="361.70" width="4.95" height="4.95" fill="#f4aaaa"/>
<rect x="217.20" y="361.70" width="9.85" height="4.95" fill="#fadcdc"/>
<rect x="241.70" y="361.70" width="4.95" height="4.95" fill="#dfdffb"/>
<rect x="256.40" y="361.70" width="19.65" height="4.95" fill="#dfdffb"/>
<rect x="290.70" y="361.70" width="4.95" height="4.95" fill="#dfdffb"/>
<rect x="300.50" y="361.70" width="9.85" height="4.95" fill="#fadcdc"/>
<rect x="310.30" y="361.70" width="4.95" height="4.95" fill="#f4aaaa"/>
<rect x="315.20" y="361.70" width="4.95" height="4.95" fill="#fadcdc"/>
<rect x="329.90" y="361.70" width="4.95" height="4.95" fill="#dfdffb"/>
<rect x="349.50" y="361.70" width="24.55" height="4.95" fill="#dfdffb"/>
<rect x="413.20" y="361.70" width="4.95" height="4.95" fill="#dfdffb"/>
<rect x="427.90" y="361.70" width="4.95" height="4.95" fill="#fadcdc"/>
<rect x="447.50" y="361.70" width="4.95" height="4.95" fill="#afb0f5"/>
<rect x="462.20" y="361.70" width="4.95" height="4.95" fill="#fadcdc"/>
<rect x="506.30" y="361.70" width="14.75" height="4.95" fill="#dfdffb"/>
<rect x="75.10" y="366.60" width="4.95" height="4.95" fill="#afb0f5"/>
<rect x="80.00" y="366.60" width="9.85" height="4.95" fill="#fadcdc"/>
<rect x="89.80" y="366.60" width="19.65" height="4.95" fill="#dfdffb"/>
<rect x="114.30" y="366.60" width="4.95" height="4.95" fill="#afb0f5"/>
<rect x="124.10" y="366.60" width="9.85" height="4.95" fill="#f4aaaa"/>
<rect x="153.50" y="366.60" width="4.95" height="4.95" fill="#afb0f5"/>
<rect x="168.20" y="366.60" width="19.65" height="4.95" fill="#afb0f5"/>
<rect x="187.80" y="366.60" width="14.75" height="4.95" fill="#dfdffb"/>
<rect x="202.50" y="366.60" width="4.95" height="4.95" fill="#afb0f5"/>
<rect x="212.30" y="366.60" width="19.65" height="4.95" fill="#fadcdc"/>
<rect x="241.70" y="366.60" width="4.95" height="4.95" fill="#afb0f5"/>
<rect x="256.40" y="366.60" width="4.95" height="4.95" fill="#dfdffb"/>
<rect x="266.20" y="366.60" width="4.95" height="4.95" fill="#7070f1"/>
<rect x="290.70" y="366.60" width="4.95" height="4.95" fill="#afb0f5"/>
<rect x="300.50" y="366.60" width="9.85" height="4.95" fill="#fadcdc"/>
<rect x="310.30" y="366.60" width="4.95" height="4.95" fill="#f4aaaa"/>
<rect x="315.20" y="366.60" width="4.95" height="4.95" fill="#fadcdc"/>
<rect x="329.90" y="366.60" width="4.95" height="4.95" fill="#afb0f5"/>
<rect x="344.60" y="366.60" width="4.95" height="4.95" fill="#dfdffb"/>
<rect x="369.10" y="366.60" width="4.95" height="4.95" fill="#dfdffb"/>
<rect x="413.20" y="366.60" width="4.95" height="4.95" fill="#dfdffb"/>
<rect x="423.00" y="366.60" width="4.95" height="4.95" fill="#fadcdc"/>
<rect x="427.90" y="366.60" width="4.95" height="4.95" fill="#f4aaaa"/>
<rect x="437.70" y="366.60" width="4.95" height="4.95" fill="#fadcdc"/>
<rect x="462.20" y="366.60" width="4.95" height="4.95" fill="#fadcdc"/>
<rect x="467.10" y="366.60" width="4.95" height="4.95" fill="#f4aaaa"/>
<rect x="506.30" y="366.60" width="4.95" height="4.95" fill="#dfdffb"/>
<rect x="516.10" y="366.60" width="9.85" height="4.95" fill="#dfdffb"/>
<rect x="75.10" y="371.50" width="4.95" height="4.95" fill="#dfdffb"/>
<rect x="80.00" y="371.50" width="4.95" height="4.95" fill="#f4aaaa"/>
<rect x="84.90" y="371.50" width="4.95" height="4.95" fill="#fadcdc"/>
<rect x="89.80" y="371.50" width="4.95" height="4.95" fill="#dfdffb"/>
<rect x="104.50" y="371.50" width="4.95" height="4.95" fill="#dfdffb"/>
<rect x="114.30" y="371.50" width="4.95" height="4.95" fill="#afb0f5"/>
<rect x="124.10" y="371.50" width="9.85" height="4.95" fill="#f4aaaa"/>
<rect x="133.90" y="371.50" width="4.95" height="4.95" fill="#fadcdc"/>
<rect x="143.70" y="371.50" width="4.95" height="4.95" fill="#dfdffb"/>
<rect x="153.50" y="371.50" width="4.95" height="4.95" fill="#afb0f5"/>
<rect x="168.20" y="371.50" width="19.65" height="4.95" fill="#afb0f5"/>
<rect x="187.80" y="371.50" width="19.65" height="4.95" fill="#dfdffb"/>
<rect x="212.30" y="371.50" width="14.75" height="4.95" fill="#fadcdc"/>
<rect x="241.70" y="371.50" width="4.95" height="4.95" fill="#afb0f5"/>
<rect x="256.40" y="371.50" width="4.95" height="4.95" fill="#dfdffb"/>
<rect x="271.10" y="371.50" width="4.95" height="4.95" fill="#7070f1"/>
<rect x="290.70" y="371.50" width="4.95" height="4.95" fill="#dfdffb"/>
<rect x="300.50" y="371.50" width="19.65" height="4.95" fill="#fadcdc"/>
<rect x="329.90" y="371.50" width="4.95" height="4.95" fill="#dfdffb"/>
<rect x="344.60" y="371.50" width="4.95" height="4.95" fill="#dfdffb"/>
<rect x="369.10" y="371.50" width="4.95" height="4.95" fill="#dfdffb"/>
<rect x="423.00" y="371.50" width="4.95" height="4.95" fill="#fadcdc"/>
<rect x="427.90" y="371.50" width="4.95" height="4.95" fill="#f4aaaa"/>
<rect x="432.80" y="371.50" width="9.85" height="4.95" fill="#fadcdc"/>
<rect x="462.20" y="371.50" width="4.95" height="4.95" fill="#fadcdc"/>
<rect x="467.10" y="371.50" width="4.95" height="4.95" fill="#f4aaaa"/>
<rect x="506.30" y="371.50" width="4.95" height="4.95" fill="#dfdffb"/>
<rect x="516.10" y="371.50" width="9.85" height="4.95" fill="#afb0f5"/>
<rect x="65.30" y="376.40" width="4.95" height="4.95" fill="#fadcdc"/>
<rect x="75.10" y="376.40" width="9.85" height="4.95" fill="#dfdffb"/>
<rect x="84.90" y="376.40" width="4.95" height="4.95" fill="#7070f1"/>
<rect x="89.80" y="376.40" width="4.95" height="4.95" fill="#dfdffb"/>
<rect x="104.50" y="376.40" width="4.95" height="4.95" fill="#afb0f5"/>
<rect x="114.30" y="376.40" width="4.95" height="4.95" fill="#afb0f5"/>
<rect x="124.10" y="376.40" width="4.95" height="4.95" fill="#f4aaaa"/>
<rect x="133.90" y="376.40" width="4.95" height="4.95" fill="#f4aaaa"/>
<rect x="153.50" y="376.40" width="4.95" height="4.95" fill="#dfdffb"/>
<rect x="168.20" y="376.40" width="14.75" height="4.95" fill="#afb0f5"/>
<rect x="182.90" y="376.40" width="14.75" height="4.95" fill="#dfdffb"/>
<rect x="197.60" y="376.40" width="9.85" height="4.95" fill="#afb0f5"/>
<rect x="212.30" y="376.40" width="9.85" height="4.95" fill="#fadcdc"/>
<rect x="222.10" y="376.40" width="4.95" height="4.95" fill="#f4aaaa"/>
<rect x="227.00" y="376.40" width="4.95" height="4.95" fill="#fadcdc"/>
<rect x="241.70" y="376.40" width="4.95" height="4.95" fill="#afb0f5"/>
<rect x="256.40" y="376.40" width="4.95" height="4.95" fill="#dfdffb"/>
<rect x="290.70" y="376.40" width="4.95" height="4.95" fill="#dfdffb"/>
<rect x="300.50" y="376.40" width="9.85" height="4.95" fill="#fadcdc"/>
<rect x="310.30" y="376.40" width="4.95" height="4.95" fill="#f4aaaa"/>
<rect x="315.20" y="376.40" width="4.95" height="4.95" fill="#fadcdc"/>
<rect x="329.90" y="376.40" width="4.95" height="4.95" fill="#dfdffb"/>
<rect x="344.60" y="376.40" width="4.95" height="4.95" fill="#dfdffb"/>
<rect x="369.10" y="376.40" width="4.95" height="4.95" fill="#dfdffb"/>
<rect x="423.00" y="376.40" width="4.95" height="4.95" fill="#fadcdc"/>
<rect x="427.90" y="376.40" width="4.95" height="4.95" fill="#f4aaaa"/>
<rect x="437.70" y="376.40" width="4.95" height="4.95" fill="#f4aaaa"/>
<rect x="462.20" y="376.40" width="4.95" height="4.95" fill="#fadcdc"/>
<rect x="467.10" y="376.40" width="4.95" height="4.95" fill="#f4aaaa"/>
<rect x="506.30" y="376.40" width="9.85" height="4.95" fill="#dfdffb"/>
<rect x="516.10" y="376.40" width="4.95" height="4.95" fill="#afb0f5"/>
<rect x="521.00" y="376.40" width="4.95" height="4.95" fill="#dfdffb"/>
<rect x="75.10" y="381.30" width="4.95" height="4.95" fill="#dfdffb"/>
<rect x="80.00" y="381.30" width="4.95" height="4.95" fill="#fadcdc"/>
<rect x="84.90" y="381.30" width="9.85" height="4.95" fill="#dfdffb"/>
<rect x="99.60" y="381.30" width="9.85" height="4.95" fill="#dfdffb"/>
<rect x="114.30" y="381.30" width="4.95" height="4.95" fill="#dfdffb"/>
<rect x="124.10" y="381.30" width="9.85" height="4.95" fill="#f4aaaa"/>
<rect x="133.90" y="381.30" width="4.95" height="4.95" fill="#fadcdc"/>
<rect x="143.70" y="381.30" width="4.95" height="4.95" fill="#afb0f5"/>
<rect x="153.50" y="381.30" width="4.95" height="4.95" fill="#afb0f5"/>
<rect x="168.20" y="381.30" width="9.85" height="4.95" fill="#afb0f5"/>
<rect x="178.00" y="381.30" width="9.85" height="4.95" fill="#7070f1"/>
<rect x="187.80" y="381.30" width="19.65" height="4.95" fill="#dfdffb"/>
<rect x="212.30" y="381.30" width="14.75" height="4.95" fill="#fadcdc"/>
<rect x="241.70" y="381.30" width="4.95" height="4.95" fill="#afb0f5"/>
<rect x="290.70" y="381.30" width="4.95" height="4.95" fill="#dfdffb"/>
<rect x="300.50" y="381.30" width="9.85" height="4.95" fill="#fadcdc"/>
<rect x="310.30" y="381.30" width="4.95" height="4.95" fill="#f4aaaa"/>
<rect x="315.20" y="381.30" width="4.95" height="4.95" fill="#fadcdc"/>
<rect x="329.90" y="381.30" width="4.95" height="4.95" fill="#dfdffb"/>
<rect x="344.60" y="381.30" width="4.95" height="4.95" fill="#dfdffb"/>
<rect x="369.10" y="381.30" width="4.95" height="4.95" fill="#dfdffb"/>
<rect x="413.20" y="381.30" width="4.95" height="4.95" fill="#dfdffb"/>
<rect x="423.00" y="381.30" width="4.95" height="4.95" fill="#fadcdc"/>
<rect x="427.90" y="381.30" width="4.95" height="4.95" fill="#f4aaaa"/>
<rect x="442.60" y="381.30" width="4.95" height="4.95" fill="#fadcdc"/>
<rect x="462.20" y="381.30" width="9.85" height="4.95" fill="#fadcdc"/>
<rect x="506.30" y="381.30" width="19.65" height="4.95" fill="#dfdffb"/>
<rect x="75.10" y="386.20" width="4.95" height="4.95" fill="#dfdffb"/>
<rect x="80.00" y="386.20" width="9.85" height="4.95" fill="#fadcdc"/>
<rect x="94.70" y="386.20" width="9.85" height="4.95" fill="#afb0f5"/>
<rect x="104.50" y="386.20" width="4.95" height="4.95" fill="#1408f3"/>
<rect x="114.30" y="386.20" width="4.95" height="4.95" fill="#afb0f5"/>
<rect x="124.10" y="386.20" width="9.85" height="4.95" fill="#f4aaaa"/>
<rect x="133.90" y="386.20" width="4.95" height="4.95" fill="#fadcdc"/>
<rect x="143.70" y="386.20" width="4.95" height="4.95" fill="#dfdffb"/>
<rect x="153.50" y="386.20" width="4.95" height="4.95" fill="#dfdffb"/>
<rect x="173.10" y="386.20" width="14.75" height="4.95" fill="#dfdffb"/>
<rect x="202.50" y="386.20" width="4.95" height="4.95" fill="#dfdffb"/>
<rect x="212.30" y="386.20" width="19.65" height="4.95" fill="#f4aaaa"/>
<rect x="241.70" y="386.20" width="4.95" height="4.95" fill="#dfdffb"/>
<rect x="290.70" y="386.20" width="4.95" height="4.95" fill="#dfdffb"/>
<rect x="300.50" y="386.20" width="19.65" height="4.95" fill="#f4aaaa"/>
<rect x="329.90" y="386.20" width="4.95" height="4.95" fill="#dfdffb"/>
<rect x="349.50" y="386.20" width="19.65" height="4.95" fill="#dfdffb"/>
<rect x="427.90" y="386.20" width="4.95" height="4.95" fill="#f4aaaa"/>
<rect x="462.20" y="386.20" width="9.85" height="4.95" fill="#fadcdc"/>
<rect x="506.30" y="386.20" width="9.85" height="4.95" fill="#dfdffb"/>
<rect x="521.00" y="386.20" width="4.95" height="4.95" fill="#dfdffb"/>
<rect x="75.10" y="391.10" width="4.95" height="4.95" fill="#dfdffb"/>
<rect x="80.00" y="391.10" width="4.95" height="4.95" fill="#fadcdc"/>
<rect x="84.90" y="391.10" width="4.95" height="4.95" fill="#f4aaaa"/>
<rect x="94.70" y="391.10" width="9.85" height="4.95" fill="#dfdffb"/>
<rect x="104.50" y="391.10" width="4.95" height="4.95" fill="#1408f3"/>
<rect x="114.30" y="391.10" width="4.95" height="4.95" fill="#dfdffb"/>
<rect x="124.10" y="391.10" width="4.95" height="4.95" fill="#f4aaaa"/>
<rect x="129.00" y="391.10" width="14.75" height="4.95" fill="#fadcdc"/>
<rect x="173.10" y="391.10" width="4.95" height="4.95" fill="#afb0f5"/>
<rect x="178.00" y="391.10" width="4.95" height="4.95" fill="#7070f1"/>
<rect x="182.90" y="391.10" width="4.95" height="4.95" fill="#dfdffb"/>
<rect x="197.60" y="391.10" width="4.95" height="4.95" fill="#dfdffb"/>
<rect x="212.30" y="391.10" width="14.75" height="4.95" fill="#fadcdc"/>
<rect x="241.70" y="391.10" width="4.95" height="4.95" fill="#7070f1"/>
<rect x="290.70" y="391.10" width="4.95" height="4.95" fill="#dfdffb"/>
<rect x="300.50" y="391.10" width="19.65" height="4.95" fill="#fadcdc"/>
<rect x="329.90" y="391.10" width="4.95" height="4.95" fill="#afb0f5"/>
<rect x="378.90" y="391.10" width="4.95" height="4.95" fill="#dfdffb"/>
<rect x="403.40" y="391.10" width="4.95" height="4.95" fill="#dfdffb"/>
<rect x="427.90" y="391.10" width="4.95" height="4.95" fill="#f4aaaa"/>
<rect x="432.80" y="391.10" width="4.95" height="4.95" fill="#fadcdc"/>
<rect x="462.20" y="391.10" width="9.85" height="4.95" fill="#fadcdc"/>
<rect x="511.20" y="391.10" width="9.85" height="4.95" fill="#afb0f5"/>
<rect x="75.10" y="396.00" width="4.95" height="4.95" fill="#afb0f5"/>
<rect x="80.00" y="396.00" width="4.95" height="4.95" fill="#f4aaaa"/>
<rect x="84.90" y="396.00" width="4.95" height="4.95" fill="#fadcdc"/>
<rect x="89.80" y="396.00" width="4.95" height="4.95" fill="#dfdffb"/>
<rect x="94.70" y="396.00" width="9.85" height="4.95" fill="#fadcdc"/>
<rect x="104.50" y="396.00" width="4.95" height="4.95" fill="#afb0f5"/>
<rect x="114.30" y="396.00" width="4.95" height="4.95" fill="#afb0f5"/>
<rect x="124.10" y="396.00" width="9.85" height="4.95" fill="#f4aaaa"/>
<rect x="133.90" y="396.00" width="4.95" height="4.95" fill="#fadcdc"/>
<rect x="143.70" y="396.00" width="4.95" height="4.95" fill="#dfdffb"/>
<rect x="153.50" y="396.00" width="4.95" height="4.95" fill="#afb0f5"/>
<rect x="168.20" y="396.00" width="4.95" height="4.95" fill="#dfdffb"/>
<rect x="173.10" y="396.00" width="9.85" height="4.95" fill="#7070f1"/>
<rect x="182.90" y="396.00" width="24.55" height="4.95" fill="#dfdffb"/>
<rect x="212.30" y="396.00" width="19.65" height="4.95" fill="#fadcdc"/>
<rect x="241.70" y="396.00" width="4.95" height="4.95" fill="#afb0f5"/>
<rect x="261.30" y="396.00" width="9.85" height="4.95" fill="#dfdffb"/>
<rect x="271.10" y="396.00" width="14.75" height="4.95" fill="#fadcdc"/>
<rect x="300.50" y="396.00" width="4.95" height="4.95" fill="#fadcdc"/>
<rect x="305.40" y="396.00" width="9.85" height="4.95" fill="#f4aaaa"/>
<rect x="315.20" y="396.00" width="4.95" height="4.95" fill="#fadcdc"/>
<rect x="329.90" y="396.00" width="4.95" height="4.95" fill="#7070f1"/>
<rect x="374.00" y="396.00" width="4.95" height="4.95" fill="#dfdffb"/>
<rect x="418.10" y="396.00" width="4.95" height="4.95" fill="#dfdffb"/>
<rect x="427.90" y="396.00" width="4.95" height="4.95" fill="#f4aaaa"/>
<rect x="432.80" y="396.00" width="14.75" height="4.95" fill="#fadcdc"/>
<rect x="462.20" y="396.00" width="4.95" height="4.95" fill="#f4aaaa"/>
<rect x="467.10" y="396.00" width="4.95" height="4.95" fill="#fadcdc"/>
<rect x="506.30" y="396.00" width="4.95" height="4.95" fill="#dfdffb"/>
<rect x="511.20" y="396.00" width="4.95" height="4.95" fill="#afb0f5"/>
<rect x="516.10" y="396.00" width="4.95" height="4.95" fill="#7070f1"/>
<rect x="75.10" y="400.90" width="4.95" height="4.95" fill="#afb0f5"/>
<rect x="80.00" y="400.90" width="4.95" height="4.95" fill="#f4aaaa"/>
<rect x="84.90" y="400.90" width="4.95" height="4.95" fill="#fadcdc"/>
<rect x="89.80" y="400.90" width="4.95" height="4.95" fill="#dfdffb"/>
<rect x="94.70" y="400.90" width="9.85" height="4.95" fill="#fadcdc"/>
<rect x="104.50" y="400.90" width="4.95" height="4.95" fill="#afb0f5"/>
<rect x="114.30" y="400.90" width="4.95" height="4.95" fill="#afb0f5"/>
<rect x="124.10" y="400.90" width="9.85" height="4.95" fill="#f4aaaa"/>
<rect x="133.90" y="400.90" width="4.95" height="4.95" fill="#fadcdc"/>
<rect x="143.70" y="400.90" width="4.95" height="4.95" fill="#dfdffb"/>
<rect x="153.50" y="400.90" width="4.95" height="4.95" fill="#afb0f5"/>
<rect x="173.10" y="400.90" width="4.95" height="4.95" fill="#7070f1"/>
<rect x="178.00" y="400.90" width="4.95" height="4.95" fill="#afb0f5"/>
<rect x="182.90" y="400.90" width="24.55" height="4.95" fill="#dfdffb"/>
<rect x="212.30" y="400.90" width="19.65" height="4.95" fill="#fadcdc"/>
<rect x="241.70" y="400.90" width="4.95" height="4.95" fill="#afb0f5"/>
<rect x="256.40" y="400.90" width="9.85" height="4.95" fill="#dfdffb"/>
<rect x="271.10" y="400.90" width="14.75" height="4.95" fill="#fadcdc"/>
<rect x="300.50" y="400.90" width="4.95" height="4.95" fill="#fadcdc"/>
<rect x="305.40" y="400.90" width="9.85" height="4.95" fill="#f4aaaa"/>
<rect x="315.20" y="400.90" width="4.95" height="4.95" fill="#fadcdc"/>
<rect x="329.90" y="400.90" width="4.95" height="4.95" fill="#afb0f5"/>
<rect x="427.90" y="400.90" width="4.95" height="4.95" fill="#f4aaaa"/>
<rect x="432.80" y="400.90" width="14.75" height="4.95" fill="#fadcdc"/>
<rect x="462.20" y="400.90" width="4.95" height="4.95" fill="#f4aaaa"/>
<rect x="467.10" y="400.90" width="4.95" height="4.95" fill="#fadcdc"/>
<rect x="506.30" y="400.90" width="4.95" height="4.95" fill="#dfdffb"/>
<rect x="511.20" y="400.90" width="9.85" height="4.95" fill="#afb0f5"/>
<rect x="75.10" y="405.80" width="4.95" height="4.95" fill="#afb0f5"/>
<rect x="80.00" y="405.80" width="4.95" height="4.95" fill="#f4aaaa"/>
<rect x="84.90" y="405.80" width="4.95" height="4.95" fill="#fadcdc"/>
<rect x="89.80" y="405.80" width="4.95" height="4.95" fill="#dfdffb"/>
<rect x="94.70" y="405.80" width="9.85" height="4.95" fill="#fadcdc"/>
<rect x="104.50" y="405.80" width="4.95" height="4.95" fill="#afb0f5"/>
<rect x="114.30" y="405.80" width="4.95" height="4.95" fill="#afb0f5"/>
<rect x="124.10" y="405.80" width="9.85" height="4.95" fill="#f4aaaa"/>
<rect x="133.90" y="405.80" width="4.95" height="4.95" fill="#fadcdc"/>
<rect x="143.70" y="405.80" width="4.95" height="4.95" fill="#dfdffb"/>
<rect x="153.50" y="405.80" width="4.95" height="4.95" fill="#dfdffb"/>
<rect x="173.10" y="405.80" width="9.85" height="4.95" fill="#afb0f5"/>
<rect x="182.90" y="405.80" width="14.75" height="4.95" fill="#dfdffb"/>
<rect x="202.50" y="405.80" width="4.95" height="4.95" fill="#dfdffb"/>
<rect x="212.30" y="405.80" width="14.75" height="4.95" fill="#fadcdc"/>
<rect x="231.90" y="405.80" width="4.95" height="4.95" fill="#fadcdc"/>
<rect x="241.70" y="405.80" width="4.95" height="4.95" fill="#afb0f5"/>
<rect x="256.40" y="405.80" width="9.85" height="4.95" fill="#dfdffb"/>
<rect x="271.10" y="405.80" width="4.95" height="4.95" fill="#fadcdc"/>
<rect x="280.90" y="405.80" width="4.95" height="4.95" fill="#fadcdc"/>
<rect x="300.50" y="405.80" width="4.95" height="4.95" fill="#fadcdc"/>
<rect x="305.40" y="405.80" width="9.85" height="4.95" fill="#f4aaaa"/>
<rect x="315.20" y="405.80" width="4.95" height="4.95" fill="#fadcdc"/>
<rect x="329.90" y="405.80" width="4.95" height="4.95" fill="#dfdffb"/>
<rect x="427.90" y="405.80" width="4.95" height="4.95" fill="#f4aaaa"/>
<rect x="432.80" y="405.80" width="14.75" height="4.95" fill="#fadcdc"/>
<rect x="462.20" y="405.80" width="4.95" height="4.95" fill="#f4aaaa"/>
<rect x="467.10" y="405.80" width="4.95" height="4.95" fill="#fadcdc"/>
<rect x="506.30" y="405.80" width="4.95" height="4.95" fill="#dfdffb"/>
<rect x="511.20" y="405.80" width="9.85" height="4.95" fill="#afb0f5"/>
<rect x="75.10" y="410.70" width="4.95" height="4.95" fill="#dfdffb"/>
<rect x="80.00" y="410.70" width="4.95" height="4.95" fill="#f4aaaa"/>
<rect x="84.90" y="410.70" width="4.95" height="4.95" fill="#fadcdc"/>
<rect x="89.80" y="410.70" width="4.95" height="4.95" fill="#dfdffb"/>
<rect x="94.70" y="410.70" width="4.95" height="4.95" fill="#f4aaaa"/>
<rect x="99.60" y="410.70" width="4.95" height="4.95" fill="#fadcdc"/>
<rect x="104.50" y="410.70" width="4.95" height="4.95" fill="#7070f1"/>
<rect x="114.30" y="410.70" width="4.95" height="4.95" fill="#dfdffb"/>
<rect x="124.10" y="410.70" width="9.85" height="4.95" fill="#f4aaaa"/>
<rect x="133.90" y="410.70" width="4.95" height="4.95" fill="#fadcdc"/>
<rect x="143.70" y="410.70" width="4.95" height="4.95" fill="#dfdffb"/>
<rect x="153.50" y="410.70" width="4.95" height="4.95" fill="#afb0f5"/>
<rect x="173.10" y="410.70" width="9.85" height="4.95" fill="#afb0f5"/>
<rect x="182.90" y="410.70" width="14.75" height="4.95" fill="#dfdffb"/>
<rect x="202.50" y="410.70" width="4.95" height="4.95" fill="#dfdffb"/>
<rect x="212.30" y="410.70" width="14.75" height="4.95" fill="#fadcdc"/>
<rect x="231.90" y="410.70" width="4.95" height="4.95" fill="#fadcdc"/>
<rect x="241.70" y="410.70" width="4.95" height="4.95" fill="#afb0f5"/>
<rect x="256.40" y="410.70" width="4.95" height="4.95" fill="#dfdffb"/>
<rect x="271.10" y="410.70" width="4.95" height="4.95" fill="#fadcdc"/>
<rect x="280.90" y="410.70" width="4.95" height="4.95" fill="#fadcdc"/>
<rect x="300.50" y="410.70" width="4.95" height="4.95" fill="#fadcdc"/>
<rect x="305.40" y="410.70" width="9.85" height="4.95" fill="#f4aaaa"/>
<rect x="315.20" y="410.70" width="4.95" height="4.95" fill="#fadcdc"/>
<rect x="329.90" y="410.70" width="4.95" height="4.95" fill="#dfdffb"/>
<rect x="344.60" y="410.70" width="4.95" height="4.95" fill="#dfdffb"/>
<rect x="369.10" y="410.70" width="4.95" height="4.95" fill="#dfdffb"/>
<rect x="427.90" y="410.70" width="4.95" height="4.95" fill="#f4aaaa"/>
<rect x="442.60" y="410.70" width="4.95" height="4.95" fill="#fadcdc"/>
<rect x="462.20" y="410.70" width="4.95" height="4.95" fill="#f4aaaa"/>
<rect x="467.10" y="410.70" width="4.95" height="4.95" fill="#fadcdc"/>
<rect x="506.30" y="410.70" width="9.85" height="4.95" fill="#dfdffb"/>
<rect x="516.10" y="410.70" width="4.95" height="4.95" fill="#afb0f5"/>
<rect x="75.10" y="415.60" width="4.95" height="4.95" fill="#dfdffb"/>
<rect x="80.00" y="415.60" width="4.95" height="4.95" fill="#f4aaaa"/>
<rect x="84.90" y="415.60" width="4.95" height="4.95" fill="#fadcdc"/>
<rect x="89.80" y="415.60" width="4.95" height="4.95" fill="#dfdffb"/>
<rect x="94.70" y="415.60" width="4.95" height="4.95" fill="#f4aaaa"/>
<rect x="104.50" y="415.60" width="4.95" height="4.95" fill="#1408f3"/>
<rect x="114.30" y="415.60" width="4.95" height="4.95" fill="#dfdffb"/>
<rect x="124.10" y="415.60" width="9.85" height="4.95" fill="#f4aaaa"/>
<rect x="133.90" y="415.60" width="4.95" height="4.95" fill="#fadcdc"/>
<rect x="143.70" y="415.60" width="4.95" height="4.95" fill="#dfdffb"/>
<rect x="153.50" y="415.60" width="4.95" height="4.95" fill="#dfdffb"/>
<rect x="173.10" y="415.60" width="4.95" height="4.95" fill="#7070f1"/>
<rect x="178.00" y="415.60" width="4.95" height="4.95" fill="#afb0f5"/>
<rect x="182.90" y="415.60" width="14.75" height="4.95" fill="#dfdffb"/>
<rect x="202.50" y="415.60" width="4.95" height="4.95" fill="#dfdffb"/>
<rect x="212.30" y="415.60" width="14.75" height="4.95" fill="#fadcdc"/>
<rect x="241.70" y="415.60" width="4.95" height="4.95" fill="#afb0f5"/>
<rect x="271.10" y="415.60" width="4.95" height="4.95" fill="#fadcdc"/>
<rect x="280.90" y="415.60" width="9.85" height="4.95" fill="#fadcdc"/>
<rect x="300.50" y="415.60" width="4.95" height="4.95" fill="#fadcdc"/>
<rect x="305.40" y="415.60" width="9.85" height="4.95" fill="#f4aaaa"/>
<rect x="315.20" y="415.60" width="4.95" height="4.95" fill="#fadcdc"/>
<rect x="329.90" y="415.60" width="4.95" height="4.95" fill="#dfdffb"/>
<rect x="344.60" y="415.60" width="4.95" height="4.95" fill="#dfdffb"/>
<rect x="369.10" y="415.60" width="4.95" height="4.95" fill="#dfdffb"/>
<rect x="427.90" y="415.60" width="4.95" height="4.95" fill="#f4aaaa"/>
<rect x="442.60" y="415.60" width="4.95" height="4.95" fill="#fadcdc"/>
<rect x="462.20" y="415.60" width="4.95" height="4.95" fill="#f4aaaa"/>
<rect x="467.10" y="415.60" width="4.95" height="4.95" fill="#fadcdc"/>
<rect x="506.30" y="415.60" width="9.85" height="4.95" fill="#dfdffb"/>
<rect x="516.10" y="415.60" width="4.95" height="4.95" fill="#afb0f5"/>
<rect x="75.10" y="420.50" width="4.95" height="4.95" fill="#dfdffb"/>
<rect x="80.00" y="420.50" width="4.95" height="4.95" fill="#f4aaaa"/>
<rect x="84.90" y="420.50" width="19.65" height="4.95" fill="#fadcdc"/>
<rect x="104.50" y="420.50" width="4.95" height="4.95" fill="#1408f3"/>
<rect x="114.30" y="420.50" width="4.95" height="4.95" fill="#dfdffb"/>
<rect x="124.10" y="420.50" width="9.85" height="4.95" fill="#f4aaaa"/>
<rect x="133.90" y="420.50" width="4.95" height="4.95" fill="#fadcdc"/>
<rect x="143.70" y="420.50" width="4.95" height="4.95" fill="#dfdffb"/>
<rect x="168.20" y="420.50" width="14.75" height="4.95" fill="#dfdffb"/>
<rect x="212.30" y="420.50" width="9.85" height="4.95" fill="#fadcdc"/>
<rect x="222.10" y="420.50" width="4.95" height="4.95" fill="#f4aaaa"/>
<rect x="227.00" y="420.50" width="4.95" height="4.95" fill="#fadcdc"/>
<rect x="300.50" y="420.50" width="14.75" height="4.95" fill="#fadcdc"/>
<rect x="315.20" y="420.50" width="4.95" height="4.95" fill="#f4aaaa"/>
<rect x="339.70" y="420.50" width="34.35" height="4.95" fill="#fadcdc"/>
<rect x="374.00" y="420.50" width="4.95" height="4.95" fill="#afb0f5"/>
<rect x="378.90" y="420.50" width="29.45" height="4.95" fill="#fadcdc"/>
<rect x="423.00" y="420.50" width="4.95" height="4.95" fill="#fadcdc"/>
<rect x="427.90" y="420.50" width="4.95" height="4.95" fill="#f4aaaa"/>
<rect x="432.80" y="420.50" width="14.75" height="4.95" fill="#fadcdc"/>
<rect x="462.20" y="420.50" width="4.95" height="4.95" fill="#f4aaaa"/>
<rect x="467.10" y="420.50" width="4.95" height="4.95" fill="#fadcdc"/>
<rect x="506.30" y="420.50" width="14.75" height="4.95" fill="#dfdffb"/>
<rect x="75.10" y="425.40" width="4.95" height="4.95" fill="#dfdffb"/>
<rect x="80.00" y="425.40" width="19.65" height="4.95" fill="#fadcdc"/>
<rect x="104.50" y="425.40" width="4.95" height="4.95" fill="#afb0f5"/>
<rect x="124.10" y="425.40" width="9.85" height="4.95" fill="#f4aaaa"/>
<rect x="133.90" y="425.40" width="4.95" height="4.95" fill="#fadcdc"/>
<rect x="153.50" y="425.40" width="4.95" height="4.95" fill="#fadcdc"/>
<rect x="173.10" y="425.40" width="4.95" height="4.95" fill="#afb0f5"/>
<rect x="178.00" y="425.40" width="4.95" height="4.95" fill="#dfdffb"/>
<rect x="212.30" y="425.40" width="9.85" height="4.95" fill="#fadcdc"/>
<rect x="222.10" y="425.40" width="14.75" height="4.95" fill="#dfdffb"/>
<rect x="266.20" y="425.40" width="19.65" height="4.95" fill="#fadcdc"/>
<rect x="305.40" y="425.40" width="9.85" height="4.95" fill="#fadcdc"/>
<rect x="329.90" y="425.40" width="4.95" height="4.95" fill="#fadcdc"/>
<rect x="418.10" y="425.40" width="9.85" height="4.95" fill="#dfdffb"/>
<rect x="427.90" y="425.40" width="4.95" height="4.95" fill="#f4aaaa"/>
<rect x="432.80" y="425.40" width="9.85" height="4.95" fill="#fadcdc"/>
<rect x="462.20" y="425.40" width="9.85" height="4.95" fill="#dfdffb"/>
<rect x="506.30" y="425.40" width="4.95" height="4.95" fill="#dfdffb"/>
<rect x="511.20" y="425.40" width="4.95" height="4.95" fill="#afb0f5"/>
<rect x="516.10" y="425.40" width="4.95" height="4.95" fill="#dfdffb"/>
<rect x="80.00" y="430.30" width="4.95" height="4.95" fill="#fadcdc"/>
<rect x="84.90" y="430.30" width="9.85" height="4.95" fill="#f4aaaa"/>
<rect x="94.70" y="430.30" width="4.95" height="4.95" fill="#fadcdc"/>
<rect x="124.10" y="430.30" width="9.85" height="4.95" fill="#f4aaaa"/>
<rect x="138.80" y="430.30" width="4.95" height="4.95" fill="#afb0f5"/>
<rect x="163.30" y="430.30" width="9.85" height="4.95" fill="#fadcdc"/>
<rect x="178.00" y="430.30" width="4.95" height="4.95" fill="#fadcdc"/>
<rect x="197.60" y="430.30" width="4.95" height="4.95" fill="#fadcdc"/>
<rect x="217.20" y="430.30" width="4.95" height="4.95" fill="#fadcdc"/>
<rect x="222.10" y="430.30" width="9.85" height="4.95" fill="#afb0f5"/>
<rect x="231.90" y="430.30" width="4.95" height="4.95" fill="#dfdffb"/>
<rect x="241.70" y="430.30" width="4.95" height="4.95" fill="#f4aaaa"/>
<rect x="271.10" y="430.30" width="4.95" height="4.95" fill="#f4aaaa"/>
<rect x="276.00" y="430.30" width="4.95" height="4.95" fill="#ee6c6c"/>
<rect x="280.90" y="430.30" width="4.95" height="4.95" fill="#fadcdc"/>
<rect x="310.30" y="430.30" width="9.85" height="4.95" fill="#afb0f5"/>
<rect x="320.10" y="430.30" width="4.95" height="4.95" fill="#dfdffb"/>
<rect x="329.90" y="430.30" width="4.95" height="4.95" fill="#ee6c6c"/>
<rect x="349.50" y="430.30" width="14.75" height="4.95" fill="#dfdffb"/>
<rect x="418.10" y="430.30" width="4.95" height="4.95" fill="#fadcdc"/>
<rect x="423.00" y="430.30" width="19.65" height="4.95" fill="#f4aaaa"/>
<rect x="442.60" y="430.30" width="4.95" height="4.95" fill="#fadcdc"/>
<rect x="467.10" y="430.30" width="4.95" height="4.95" fill="#afb0f5"/>
<rect x="501.40" y="430.30" width="4.95" height="4.95" fill="#dfdffb"/>
<rect x="511.20" y="430.30" width="4.95" height="4.95" fill="#afb0f5"/>
<rect x="516.10" y="430.30" width="4.95" height="4.95" fill="#1408f3"/>
<rect x="521.00" y="430.30" width="4.95" height="4.95" fill="#dfdffb"/>
<rect x="80.00" y="435.20" width="9.85" height="4.95" fill="#fadcdc"/>
<rect x="104.50" y="435.20" width="4.95" height="4.95" fill="#f4aaaa"/>
<rect x="114.30" y="435.20" width="4.95" height="4.95" fill="#fadcdc"/>
<rect x="124.10" y="435.20" width="4.95" height="4.95" fill="#ee6c6c"/>
<rect x="129.00" y="435.20" width="4.95" height="4.95" fill="#f4aaaa"/>
<rect x="138.80" y="435.20" width="4.95" height="4.95" fill="#afb0f5"/>
<rect x="153.50" y="435.20" width="4.95" height="4.95" fill="#fadcdc"/>
<rect x="163.30" y="435.20" width="14.75" height="4.95" fill="#fadcdc"/>
<rect x="182.90" y="435.20" width="4.95" height="4.95" fill="#fadcdc"/>
<rect x="192.70" y="435.20" width="9.85" height="4.95" fill="#fadcdc"/>
<rect x="217.20" y="435.20" width="4.95" height="4.95" fill="#fadcdc"/>
<rect x="222.10" y="435.20" width="9.85" height="4.95" fill="#afb0f5"/>
<rect x="231.90" y="435.20" width="4.95" height="4.95" fill="#dfdffb"/>
<rect x="271.10" y="435.20" width="4.95" height="4.95" fill="#f4aaaa"/>
<rect x="280.90" y="435.20" width="4.95" height="4.95" fill="#fadcdc"/>
<rect x="305.40" y="435.20" width="4.95" height="4.95" fill="#dfdffb"/>
<rect x="310.30" y="435.20" width="9.85" height="4.95" fill="#afb0f5"/>
<rect x="320.10" y="435.20" width="4.95" height="4.95" fill="#dfdffb"/>
<rect x="349.50" y="435.20" width="4.95" height="4.95" fill="#fadcdc"/>
<rect x="378.90" y="435.20" width="4.95" height="4.95" fill="#dfdffb"/>
<rect x="437.70" y="435.20" width="4.95" height="4.95" fill="#f4aaaa"/>
<rect x="457.30" y="435.20" width="4.95" height="4.95" fill="#dfdffb"/>
<rect x="467.10" y="435.20" width="4.95" height="4.95" fill="#dfdffb"/>
<rect x="501.40" y="435.20" width="9.85" height="4.95" fill="#afb0f5"/>
<rect x="511.20" y="435.20" width="9.85" height="4.95" fill="#7070f1"/>
<rect x="521.00" y="435.20" width="4.95" height="4.95" fill="#dfdffb"/>
<rect x="80.00" y="440.10" width="4.95" height="4.95" fill="#f4aaaa"/>
<rect x="89.80" y="440.10" width="4.95" height="4.95" fill="#dfdffb"/>
<rect x="94.70" y="440.10" width="9.85" height="4.95" fill="#afb0f5"/>
<rect x="104.50" y="440.10" width="4.95" height="4.95" fill="#ee6c6c"/>
<rect x="124.10" y="440.10" width="4.95" height="4.95" fill="#ee6c6c"/>
<rect x="129.00" y="440.10" width="4.95" height="4.95" fill="#f4aaaa"/>
<rect x="133.90" y="440.10" width="4.95" height="4.95" fill="#fadcdc"/>
<rect x="143.70" y="440.10" width="4.95" height="4.95" fill="#f4aaaa"/>
<rect x="163.30" y="440.10" width="14.75" height="4.95" fill="#fadcdc"/>
<rect x="182.90" y="440.10" width="4.95" height="4.95" fill="#fadcdc"/>
<rect x="202.50" y="440.10" width="4.95" height="4.95" fill="#f4aaaa"/>
<rect x="212.30" y="440.10" width="9.85" height="4.95" fill="#fadcdc"/>
<rect x="222.10" y="440.10" width="4.95" height="4.95" fill="#dfdffb"/>
<rect x="231.90" y="440.10" width="4.95" height="4.95" fill="#dfdffb"/>
<rect x="251.50" y="440.10" width="9.85" height="4.95" fill="#f4aaaa"/>
<rect x="271.10" y="440.10" width="4.95" height="4.95" fill="#fadcdc"/>
<rect x="285.80" y="440.10" width="4.95" height="4.95" fill="#dfdffb"/>
<rect x="290.70" y="440.10" width="4.95" height="4.95" fill="#fadcdc"/>
<rect x="300.50" y="440.10" width="14.75" height="4.95" fill="#afb0f5"/>
<rect x="315.20" y="440.10" width="4.95" height="4.95" fill="#fadcdc"/>
<rect x="320.10" y="440.10" width="4.95" height="4.95" fill="#dfdffb"/>
<rect x="339.70" y="440.10" width="4.95" height="4.95" fill="#fadcdc"/>
<rect x="349.50" y="440.10" width="29.45" height="4.95" fill="#fadcdc"/>
<rect x="408.30" y="440.10" width="9.85" height="4.95" fill="#fadcdc"/>
<rect x="437.70" y="440.10" width="4.95" height="4.95" fill="#f4aaaa"/>
<rect x="447.50" y="440.10" width="9.85" height="4.95" fill="#dfdffb"/>
<rect x="462.20" y="440.10" width="4.95" height="4.95" fill="#7070f1"/>
<rect x="496.50" y="440.10" width="4.95" height="4.95" fill="#dfdffb"/>
<rect x="501.40" y="440.10" width="14.75" height="4.95" fill="#7070f1"/>
<rect x="516.10" y="440.10" width="4.95" height="4.95" fill="#1408f3"/>
<rect x="521.00" y="440.10" width="4.95" height="4.95" fill="#afb0f5"/>
<rect x="80.00" y="445.00" width="9.85" height="4.95" fill="#f4aaaa"/>
<rect x="94.70" y="445.00" width="4.95" height="4.95" fill="#7070f1"/>
<rect x="99.60" y="445.00" width="4.95" height="4.95" fill="#fadcdc"/>
<rect x="104.50" y="445.00" width="4.95" height="4.95" fill="#f01a1a"/>
<rect x="124.10" y="445.00" width="9.85" height="4.95" fill="#ee6c6c"/>
<rect x="133.90" y="445.00" width="4.95" height="4.95" fill="#fadcdc"/>
<rect x="153.50" y="445.00" width="4.95" height="4.95" fill="#afb0f5"/>
<rect x="163.30" y="445.00" width="14.75" height="4.95" fill="#f4aaaa"/>
<rect x="182.90" y="445.00" width="4.95" height="4.95" fill="#fadcdc"/>
<rect x="202.50" y="445.00" width="4.95" height="4.95" fill="#f4aaaa"/>
<rect x="212.30" y="445.00" width="4.95" height="4.95" fill="#f4aaaa"/>
<rect x="217.20" y="445.00" width="4.95" height="4.95" fill="#fadcdc"/>
<rect x="241.70" y="445.00" width="4.95" height="4.95" fill="#afb0f5"/>
<rect x="251.50" y="445.00" width="9.85" height="4.95" fill="#f4aaaa"/>
<rect x="300.50" y="445.00" width="9.85" height="4.95" fill="#afb0f5"/>
<rect x="310.30" y="445.00" width="4.95" height="4.95" fill="#dfdffb"/>
<rect x="320.10" y="445.00" width="4.95" height="4.95" fill="#afb0f5"/>
<rect x="329.90" y="445.00" width="4.95" height="4.95" fill="#7070f1"/>
<rect x="339.70" y="445.00" width="4.95" height="4.95" fill="#fadcdc"/>
<rect x="349.50" y="445.00" width="53.95" height="4.95" fill="#f4aaaa"/>
<rect x="403.40" y="445.00" width="4.95" height="4.95" fill="#fadcdc"/>
<rect x="408.30" y="445.00" width="9.85" height="4.95" fill="#f4aaaa"/>
<rect x="447.50" y="445.00" width="4.95" height="4.95" fill="#dfdffb"/>
<rect x="452.40" y="445.00" width="4.95" height="4.95" fill="#afb0f5"/>
<rect x="457.30" y="445.00" width="9.85" height="4.95" fill="#7070f1"/>
<rect x="501.40" y="445.00" width="4.95" height="4.95" fill="#dfdffb"/>
<rect x="511.20" y="445.00" width="4.95" height="4.95" fill="#afb0f5"/>
<rect x="516.10" y="445.00" width="4.95" height="4.95" fill="#7070f1"/>
<rect x="521.00" y="445.00" width="4.95" height="4.95" fill="#dfdffb"/>
<rect x="65.30" y="449.90" width="4.95" height="4.95" fill="#dfdffb"/>
<rect x="80.00" y="449.90" width="4.95" height="4.95" fill="#ee6c6c"/>
<rect x="84.90" y="449.90" width="4.95" height="4.95" fill="#fadcdc"/>
<rect x="94.70" y="449.90" width="4.95" height="4.95" fill="#7070f1"/>
<rect x="99.60" y="449.90" width="4.95" height="4.95" fill="#fadcdc"/>
<rect x="104.50" y="449.90" width="4.95" height="4.95" fill="#ee6c6c"/>
<rect x="124.10" y="449.90" width="4.95" height="4.95" fill="#f01a1a"/>
<rect x="129.00" y="449.90" width="9.85" height="4.95" fill="#ee6c6c"/>
<rect x="138.80" y="449.90" width="4.95" height="4.95" fill="#fadcdc"/>
<rect x="143.70" y="449.90" width="4.95" height="4.95" fill="#afb0f5"/>
<rect x="153.50" y="449.90" width="4.95" height="4.95" fill="#dfdffb"/>
<rect x="163.30" y="449.90" width="4.95" height="4.95" fill="#f4aaaa"/>
<rect x="168.20" y="449.90" width="4.95" height="4.95" fill="#ee6c6c"/>
<rect x="173.10" y="449.90" width="4.95" height="4.95" fill="#f4aaaa"/>
<rect x="202.50" y="449.90" width="4.95" height="4.95" fill="#fadcdc"/>
<rect x="212.30" y="449.90" width="9.85" height="4.95" fill="#ee6c6c"/>
<rect x="222.10" y="449.90" width="4.95" height="4.95" fill="#fadcdc"/>
<rect x="251.50" y="449.90" width="4.95" height="4.95" fill="#fadcdc"/>
<rect x="266.20" y="449.90" width="4.95" height="4.95" fill="#dfdffb"/>
<rect x="280.90" y="449.90" width="4.95" height="4.95" fill="#afb0f5"/>
<rect x="300.50" y="449.90" width="14.75" height="4.95" fill="#fadcdc"/>
<rect x="329.90" y="449.90" width="4.95" height="4.95" fill="#1408f3"/>
<rect x="339.70" y="449.90" width="4.95" height="4.95" fill="#fadcdc"/>
<rect x="349.50" y="449.90" width="58.85" height="4.95" fill="#fadcdc"/>
<rect x="408.30" y="449.90" width="4.95" height="4.95" fill="#f4aaaa"/>
<rect x="413.20" y="449.90" width="4.95" height="4.95" fill="#fadcdc"/>
<rect x="447.50" y="449.90" width="4.95" height="4.95" fill="#afb0f5"/>
<rect x="452.40" y="449.90" width="4.95" height="4.95" fill="#dfdffb"/>
<rect x="457.30" y="449.90" width="4.95" height="4.95" fill="#1408f3"/>
<rect x="462.20" y="449.90" width="4.95" height="4.95" fill="#afb0f5"/>
<rect x="496.50" y="449.90" width="4.95" height="4.95" fill="#dfdffb"/>
<rect x="511.20" y="449.90" width="9.85" height="4.95" fill="#afb0f5"/>
<rect x="80.00" y="454.80" width="4.95" height="4.95" fill="#ee6c6c"/>
<rect x="84.90" y="454.80" width="4.95" height="4.95" fill="#dfdffb"/>
<rect x="89.80" y="454.80" width="4.95" height="4.95" fill="#afb0f5"/>
<rect x="94.70" y="454.80" width="4.95" height="4.95" fill="#dfdffb"/>
<rect x="99.60" y="454.80" width="4.95" height="4.95" fill="#fadcdc"/>
<rect x="104.50" y="454.80" width="4.95" height="4.95" fill="#f01a1a"/>
<rect x="124.10" y="454.80" width="4.95" height="4.95" fill="#f01a1a"/>
<rect x="129.00" y="454.80" width="4.95" height="4.95" fill="#ee6c6c"/>
<rect x="133.90" y="454.80" width="4.95" height="4.95" fill="#f01a1a"/>
<rect x="138.80" y="454.80" width="4.95" height="4.95" fill="#ee6c6c"/>
<rect x="153.50" y="454.80" width="4.95" height="4.95" fill="#1408f3"/>
<rect x="163.30" y="454.80" width="14.75" height="4.95" fill="#f4aaaa"/>
<rect x="192.70" y="454.80" width="4.95" height="4.95" fill="#dfdffb"/>
<rect x="207.40" y="454.80" width="4.95" height="4.95" fill="#f4aaaa"/>
<rect x="212.30" y="454.80" width="14.75" height="4.95" fill="#ee6c6c"/>
<rect x="227.00" y="454.80" width="4.95" height="4.95" fill="#f4aaaa"/>
<rect x="241.70" y="454.80" width="4.95" height="4.95" fill="#1408f3"/>
<rect x="256.40" y="454.80" width="19.65" height="4.95" fill="#fadcdc"/>
<rect x="295.60" y="454.80" width="4.95" height="4.95" fill="#fadcdc"/>
<rect x="300.50" y="454.80" width="9.85" height="4.95" fill="#ee6c6c"/>
<rect x="310.30" y="454.80" width="4.95" height="4.95" fill="#f01a1a"/>
<rect x="315.20" y="454.80" width="4.95" height="4.95" fill="#ee6c6c"/>
<rect x="329.90" y="454.80" width="4.95" height="4.95" fill="#dfdffb"/>
<rect x="359.30" y="454.80" width="4.95" height="4.95" fill="#fadcdc"/>
<rect x="369.10" y="454.80" width="39.25" height="4.95" fill="#fadcdc"/>
<rect x="408.30" y="454.80" width="14.75" height="4.95" fill="#f4aaaa"/>
<rect x="423.00" y="454.80" width="4.95" height="4.95" fill="#fadcdc"/>
<rect x="447.50" y="454.80" width="4.95" height="4.95" fill="#dfdffb"/>
<rect x="457.30" y="454.80" width="4.95" height="4.95" fill="#afb0f5"/>
<rect x="467.10" y="454.80" width="4.95" height="4.95" fill="#fadcdc"/>
<rect x="506.30" y="454.80" width="4.95" height="4.95" fill="#ee6c6c"/>
<rect x="511.20" y="454.80" width="4.95" height="4.95" fill="#dfdffb"/>
<rect x="516.10" y="454.80" width="4.95" height="4.95" fill="#afb0f5"/>
<rect x="80.00" y="459.70" width="4.95" height="4.95" fill="#ee6c6c"/>
<rect x="84.90" y="459.70" width="4.95" height="4.95" fill="#fadcdc"/>
<rect x="89.80" y="459.70" width="4.95" height="4.95" fill="#1408f3"/>
<rect x="94.70" y="459.70" width="4.95" height="4.95" fill="#dfdffb"/>
<rect x="104.50" y="459.70" width="4.95" height="4.95" fill="#f01a1a"/>
<rect x="124.10" y="459.70" width="24.55" height="4.95" fill="#ee6c6c"/>
<rect x="163.30" y="459.70" width="4.95" height="4.95" fill="#fadcdc"/>
<rect x="173.10" y="459.70" width="9.85" height="4.95" fill="#fadcdc"/>
<rect x="182.90" y="459.70" width="4.95" height="4.95" fill="#f4aaaa"/>
<rect x="207.40" y="459.70" width="4.95" height="4.95" fill="#f4aaaa"/>
<rect x="212.30" y="459.70" width="4.95" height="4.95" fill="#ee6c6c"/>
<rect x="217.20" y="459.70" width="4.95" height="4.95" fill="#f4aaaa"/>
<rect x="222.10" y="459.70" width="9.85" height="4.95" fill="#ee6c6c"/>
<rect x="231.90" y="459.70" width="4.95" height="4.95" fill="#f4aaaa"/>
<rect x="276.00" y="459.70" width="4.95" height="4.95" fill="#afb0f5"/>
<rect x="300.50" y="459.70" width="19.65" height="4.95" fill="#ee6c6c"/>
<rect x="329.90" y="459.70" width="4.95" height="4.95" fill="#dfdffb"/>
<rect x="378.90" y="459.70" width="29.45" height="4.95" fill="#fadcdc"/>
<rect x="413.20" y="459.70" width="4.95" height="4.95" fill="#fadcdc"/>
<rect x="452.40" y="459.70" width="4.95" height="4.95" fill="#fadcdc"/>
<rect x="462.20" y="459.70" width="9.85" height="4.95" fill="#fadcdc"/>
<rect x="506.30" y="459.70" width="4.95" height="4.95" fill="#f4aaaa"/>
<rect x="516.10" y="459.70" width="4.95" height="4.95" fill="#dfdffb"/>
<rect x="75.10" y="464.60" width="4.95" height="4.95" fill="#fadcdc"/>
<rect x="80.00" y="464.60" width="4.95" height="4.95" fill="#f4aaaa"/>
<rect x="84.90" y="464.60" width="4.95" height="4.95" fill="#dfdffb"/>
<rect x="89.80" y="464.60" width="4.95" height="4.95" fill="#afb0f5"/>
<rect x="94.70" y="464.60" width="9.85" height="4.95" fill="#dfdffb"/>
<rect x="124.10" y="464.60" width="4.95" height="4.95" fill="#ee6c6c"/>
<rect x="129.00" y="464.60" width="4.95" height="4.95" fill="#f4aaaa"/>
<rect x="133.90" y="464.60" width="4.95" height="4.95" fill="#ee6c6c"/>
<rect x="138.80" y="464.60" width="4.95" height="4.95" fill="#f4aaaa"/>
<rect x="168.20" y="464.60" width="4.95" height="4.95" fill="#dfdffb"/>
<rect x="178.00" y="464.60" width="4.95" height="4.95" fill="#fadcdc"/>
<rect x="182.90" y="464.60" width="4.95" height="4.95" fill="#f4aaaa"/>
<rect x="212.30" y="464.60" width="14.75" height="4.95" fill="#fadcdc"/>
<rect x="276.00" y="464.60" width="4.95" height="4.95" fill="#afb0f5"/>
<rect x="300.50" y="464.60" width="14.75" height="4.95" fill="#fadcdc"/>
<rect x="344.60" y="464.60" width="4.95" height="4.95" fill="#afb0f5"/>
<rect x="378.90" y="464.60" width="24.55" height="4.95" fill="#fadcdc"/>
<rect x="423.00" y="464.60" width="4.95" height="4.95" fill="#dfdffb"/>
<rect x="432.80" y="464.60" width="4.95" height="4.95" fill="#afb0f5"/>
<rect x="437.70" y="464.60" width="4.95" height="4.95" fill="#dfdffb"/>
<rect x="511.20" y="464.60" width="4.95" height="4.95" fill="#dfdffb"/>
<rect x="65.30" y="469.50" width="4.95" height="4.95" fill="#dfdffb"/>
<rect x="75.10" y="469.50" width="9.85" height="4.95" fill="#fadcdc"/>
<rect x="84.90" y="469.50" width="4.95" height="4.95" fill="#dfdffb"/>
<rect x="99.60" y="469.50" width="4.95" height="4.95" fill="#dfdffb"/>
<rect x="124.10" y="469.50" width="4.95" height="4.95" fill="#fadcdc"/>
<rect x="129.00" y="469.50" width="4.95" height="4.95" fill="#f4aaaa"/>
<rect x="133.90" y="469.50" width="4.95" height="4.95" fill="#fadcdc"/>
<rect x="138.80" y="469.50" width="4.95" height="4.95" fill="#f4aaaa"/>
<rect x="182.90" y="469.50" width="4.95" height="4.95" fill="#fadcdc"/>
<rect x="197.60" y="469.50" width="4.95" height="4.95" fill="#f4aaaa"/>
<rect x="202.50" y="469.50" width="4.95" height="4.95" fill="#afb0f5"/>
<rect x="212.30" y="469.50" width="4.95" height="4.95" fill="#fadcdc"/>
<rect x="222.10" y="469.50" width="4.95" height="4.95" fill="#dfdffb"/>
<rect x="280.90" y="469.50" width="4.95" height="4.95" fill="#f4aaaa"/>
<rect x="285.80" y="469.50" width="4.95" height="4.95" fill="#fadcdc"/>
<rect x="305.40" y="469.50" width="4.95" height="4.95" fill="#fadcdc"/>
<rect x="315.20" y="469.50" width="4.95" height="4.95" fill="#fadcdc"/>
<rect x="344.60" y="469.50" width="4.95" height="4.95" fill="#dfdffb"/>
<rect x="427.90" y="469.50" width="4.95" height="4.95" fill="#dfdffb"/>
<rect x="432.80" y="469.50" width="9.85" height="4.95" fill="#afb0f5"/>
<rect x="442.60" y="469.50" width="4.95" height="4.95" fill="#dfdffb"/>
<rect x="447.50" y="469.50" width="4.95" height="4.95" fill="#fadcdc"/>
<rect x="511.20" y="469.50" width="4.95" height="4.95" fill="#fadcdc"/>
<rect x="65.30" y="474.40" width="4.95" height="4.95" fill="#dfdffb"/>
<rect x="75.10" y="474.40" width="4.95" height="4.95" fill="#fadcdc"/>
<rect x="80.00" y="474.40" width="4.95" height="4.95" fill="#dfdffb"/>
<rect x="84.90" y="474.40" width="9.85" height="4.95" fill="#fadcdc"/>
<rect x="94.70" y="474.40" width="4.95" height="4.95" fill="#dfdffb"/>
<rect x="99.60" y="474.40" width="9.85" height="4.95" fill="#fadcdc"/>
<rect x="124.10" y="474.40" width="9.85" height="4.95" fill="#dfdffb"/>
<rect x="133.90" y="474.40" width="4.95" height="4.95" fill="#f4aaaa"/>
<rect x="138.80" y="474.40" width="9.85" height="4.95" fill="#fadcdc"/>
<rect x="153.50" y="474.40" width="4.95" height="4.95" fill="#fadcdc"/>
<rect x="163.30" y="474.40" width="4.95" height="4.95" fill="#fadcdc"/>
<rect x="173.10" y="474.40" width="4.95" height="4.95" fill="#fadcdc"/>
<rect x="192.70" y="474.40" width="9.85" height="4.95" fill="#fadcdc"/>
<rect x="202.50" y="474.40" width="4.95" height="4.95" fill="#dfdffb"/>
<rect x="222.10" y="474.40" width="14.75" height="4.95" fill="#fadcdc"/>
<rect x="241.70" y="474.40" width="4.95" height="4.95" fill="#fadcdc"/>
<rect x="251.50" y="474.40" width="9.85" height="4.95" fill="#fadcdc"/>
<rect x="261.30" y="474.40" width="4.95" height="4.95" fill="#f4aaaa"/>
<rect x="266.20" y="474.40" width="4.95" height="4.95" fill="#fadcdc"/>
<rect x="271.10" y="474.40" width="9.85" height="4.95" fill="#dfdffb"/>
<rect x="280.90" y="474.40" width="9.85" height="4.95" fill="#f4aaaa"/>
<rect x="305.40" y="474.40" width="4.95" height="4.95" fill="#fadcdc"/>
<rect x="315.20" y="474.40" width="9.85" height="4.95" fill="#fadcdc"/>
<rect x="329.90" y="474.40" width="4.95" height="4.95" fill="#fadcdc"/>
<rect x="339.70" y="474.40" width="4.95" height="4.95" fill="#fadcdc"/>
<rect x="349.50" y="474.40" width="58.85" height="4.95" fill="#fadcdc"/>
<rect x="423.00" y="474.40" width="4.95" height="4.95" fill="#dfdffb"/>
<rect x="427.90" y="474.40" width="4.95" height="4.95" fill="#afb0f5"/>
<rect x="432.80" y="474.40" width="4.95" height="4.95" fill="#7070f1"/>
<rect x="437.70" y="474.40" width="4.95" height="4.95" fill="#dfdffb"/>
<rect x="496.50" y="474.40" width="4.95" height="4.95" fill="#dfdffb"/>
<rect x="511.20" y="474.40" width="4.95" height="4.95" fill="#fadcdc"/>
<rect x="516.10" y="474.40" width="4.95" height="4.95" fill="#f4aaaa"/>
<rect x="75.10" y="479.30" width="4.95" height="4.95" fill="#f4aaaa"/>
<rect x="80.00" y="479.30" width="4.95" height="4.95" fill="#dfdffb"/>
<rect x="89.80" y="479.30" width="4.95" height="4.95" fill="#fadcdc"/>
<rect x="94.70" y="479.30" width="4.95" height="4.95" fill="#afb0f5"/>
<rect x="104.50" y="479.30" width="4.95" height="4.95" fill="#ee6c6c"/>
<rect x="114.30" y="479.30" width="4.95" height="4.95" fill="#fadcdc"/>
<rect x="124.10" y="479.30" width="9.85" height="4.95" fill="#dfdffb"/>
<rect x="133.90" y="479.30" width="14.75" height="4.95" fill="#fadcdc"/>
<rect x="153.50" y="479.30" width="14.75" height="4.95" fill="#fadcdc"/>
<rect x="178.00" y="479.30" width="9.85" height="4.95" fill="#fadcdc"/>
<rect x="197.60" y="479.30" width="4.95" height="4.95" fill="#fadcdc"/>
<rect x="202.50" y="479.30" width="4.95" height="4.95" fill="#dfdffb"/>
<rect x="217.20" y="479.30" width="4.95" height="4.95" fill="#dfdffb"/>
<rect x="227.00" y="479.30" width="9.85" height="4.95" fill="#fadcdc"/>
<rect x="241.70" y="479.30" width="4.95" height="4.95" fill="#fadcdc"/>
<rect x="251.50" y="479.30" width="4.95" height="4.95" fill="#fadcdc"/>
<rect x="261.30" y="479.30" width="9.85" height="4.95" fill="#fadcdc"/>
<rect x="271.10" y="479.30" width="4.95" height="4.95" fill="#dfdffb"/>
<rect x="280.90" y="479.30" width="9.85" height="4.95" fill="#f4aaaa"/>
<rect x="310.30" y="479.30" width="4.95" height="4.95" fill="#dfdffb"/>
<rect x="315.20" y="479.30" width="4.95" height="4.95" fill="#fadcdc"/>
<rect x="320.10" y="479.30" width="4.95" height="4.95" fill="#f4aaaa"/>
<rect x="329.90" y="479.30" width="4.95" height="4.95" fill="#f4aaaa"/>
<rect x="339.70" y="479.30" width="4.95" height="4.95" fill="#fadcdc"/>
<rect x="349.50" y="479.30" width="14.75" height="4.95" fill="#fadcdc"/>
<rect x="369.10" y="479.30" width="9.85" height="4.95" fill="#fadcdc"/>
<rect x="378.90" y="479.30" width="24.55" height="4.95" fill="#f4aaaa"/>
<rect x="403.40" y="479.30" width="4.95" height="4.95" fill="#fadcdc"/>
<rect x="413.20" y="479.30" width="4.95" height="4.95" fill="#dfdffb"/>
<rect x="423.00" y="479.30" width="4.95" height="4.95" fill="#afb0f5"/>
<rect x="427.90" y="479.30" width="4.95" height="4.95" fill="#7070f1"/>
<rect x="432.80" y="479.30" width="4.95" height="4.95" fill="#dfdffb"/>
<rect x="442.60" y="479.30" width="4.95" height="4.95" fill="#fadcdc"/>
<rect x="496.50" y="479.30" width="4.95" height="4.95" fill="#f4aaaa"/>
<rect x="501.40" y="479.30" width="4.95" height="4.95" fill="#dfdffb"/>
<rect x="506.30" y="479.30" width="4.95" height="4.95" fill="#afb0f5"/>
<rect x="511.20" y="479.30" width="4.95" height="4.95" fill="#fadcdc"/>
<rect x="75.10" y="484.20" width="4.95" height="4.95" fill="#f4aaaa"/>
<rect x="80.00" y="484.20" width="4.95" height="4.95" fill="#dfdffb"/>
<rect x="84.90" y="484.20" width="9.85" height="4.95" fill="#afb0f5"/>
<rect x="94.70" y="484.20" width="4.95" height="4.95" fill="#7070f1"/>
<rect x="99.60" y="484.20" width="4.95" height="4.95" fill="#fadcdc"/>
<rect x="104.50" y="484.20" width="4.95" height="4.95" fill="#f01a1a"/>
<rect x="114.30" y="484.20" width="4.95" height="4.95" fill="#fadcdc"/>
<rect x="124.10" y="484.20" width="4.95" height="4.95" fill="#dfdffb"/>
<rect x="129.00" y="484.20" width="14.75" height="4.95" fill="#fadcdc"/>
<rect x="143.70" y="484.20" width="4.95" height="4.95" fill="#ee6c6c"/>
<rect x="153.50" y="484.20" width="9.85" height="4.95" fill="#fadcdc"/>
<rect x="197.60" y="484.20" width="4.95" height="4.95" fill="#fadcdc"/>
<rect x="227.00" y="484.20" width="4.95" height="4.95" fill="#fadcdc"/>
<rect x="231.90" y="484.20" width="4.95" height="4.95" fill="#f4aaaa"/>
<rect x="241.70" y="484.20" width="4.95" height="4.95" fill="#f4aaaa"/>
<rect x="266.20" y="484.20" width="4.95" height="4.95" fill="#dfdffb"/>
<rect x="280.90" y="484.20" width="9.85" height="4.95" fill="#f4aaaa"/>
<rect x="290.70" y="484.20" width="4.95" height="4.95" fill="#fadcdc"/>
<rect x="315.20" y="484.20" width="4.95" height="4.95" fill="#fadcdc"/>
<rect x="320.10" y="484.20" width="4.95" height="4.95" fill="#f4aaaa"/>
<rect x="329.90" y="484.20" width="4.95" height="4.95" fill="#f4aaaa"/>
<rect x="339.70" y="484.20" width="4.95" height="4.95" fill="#f4aaaa"/>
<rect x="344.60" y="484.20" width="4.95" height="4.95" fill="#fadcdc"/>
<rect x="349.50" y="484.20" width="29.45" height="4.95" fill="#f4aaaa"/>
<rect x="378.90" y="484.20" width="29.45" height="4.95" fill="#fadcdc"/>
<rect x="413.20" y="484.20" width="4.95" height="4.95" fill="#afb0f5"/>
<rect x="418.10" y="484.20" width="9.85" height="4.95" fill="#dfdffb"/>
<rect x="437.70" y="484.20" width="9.85" height="4.95" fill="#fadcdc"/>
<rect x="75.10" y="513.60" width="9.85" height="4.95" fill="#dfdffb"/>
<rect x="84.90" y="513.60" width="4.95" height="4.95" fill="#1408f3"/>
<rect x="89.80" y="513.60" width="4.95" height="4.95" fill="#afb0f5"/>
<rect x="99.60" y="513.60" width="9.85" height="4.95" fill="#fadcdc"/>
<rect x="114.30" y="513.60" width="4.95" height="4.95" fill="#dfdffb"/>
<rect x="124.10" y="513.60" width="4.95" height="4.95" fill="#f4aaaa"/>
<rect x="129.00" y="513.60" width="19.65" height="4.95" fill="#fadcdc"/>
<rect x="153.50" y="513.60" width="4.95" height="4.95" fill="#afb0f5"/>
<rect x="173.10" y="513.60" width="9.85" height="4.95" fill="#dfdffb"/>
<rect x="197.60" y="513.60" width="4.95" height="4.95" fill="#dfdffb"/>
<rect x="202.50" y="513.60" width="4.95" height="4.95" fill="#afb0f5"/>
<rect x="212.30" y="513.60" width="9.85" height="4.95" fill="#fadcdc"/>
<rect x="222.10" y="513.60" width="4.95" height="4.95" fill="#f4aaaa"/>
<rect x="231.90" y="513.60" width="4.95" height="4.95" fill="#f4aaaa"/>
<rect x="241.70" y="513.60" width="4.95" height="4.95" fill="#afb0f5"/>
<rect x="256.40" y="513.60" width="9.85" height="4.95" fill="#fadcdc"/>
<rect x="266.20" y="513.60" width="4.95" height="4.95" fill="#afb0f5"/>
<rect x="271.10" y="513.60" width="9.85" height="4.95" fill="#dfdffb"/>
<rect x="290.70" y="513.60" width="4.95" height="4.95" fill="#afb0f5"/>
<rect x="300.50" y="513.60" width="9.85" height="4.95" fill="#fadcdc"/>
<rect x="310.30" y="513.60" width="4.95" height="4.95" fill="#ee6c6c"/>
<rect x="315.20" y="513.60" width="4.95" height="4.95" fill="#fadcdc"/>
<rect x="329.90" y="513.60" width="4.95" height="4.95" fill="#afb0f5"/>
<rect x="339.70" y="513.60" width="4.95" height="4.95" fill="#fadcdc"/>
<rect x="423.00" y="513.60" width="4.95" height="4.95" fill="#dfdffb"/>
<rect x="432.80" y="513.60" width="4.95" height="4.95" fill="#dfdffb"/>
<rect x="457.30" y="513.60" width="4.95" height="4.95" fill="#dfdffb"/>
<rect x="467.10" y="513.60" width="4.95" height="4.95" fill="#fadcdc"/>
<rect x="506.30" y="513.60" width="4.95" height="4.95" fill="#fadcdc"/>
<rect x="511.20" y="513.60" width="4.95" height="4.95" fill="#f4aaaa"/>
<rect x="516.10" y="513.60" width="4.95" height="4.95" fill="#dfdffb"/>
<rect x="75.10" y="518.50" width="4.95" height="4.95" fill="#afb0f5"/>
<rect x="80.00" y="518.50" width="4.95" height="4.95" fill="#fadcdc"/>
<rect x="89.80" y="518.50" width="4.95" height="4.95" fill="#afb0f5"/>
<rect x="94.70" y="518.50" width="4.95" height="4.95" fill="#fadcdc"/>
<rect x="99.60" y="518.50" width="4.95" height="4.95" fill="#f4aaaa"/>
<rect x="104.50" y="518.50" width="4.95" height="4.95" fill="#fadcdc"/>
<rect x="114.30" y="518.50" width="4.95" height="4.95" fill="#dfdffb"/>
<rect x="124.10" y="518.50" width="9.85" height="4.95" fill="#fadcdc"/>
<rect x="143.70" y="518.50" width="4.95" height="4.95" fill="#fadcdc"/>
<rect x="168.20" y="518.50" width="4.95" height="4.95" fill="#dfdffb"/>
<rect x="173.10" y="518.50" width="9.85" height="4.95" fill="#7070f1"/>
<rect x="182.90" y="518.50" width="4.95" height="4.95" fill="#afb0f5"/>
<rect x="187.80" y="518.50" width="4.95" height="4.95" fill="#dfdffb"/>
<rect x="202.50" y="518.50" width="4.95" height="4.95" fill="#dfdffb"/>
<rect x="256.40" y="518.50" width="14.75" height="4.95" fill="#dfdffb"/>
<rect x="290.70" y="518.50" width="4.95" height="4.95" fill="#afb0f5"/>
<rect x="315.20" y="518.50" width="4.95" height="4.95" fill="#dfdffb"/>
<rect x="329.90" y="518.50" width="4.95" height="4.95" fill="#dfdffb"/>
<rect x="413.20" y="518.50" width="9.85" height="4.95" fill="#dfdffb"/>
<rect x="423.00" y="518.50" width="4.95" height="4.95" fill="#afb0f5"/>
<rect x="457.30" y="518.50" width="9.85" height="4.95" fill="#fadcdc"/>
<rect x="467.10" y="518.50" width="4.95" height="4.95" fill="#dfdffb"/>
<rect x="496.50" y="518.50" width="4.95" height="4.95" fill="#dfdffb"/>
<rect x="506.30" y="518.50" width="14.75" height="4.95" fill="#dfdffb"/>
<rect x="75.10" y="523.40" width="4.95" height="4.95" fill="#fadcdc"/>
<rect x="80.00" y="523.40" width="4.95" height="4.95" fill="#dfdffb"/>
<rect x="84.90" y="523.40" width="4.95" height="4.95" fill="#afb0f5"/>
<rect x="94.70" y="523.40" width="9.85" height="4.95" fill="#f4aaaa"/>
<rect x="104.50" y="523.40" width="4.95" height="4.95" fill="#1408f3"/>
<rect x="114.30" y="523.40" width="4.95" height="4.95" fill="#fadcdc"/>
<rect x="124.10" y="523.40" width="9.85" height="4.95" fill="#fadcdc"/>
<rect x="133.90" y="523.40" width="4.95" height="4.95" fill="#dfdffb"/>
<rect x="138.80" y="523.40" width="4.95" height="4.95" fill="#afb0f5"/>
<rect x="143.70" y="523.40" width="4.95" height="4.95" fill="#f01a1a"/>
<rect x="153.50" y="523.40" width="4.95" height="4.95" fill="#fadcdc"/>
<rect x="173.10" y="523.40" width="14.75" height="4.95" fill="#afb0f5"/>
<rect x="192.70" y="523.40" width="4.95" height="4.95" fill="#fadcdc"/>
<rect x="202.50" y="523.40" width="4.95" height="4.95" fill="#dfdffb"/>
<rect x="212.30" y="523.40" width="9.85" height="4.95" fill="#fadcdc"/>
<rect x="227.00" y="523.40" width="4.95" height="4.95" fill="#afb0f5"/>
<rect x="231.90" y="523.40" width="4.95" height="4.95" fill="#f01a1a"/>
<rect x="251.50" y="523.40" width="4.95" height="4.95" fill="#dfdffb"/>
<rect x="266.20" y="523.40" width="4.95" height="4.95" fill="#dfdffb"/>
<rect x="271.10" y="523.40" width="4.95" height="4.95" fill="#afb0f5"/>
<rect x="280.90" y="523.40" width="4.95" height="4.95" fill="#f01a1a"/>
<rect x="285.80" y="523.40" width="4.95" height="4.95" fill="#fadcdc"/>
<rect x="305.40" y="523.40" width="4.95" height="4.95" fill="#f4aaaa"/>
<rect x="315.20" y="523.40" width="4.95" height="4.95" fill="#7070f1"/>
<rect x="320.10" y="523.40" width="4.95" height="4.95" fill="#dfdffb"/>
<rect x="329.90" y="523.40" width="4.95" height="4.95" fill="#afb0f5"/>
<rect x="349.50" y="523.40" width="19.65" height="4.95" fill="#dfdffb"/>
<rect x="374.00" y="523.40" width="4.95" height="4.95" fill="#dfdffb"/>
<rect x="383.80" y="523.40" width="14.75" height="4.95" fill="#dfdffb"/>
<rect x="418.10" y="523.40" width="4.95" height="4.95" fill="#dfdffb"/>
<rect x="423.00" y="523.40" width="4.95" height="4.95" fill="#afb0f5"/>
<rect x="427.90" y="523.40" width="4.95" height="4.95" fill="#dfdffb"/>
<rect x="437.70" y="523.40" width="9.85" height="4.95" fill="#ee6c6c"/>
<rect x="457.30" y="523.40" width="4.95" height="4.95" fill="#fadcdc"/>
<rect x="462.20" y="523.40" width="9.85" height="4.95" fill="#dfdffb"/>
<rect x="496.50" y="523.40" width="4.95" height="4.95" fill="#fadcdc"/>
<rect x="501.40" y="523.40" width="9.85" height="4.95" fill="#dfdffb"/>
<rect x="516.10" y="523.40" width="4.95" height="4.95" fill="#afb0f5"/>
<rect x="75.10" y="528.30" width="9.85" height="4.95" fill="#fadcdc"/>
<rect x="89.80" y="528.30" width="4.95" height="4.95" fill="#7070f1"/>
<rect x="94.70" y="528.30" width="9.85" height="4.95" fill="#fadcdc"/>
<rect x="104.50" y="528.30" width="4.95" height="4.95" fill="#f01a1a"/>
<rect x="114.30" y="528.30" width="4.95" height="4.95" fill="#f4aaaa"/>
<rect x="124.10" y="528.30" width="4.95" height="4.95" fill="#fadcdc"/>
<rect x="129.00" y="528.30" width="4.95" height="4.95" fill="#f4aaaa"/>
<rect x="133.90" y="528.30" width="4.95" height="4.95" fill="#afb0f5"/>
<rect x="138.80" y="528.30" width="4.95" height="4.95" fill="#dfdffb"/>
<rect x="143.70" y="528.30" width="4.95" height="4.95" fill="#ee6c6c"/>
<rect x="168.20" y="528.30" width="4.95" height="4.95" fill="#fadcdc"/>
<rect x="173.10" y="528.30" width="9.85" height="4.95" fill="#1408f3"/>
<rect x="182.90" y="528.30" width="4.95" height="4.95" fill="#afb0f5"/>
<rect x="187.80" y="528.30" width="19.65" height="4.95" fill="#dfdffb"/>
<rect x="222.10" y="528.30" width="9.85" height="4.95" fill="#afb0f5"/>
<rect x="251.50" y="528.30" width="4.95" height="4.95" fill="#dfdffb"/>
<rect x="261.30" y="528.30" width="9.85" height="4.95" fill="#dfdffb"/>
<rect x="271.10" y="528.30" width="4.95" height="4.95" fill="#afb0f5"/>
<rect x="280.90" y="528.30" width="4.95" height="4.95" fill="#fadcdc"/>
<rect x="290.70" y="528.30" width="4.95" height="4.95" fill="#fadcdc"/>
<rect x="300.50" y="528.30" width="4.95" height="4.95" fill="#fadcdc"/>
<rect x="310.30" y="528.30" width="9.85" height="4.95" fill="#afb0f5"/>
<rect x="329.90" y="528.30" width="4.95" height="4.95" fill="#fadcdc"/>
<rect x="349.50" y="528.30" width="4.95" height="4.95" fill="#dfdffb"/>
<rect x="364.20" y="528.30" width="14.75" height="4.95" fill="#dfdffb"/>
<rect x="378.90" y="528.30" width="4.95" height="4.95" fill="#afb0f5"/>
<rect x="383.80" y="528.30" width="19.65" height="4.95" fill="#dfdffb"/>
<rect x="413.20" y="528.30" width="4.95" height="4.95" fill="#afb0f5"/>
<rect x="418.10" y="528.30" width="9.85" height="4.95" fill="#7070f1"/>
<rect x="427.90" y="528.30" width="4.95" height="4.95" fill="#dfdffb"/>
<rect x="432.80" y="528.30" width="4.95" height="4.95" fill="#afb0f5"/>
<rect x="457.30" y="528.30" width="9.85" height="4.95" fill="#fadcdc"/>
<rect x="496.50" y="528.30" width="4.95" height="4.95" fill="#fadcdc"/>
<rect x="501.40" y="528.30" width="4.95" height="4.95" fill="#dfdffb"/>
<rect x="511.20" y="528.30" width="4.95" height="4.95" fill="#afb0f5"/>
<rect x="521.00" y="528.30" width="4.95" height="4.95" fill="#dfdffb"/>
<rect x="65.30" y="533.20" width="4.95" height="4.95" fill="#dfdffb"/>
<rect x="75.10" y="533.20" width="4.95" height="4.95" fill="#f4aaaa"/>
<rect x="80.00" y="533.20" width="4.95" height="4.95" fill="#dfdffb"/>
<rect x="89.80" y="533.20" width="4.95" height="4.95" fill="#7070f1"/>
<rect x="94.70" y="533.20" width="4.95" height="4.95" fill="#fadcdc"/>
<rect x="104.50" y="533.20" width="4.95" height="4.95" fill="#f01a1a"/>
<rect x="114.30" y="533.20" width="4.95" height="4.95" fill="#fadcdc"/>
<rect x="124.10" y="533.20" width="4.95" height="4.95" fill="#f4aaaa"/>
<rect x="129.00" y="533.20" width="4.95" height="4.95" fill="#fadcdc"/>
<rect x="133.90" y="533.20" width="4.95" height="4.95" fill="#dfdffb"/>
<rect x="138.80" y="533.20" width="4.95" height="4.95" fill="#fadcdc"/>
<rect x="143.70" y="533.20" width="4.95" height="4.95" fill="#dfdffb"/>
<rect x="153.50" y="533.20" width="4.95" height="4.95" fill="#fadcdc"/>
<rect x="163.30" y="533.20" width="4.95" height="4.95" fill="#dfdffb"/>
<rect x="173.10" y="533.20" width="9.85" height="4.95" fill="#7070f1"/>
<rect x="182.90" y="533.20" width="14.75" height="4.95" fill="#afb0f5"/>
<rect x="197.60" y="533.20" width="4.95" height="4.95" fill="#7070f1"/>
<rect x="202.50" y="533.20" width="4.95" height="4.95" fill="#dfdffb"/>
<rect x="217.20" y="533.20" width="4.95" height="4.95" fill="#dfdffb"/>
<rect x="241.70" y="533.20" width="4.95" height="4.95" fill="#fadcdc"/>
<rect x="251.50" y="533.20" width="4.95" height="4.95" fill="#dfdffb"/>
<rect x="261.30" y="533.20" width="4.95" height="4.95" fill="#7070f1"/>
<rect x="266.20" y="533.20" width="4.95" height="4.95" fill="#1408f3"/>
<rect x="271.10" y="533.20" width="4.95" height="4.95" fill="#afb0f5"/>
<rect x="276.00" y="533.20" width="4.95" height="4.95" fill="#dfdffb"/>
<rect x="290.70" y="533.20" width="4.95" height="4.95" fill="#fadcdc"/>
<rect x="300.50" y="533.20" width="9.85" height="4.95" fill="#fadcdc"/>
<rect x="320.10" y="533.20" width="4.95" height="4.95" fill="#fadcdc"/>
<rect x="329.90" y="533.20" width="4.95" height="4.95" fill="#f4aaaa"/>
<rect x="339.70" y="533.20" width="4.95" height="4.95" fill="#ee6c6c"/>
<rect x="349.50" y="533.20" width="19.65" height="4.95" fill="#dfdffb"/>
<rect x="374.00" y="533.20" width="4.95" height="4.95" fill="#dfdffb"/>
<rect x="378.90" y="533.20" width="4.95" height="4.95" fill="#7070f1"/>
<rect x="383.80" y="533.20" width="19.65" height="4.95" fill="#afb0f5"/>
<rect x="403.40" y="533.20" width="4.95" height="4.95" fill="#dfdffb"/>
<rect x="413.20" y="533.20" width="4.95" height="4.95" fill="#1408f3"/>
<rect x="418.10" y="533.20" width="4.95" height="4.95" fill="#7070f1"/>
<rect x="423.00" y="533.20" width="4.95" height="4.95" fill="#1408f3"/>
<rect x="427.90" y="533.20" width="4.95" height="4.95" fill="#7070f1"/>
<rect x="432.80" y="533.20" width="9.85" height="4.95" fill="#afb0f5"/>
<rect x="501.40" y="533.20" width="14.75" height="4.95" fill="#dfdffb"/>
<rect x="65.30" y="538.10" width="4.95" height="4.95" fill="#dfdffb"/>
<rect x="75.10" y="538.10" width="4.95" height="4.95" fill="#fadcdc"/>
<rect x="80.00" y="538.10" width="4.95" height="4.95" fill="#dfdffb"/>
<rect x="89.80" y="538.10" width="4.95" height="4.95" fill="#afb0f5"/>
<rect x="94.70" y="538.10" width="9.85" height="4.95" fill="#fadcdc"/>
<rect x="124.10" y="538.10" width="19.65" height="4.95" fill="#fadcdc"/>
<rect x="143.70" y="538.10" width="4.95" height="4.95" fill="#dfdffb"/>
<rect x="173.10" y="538.10" width="34.35" height="4.95" fill="#afb0f5"/>
<rect x="212.30" y="538.10" width="4.95" height="4.95" fill="#fadcdc"/>
<rect x="227.00" y="538.10" width="4.95" height="4.95" fill="#fadcdc"/>
<rect x="241.70" y="538.10" width="4.95" height="4.95" fill="#dfdffb"/>
<rect x="251.50" y="538.10" width="4.95" height="4.95" fill="#afb0f5"/>
<rect x="261.30" y="538.10" width="4.95" height="4.95" fill="#afb0f5"/>
<rect x="266.20" y="538.10" width="4.95" height="4.95" fill="#7070f1"/>
<rect x="271.10" y="538.10" width="9.85" height="4.95" fill="#dfdffb"/>
<rect x="290.70" y="538.10" width="4.95" height="4.95" fill="#afb0f5"/>
<rect x="300.50" y="538.10" width="24.55" height="4.95" fill="#fadcdc"/>
<rect x="329.90" y="538.10" width="4.95" height="4.95" fill="#dfdffb"/>
<rect x="349.50" y="538.10" width="9.85" height="4.95" fill="#afb0f5"/>
<rect x="359.30" y="538.10" width="44.15" height="4.95" fill="#dfdffb"/>
<rect x="413.20" y="538.10" width="9.85" height="4.95" fill="#dfdffb"/>
<rect x="423.00" y="538.10" width="9.85" height="4.95" fill="#afb0f5"/>
<rect x="432.80" y="538.10" width="14.75" height="4.95" fill="#dfdffb"/></g>
<rect x="69.90" y="81.60" width="5.50" height="461.40000000000003" fill="#000"/>
<rect x="64.80" y="87.10" width="461.10" height="5.30" fill="#000"/>
<rect x="109.10" y="81.60" width="5.50" height="461.40000000000003" fill="#000"/>
<rect x="64.80" y="126.30" width="461.10" height="5.30" fill="#000"/>
<rect x="148.30" y="81.60" width="5.50" height="461.40000000000003" fill="#000"/>
<rect x="64.80" y="165.50" width="461.10" height="5.30" fill="#000"/>
<rect x="236.50" y="81.60" width="5.50" height="461.40000000000003" fill="#000"/>
<rect x="64.80" y="253.70" width="461.10" height="5.30" fill="#000"/>
<rect x="324.70" y="81.60" width="5.50" height="461.40000000000003" fill="#000"/>
<rect x="64.80" y="341.90" width="461.10" height="5.30" fill="#000"/>
<rect x="471.70" y="81.40" width="25.10" height="461.6" fill="#000"/>
<rect x="64.30" y="488.80" width="461.60" height="25.10" fill="#000"/>
<line x1="65.3" y1="82.4" x2="525.9" y2="543.0" stroke="#1d5e2a" stroke-width="2" stroke-dasharray="11.5 5.8"/>
<line x1="75.10" y1="63.40" x2="75.10" y2="543.00" stroke="#28712f" stroke-width="1.7"/>
<line x1="65.30" y1="92.20" x2="542.30" y2="92.20" stroke="#28712f" stroke-width="1.7"/>
<line x1="84.90" y1="63.40" x2="84.90" y2="543.00" stroke="#28712f" stroke-width="1.7"/>
<line x1="65.30" y1="102.00" x2="542.30" y2="102.00" stroke="#28712f" stroke-width="1.7"/>
<line x1="114.30" y1="63.40" x2="114.30" y2="543.00" stroke="#28712f" stroke-width="1.7"/>
<line x1="65.30" y1="131.40" x2="542.30" y2="131.40" stroke="#28712f" stroke-width="1.7"/>
<line x1="124.10" y1="63.40" x2="124.10" y2="543.00" stroke="#28712f" stroke-width="1.7"/>
<line x1="65.30" y1="141.20" x2="542.30" y2="141.20" stroke="#28712f" stroke-width="1.7"/>
<line x1="153.50" y1="63.40" x2="153.50" y2="543.00" stroke="#28712f" stroke-width="1.7"/>
<line x1="65.30" y1="170.60" x2="542.30" y2="170.60" stroke="#28712f" stroke-width="1.7"/>
<line x1="163.30" y1="63.40" x2="163.30" y2="543.00" stroke="#28712f" stroke-width="1.7"/>
<line x1="65.30" y1="180.40" x2="542.30" y2="180.40" stroke="#28712f" stroke-width="1.7"/>
<line x1="212.30" y1="63.40" x2="212.30" y2="543.00" stroke="#28712f" stroke-width="1.7"/>
<line x1="65.30" y1="229.40" x2="542.30" y2="229.40" stroke="#28712f" stroke-width="1.7"/>
<line x1="241.70" y1="63.40" x2="241.70" y2="543.00" stroke="#28712f" stroke-width="1.7"/>
<line x1="65.30" y1="258.80" x2="542.30" y2="258.80" stroke="#28712f" stroke-width="1.7"/>
<line x1="251.50" y1="63.40" x2="251.50" y2="543.00" stroke="#28712f" stroke-width="1.7"/>
<line x1="65.30" y1="268.60" x2="542.30" y2="268.60" stroke="#28712f" stroke-width="1.7"/>
<line x1="300.50" y1="63.40" x2="300.50" y2="543.00" stroke="#28712f" stroke-width="1.7"/>
<line x1="65.30" y1="317.60" x2="542.30" y2="317.60" stroke="#28712f" stroke-width="1.7"/>
<line x1="329.90" y1="63.40" x2="329.90" y2="543.00" stroke="#28712f" stroke-width="1.7"/>
<line x1="65.30" y1="347.00" x2="542.30" y2="347.00" stroke="#28712f" stroke-width="1.7"/>
<line x1="339.70" y1="63.40" x2="339.70" y2="543.00" stroke="#28712f" stroke-width="1.7"/>
<line x1="65.30" y1="356.80" x2="542.30" y2="356.80" stroke="#28712f" stroke-width="1.7"/>
<line x1="408.30" y1="63.40" x2="408.30" y2="543.00" stroke="#28712f" stroke-width="1.7"/>
<line x1="65.30" y1="425.40" x2="542.30" y2="425.40" stroke="#28712f" stroke-width="1.7"/>
<line x1="457.30" y1="63.40" x2="457.30" y2="543.00" stroke="#28712f" stroke-width="1.7"/>
<line x1="65.30" y1="474.40" x2="542.30" y2="474.40" stroke="#28712f" stroke-width="1.7"/>
<line x1="486.70" y1="63.40" x2="486.70" y2="543.00" stroke="#28712f" stroke-width="1.7"/>
<line x1="65.30" y1="503.80" x2="542.30" y2="503.80" stroke="#28712f" stroke-width="1.7"/>
<line x1="496.50" y1="63.40" x2="496.50" y2="543.00" stroke="#28712f" stroke-width="1.7"/>
<line x1="65.30" y1="513.60" x2="542.30" y2="513.60" stroke="#28712f" stroke-width="1.7"/>
<line x1="67.75" y1="544.00" x2="67.75" y2="547.50" stroke="#333" stroke-width="0.9"/>
<line x1="61.80" y1="84.85" x2="64.30" y2="84.85" stroke="#333" stroke-width="0.9"/>
<text x="67.75" y="566.60" text-anchor="middle" font-family="'Liberation Sans', Arial, sans-serif" font-size="16.6" fill="#1a1a1a">1</text>
<text x="52.80" y="90.25" text-anchor="end" font-family="'Liberation Sans', Arial, sans-serif" font-size="16.6" fill="#1a1a1a">1</text>
<line x1="87.35" y1="544.00" x2="87.35" y2="547.50" stroke="#333" stroke-width="0.9"/>
<line x1="61.80" y1="104.45" x2="64.30" y2="104.45" stroke="#333" stroke-width="0.9"/>
<text x="87.35" y="566.60" text-anchor="middle" font-family="'Liberation Sans', Arial, sans-serif" font-size="16.6" fill="#1a1a1a">5</text>
<text x="52.80" y="109.85" text-anchor="end" font-family="'Liberation Sans', Arial, sans-serif" font-size="16.6" fill="#1a1a1a">5</text>
<line x1="106.95" y1="544.00" x2="106.95" y2="547.50" stroke="#333" stroke-width="0.9"/>
<line x1="61.80" y1="124.05" x2="64.30" y2="124.05" stroke="#333" stroke-width="0.9"/>
<text x="107.25" y="566.00" text-anchor="middle" font-family="'Liberation Serif', 'Times New Roman', serif" font-size="16.4" fill="#1a1a1a">9</text>
<text x="52.80" y="129.45" text-anchor="end" font-family="'Liberation Sans', Arial, sans-serif" font-size="16.6" fill="#1a1a1a">9</text>
<line x1="126.55" y1="544.00" x2="126.55" y2="547.50" stroke="#333" stroke-width="0.9"/>
<line x1="61.80" y1="143.65" x2="64.30" y2="143.65" stroke="#333" stroke-width="0.9"/>
<text x="126.55" y="566.60" text-anchor="middle" font-family="'Liberation Sans', Arial, sans-serif" font-size="16.6" fill="#1a1a1a">13</text>
<text x="52.80" y="149.05" text-anchor="end" font-family="'Liberation Sans', Arial, sans-serif" font-size="16.6" fill="#1a1a1a">13</text>
<line x1="146.15" y1="544.00" x2="146.15" y2="547.50" stroke="#333" stroke-width="0.9"/>
<line x1="61.80" y1="163.25" x2="64.30" y2="163.25" stroke="#333" stroke-width="0.9"/>
<text x="146.15" y="566.60" text-anchor="middle" font-family="'Liberation Sans', Arial, sans-serif" font-size="16.6" fill="#1a1a1a">17</text>
<text x="52.80" y="168.65" text-anchor="end" font-family="'Liberation Sans', Arial, sans-serif" font-size="16.6" fill="#1a1a1a">17</text>
<line x1="165.75" y1="544.00" x2="165.75" y2="547.50" stroke="#333" stroke-width="0.9"/>
<line x1="61.80" y1="182.85" x2="64.30" y2="182.85" stroke="#333" stroke-width="0.9"/>
<text x="165.75" y="566.60" text-anchor="middle" font-family="'Liberation Sans', Arial, sans-serif" font-size="16.6" fill="#1a1a1a">21</text>
<text x="52.80" y="188.25" text-anchor="end" font-family="'Liberation Sans', Arial, sans-serif" font-size="16.6" fill="#1a1a1a">21</text>
<line x1="185.35" y1="544.00" x2="185.35" y2="547.50" stroke="#333" stroke-width="0.9"/>
<line x1="61.80" y1="202.45" x2="64.30" y2="202.45" stroke="#333" stroke-width="0.9"/>
<text x="185.35" y="566.60" text-anchor="middle" font-family="'Liberation Sans', Arial, sans-serif" font-size="16.6" fill="#1a1a1a">25</text>
<text x="52.80" y="207.85" text-anchor="end" font-family="'Liberation Sans', Arial, sans-serif" font-size="16.6" fill="#1a1a1a">25</text>
<line x1="204.95" y1="544.00" x2="204.95" y2="547.50" stroke="#333" stroke-width="0.9"/>
<line x1="61.80" y1="222.05" x2="64.30" y2="222.05" stroke="#333" stroke-width="0.9"/>
<text x="204.95" y="566.60" text-anchor="middle" font-family="'Liberation Sans', Arial, sans-serif" font-size="16.6" fill="#1a1a1a">29</text>
<text x="52.80" y="227.45" text-anchor="end" font-family="'Liberation Sans', Arial, sans-serif" font-size="16.6" fill="#1a1a1a">29</text>
<line x1="224.55" y1="544.00" x2="224.55" y2="547.50" stroke="#333" stroke-width="0.9"/>
<line x1="61.80" y1="241.65" x2="64.30" y2="241.65" stroke="#333" stroke-width="0.9"/>
<text x="224.55" y="566.60" text-anchor="middle" font-family="'Liberation Sans', Arial, sans-serif" font-size="16.6" fill="#1a1a1a">33</text>
<text x="52.80" y="247.05" text-anchor="end" font-family="'Liberation Sans', Arial, sans-serif" font-size="16.6" fill="#1a1a1a">33</text>
<line x1="244.15" y1="544.00" x2="244.15" y2="547.50" stroke="#333" stroke-width="0.9"/>
<line x1="61.80" y1="261.25" x2="64.30" y2="261.25" stroke="#333" stroke-width="0.9"/>
<text x="244.15" y="566.60" text-anchor="middle" font-family="'Liberation Sans', Arial, sans-serif" font-size="16.6" fill="#1a1a1a">37</text>
<text x="52.80" y="266.65" text-anchor="end" font-family="'Liberation Sans', Arial, sans-serif" font-size="16.6" fill="#1a1a1a">37</text>
<line x1="263.75" y1="544.00" x2="263.75" y2="547.50" stroke="#333" stroke-width="0.9"/>
<line x1="61.80" y1="280.85" x2="64.30" y2="280.85" stroke="#333" stroke-width="0.9"/>
<text x="263.75" y="566.60" text-anchor="middle" font-family="'Liberation Sans', Arial, sans-serif" font-size="16.6" fill="#1a1a1a">41</text>
<text x="52.80" y="286.25" text-anchor="end" font-family="'Liberation Sans', Arial, sans-serif" font-size="16.6" fill="#1a1a1a">41</text>
<line x1="283.35" y1="544.00" x2="283.35" y2="547.50" stroke="#333" stroke-width="0.9"/>
<line x1="61.80" y1="300.45" x2="64.30" y2="300.45" stroke="#333" stroke-width="0.9"/>
<text x="283.35" y="566.60" text-anchor="middle" font-family="'Liberation Sans', Arial, sans-serif" font-size="16.6" fill="#1a1a1a">45</text>
<text x="52.80" y="305.85" text-anchor="end" font-family="'Liberation Sans', Arial, sans-serif" font-size="16.6" fill="#1a1a1a">45</text>
<line x1="302.95" y1="544.00" x2="302.95" y2="547.50" stroke="#333" stroke-width="0.9"/>
<line x1="61.80" y1="320.05" x2="64.30" y2="320.05" stroke="#333" stroke-width="0.9"/>
<text x="302.95" y="566.60" text-anchor="middle" font-family="'Liberation Sans', Arial, sans-serif" font-size="16.6" fill="#1a1a1a">49</text>
<text x="52.80" y="325.45" text-anchor="end" font-family="'Liberation Sans', Arial, sans-serif" font-size="16.6" fill="#1a1a1a">49</text>
<line x1="322.55" y1="544.00" x2="322.55" y2="547.50" stroke="#333" stroke-width="0.9"/>
<line x1="61.80" y1="339.65" x2="64.30" y2="339.65" stroke="#333" stroke-width="0.9"/>
<text x="322.55" y="566.60" text-anchor="middle" font-family="'Liberation Sans', Arial, sans-serif" font-size="16.6" fill="#1a1a1a">53</text>
<text x="52.80" y="345.05" text-anchor="end" font-family="'Liberation Sans', Arial, sans-serif" font-size="16.6" fill="#1a1a1a">53</text>
<line x1="342.15" y1="544.00" x2="342.15" y2="547.50" stroke="#333" stroke-width="0.9"/>
<line x1="61.80" y1="359.25" x2="64.30" y2="359.25" stroke="#333" stroke-width="0.9"/>
<text x="342.15" y="566.60" text-anchor="middle" font-family="'Liberation Sans', Arial, sans-serif" font-size="16.6" fill="#1a1a1a">57</text>
<text x="52.80" y="364.65" text-anchor="end" font-family="'Liberation Sans', Arial, sans-serif" font-size="16.6" fill="#1a1a1a">57</text>
<line x1="361.75" y1="544.00" x2="361.75" y2="547.50" stroke="#333" stroke-width="0.9"/>
<line x1="61.80" y1="378.85" x2="64.30" y2="378.85" stroke="#333" stroke-width="0.9"/>
<text x="361.75" y="566.60" text-anchor="middle" font-family="'Liberation Sans', Arial, sans-serif" font-size="16.6" fill="#1a1a1a">61</text>
<text x="52.80" y="384.25" text-anchor="end" font-family="'Liberation Sans', Arial, sans-serif" font-size="16.6" fill="#1a1a1a">61</text>
<line x1="381.35" y1="544.00" x2="381.35" y2="547.50" stroke="#333" stroke-width="0.9"/>
<line x1="61.80" y1="398.45" x2="64.30" y2="398.45" stroke="#333" stroke-width="0.9"/>
<text x="381.35" y="566.60" text-anchor="middle" font-family="'Liberation Sans', Arial, sans-serif" font-size="16.6" fill="#1a1a1a">65</text>
<text x="52.80" y="403.85" text-anchor="end" font-family="'Liberation Sans', Arial, sans-serif" font-size="16.6" fill="#1a1a1a">65</text>
<line x1="400.95" y1="544.00" x2="400.95" y2="547.50" stroke="#333" stroke-width="0.9"/>
<line x1="61.80" y1="418.05" x2="64.30" y2="418.05" stroke="#333" stroke-width="0.9"/>
<text x="400.95" y="566.60" text-anchor="middle" font-family="'Liberation Sans', Arial, sans-serif" font-size="16.6" fill="#1a1a1a">69</text>
<text x="52.80" y="423.45" text-anchor="end" font-family="'Liberation Sans', Arial, sans-serif" font-size="16.6" fill="#1a1a1a">69</text>
<line x1="420.55" y1="544.00" x2="420.55" y2="547.50" stroke="#333" stroke-width="0.9"/>
<line x1="61.80" y1="437.65" x2="64.30" y2="437.65" stroke="#333" stroke-width="0.9"/>
<text x="420.55" y="566.60" text-anchor="middle" font-family="'Liberation Sans', Arial, sans-serif" font-size="16.6" fill="#1a1a1a">73</text>
<text x="52.80" y="443.05" text-anchor="end" font-family="'Liberation Sans', Arial, sans-serif" font-size="16.6" fill="#1a1a1a">73</text>
<line x1="440.15" y1="544.00" x2="440.15" y2="547.50" stroke="#333" stroke-width="0.9"/>
<line x1="61.80" y1="457.25" x2="64.30" y2="457.25" stroke="#333" stroke-width="0.9"/>
<text x="440.15" y="566.60" text-anchor="middle" font-family="'Liberation Sans', Arial, sans-serif" font-size="16.6" fill="#1a1a1a">77</text>
<text x="52.80" y="462.65" text-anchor="end" font-family="'Liberation Sans', Arial, sans-serif" font-size="16.6" fill="#1a1a1a">77</text>
<line x1="459.75" y1="544.00" x2="459.75" y2="547.50" stroke="#333" stroke-width="0.9"/>
<line x1="61.80" y1="476.85" x2="64.30" y2="476.85" stroke="#333" stroke-width="0.9"/>
<text x="459.75" y="566.60" text-anchor="middle" font-family="'Liberation Sans', Arial, sans-serif" font-size="16.6" fill="#1a1a1a">81</text>
<text x="52.80" y="482.25" text-anchor="end" font-family="'Liberation Sans', Arial, sans-serif" font-size="16.6" fill="#1a1a1a">81</text>
<line x1="479.35" y1="544.00" x2="479.35" y2="547.50" stroke="#333" stroke-width="0.9"/>
<line x1="61.80" y1="496.45" x2="64.30" y2="496.45" stroke="#333" stroke-width="0.9"/>
<text x="479.35" y="566.60" text-anchor="middle" font-family="'Liberation Sans', Arial, sans-serif" font-size="16.6" fill="#1a1a1a">85</text>
<text x="52.80" y="501.85" text-anchor="end" font-family="'Liberation Sans', Arial, sans-serif" font-size="16.6" fill="#1a1a1a">85</text>
<line x1="498.95" y1="544.00" x2="498.95" y2="547.50" stroke="#333" stroke-width="0.9"/>
<line x1="61.80" y1="516.05" x2="64.30" y2="516.05" stroke="#333" stroke-width="0.9"/>
<text x="498.95" y="566.60" text-anchor="middle" font-family="'Liberation Sans', Arial, sans-serif" font-size="16.6" fill="#1a1a1a">89</text>
<text x="52.80" y="521.45" text-anchor="end" font-family="'Liberation Sans', Arial, sans-serif" font-size="16.6" fill="#1a1a1a">89</text>
<line x1="518.55" y1="544.00" x2="518.55" y2="547.50" stroke="#333" stroke-width="0.9"/>
<line x1="61.80" y1="535.65" x2="64.30" y2="535.65" stroke="#333" stroke-width="0.9"/>
<text x="518.55" y="566.60" text-anchor="middle" font-family="'Liberation Sans', Arial, sans-serif" font-size="16.6" fill="#1a1a1a">93</text>
<text x="52.80" y="541.05" text-anchor="end" font-family="'Liberation Sans', Arial, sans-serif" font-size="16.6" fill="#1a1a1a">93</text>
<text x="54.10" y="60.10" font-family="'Liberation Sans', Arial, sans-serif" font-size="16.8" fill="#1a1a1a">1<tspan font-style="italic">s</tspan></text>
<text x="545.80" y="86.20" font-family="'Liberation Sans', Arial, sans-serif" font-size="16.8" fill="#1a1a1a">1<tspan font-style="italic">s</tspan></text>
<text x="70.70" y="60.10" font-family="'Liberation Sans', Arial, sans-serif" font-size="16.8" fill="#1a1a1a">2<tspan font-style="italic">s</tspan></text>
<text x="545.80" y="102.40" font-family="'Liberation Sans', Arial, sans-serif" font-size="16.8" fill="#1a1a1a">2<tspan font-style="italic">s</tspan></text>
<text x="91.00" y="60.10" font-family="'Liberation Sans', Arial, sans-serif" font-size="16.8" fill="#1a1a1a">2<tspan font-style="italic">p</tspan></text>
<text x="545.80" y="121.70" font-family="'Liberation Sans', Arial, sans-serif" font-size="16.8" fill="#1a1a1a">2<tspan font-style="italic">p</tspan></text>
<text x="110.50" y="60.10" font-family="'Liberation Sans', Arial, sans-serif" font-size="16.8" fill="#1a1a1a">3<tspan font-style="italic">s</tspan></text>
<text x="545.80" y="140.70" font-family="'Liberation Sans', Arial, sans-serif" font-size="16.8" fill="#1a1a1a">3<tspan font-style="italic">s</tspan></text>
<text x="131.00" y="60.10" font-family="'Liberation Sans', Arial, sans-serif" font-size="16.8" fill="#1a1a1a">3<tspan font-style="italic">p</tspan></text>
<text x="545.80" y="160.20" font-family="'Liberation Sans', Arial, sans-serif" font-size="16.8" fill="#1a1a1a">3<tspan font-style="italic">p</tspan></text>
<text x="151.40" y="60.10" font-family="'Liberation Sans', Arial, sans-serif" font-size="16.8" fill="#1a1a1a">4<tspan font-style="italic">s</tspan></text>
<text x="545.80" y="179.70" font-family="'Liberation Sans', Arial, sans-serif" font-size="16.8" fill="#1a1a1a">4<tspan font-style="italic">s</tspan></text>
<text x="176.00" y="60.10" font-family="'Liberation Sans', Arial, sans-serif" font-size="16.8" fill="#1a1a1a">3<tspan font-style="italic">d</tspan></text>
<text x="545.80" y="207.20" font-family="'Liberation Sans', Arial, sans-serif" font-size="16.8" fill="#1a1a1a">3<tspan font-style="italic">d</tspan></text>
<text x="217.00" y="60.10" font-family="'Liberation Sans', Arial, sans-serif" font-size="16.8" fill="#1a1a1a">4<tspan font-style="italic">p</tspan></text>
<text x="545.80" y="248.70" font-family="'Liberation Sans', Arial, sans-serif" font-size="16.8" fill="#1a1a1a">4<tspan font-style="italic">p</tspan></text>
<text x="236.50" y="60.10" font-family="'Liberation Sans', Arial, sans-serif" font-size="16.8" fill="#1a1a1a">5<tspan font-style="italic">s</tspan></text>
<text x="545.80" y="269.00" font-family="'Liberation Sans', Arial, sans-serif" font-size="16.8" fill="#1a1a1a">5<tspan font-style="italic">s</tspan></text>
<text x="264.50" y="60.10" font-family="'Liberation Sans', Arial, sans-serif" font-size="16.8" fill="#1a1a1a">4<tspan font-style="italic">d</tspan></text>
<text x="545.80" y="298.80" font-family="'Liberation Sans', Arial, sans-serif" font-size="16.8" fill="#1a1a1a">4<tspan font-style="italic">d</tspan></text>
<text x="306.00" y="60.10" font-family="'Liberation Sans', Arial, sans-serif" font-size="16.8" fill="#1a1a1a">5<tspan font-style="italic">p</tspan></text>
<text x="545.80" y="338.40" font-family="'Liberation Sans', Arial, sans-serif" font-size="16.8" fill="#1a1a1a">5<tspan font-style="italic">p</tspan></text>
<text x="325.00" y="60.10" font-family="'Liberation Sans', Arial, sans-serif" font-size="16.8" fill="#1a1a1a">6<tspan font-style="italic">s</tspan></text>
<text x="545.80" y="357.70" font-family="'Liberation Sans', Arial, sans-serif" font-size="16.8" fill="#1a1a1a">6<tspan font-style="italic">s</tspan></text>
<text x="363.60" y="60.10" font-family="'Liberation Sans', Arial, sans-serif" font-size="16.8" fill="#1a1a1a">4<tspan font-style="italic">f</tspan></text>
<text x="545.80" y="396.20" font-family="'Liberation Sans', Arial, sans-serif" font-size="16.8" fill="#1a1a1a">4<tspan font-style="italic">f</tspan></text>
<text x="423.40" y="60.10" font-family="'Liberation Sans', Arial, sans-serif" font-size="16.8" fill="#1a1a1a">5<tspan font-style="italic">d</tspan></text>
<text x="545.80" y="456.70" font-family="'Liberation Sans', Arial, sans-serif" font-size="16.8" fill="#1a1a1a">5<tspan font-style="italic">d</tspan></text>
<text x="463.60" y="60.10" font-family="'Liberation Sans', Arial, sans-serif" font-size="16.8" fill="#1a1a1a">6<tspan font-style="italic">p</tspan></text>
<text x="545.80" y="496.20" font-family="'Liberation Sans', Arial, sans-serif" font-size="16.8" fill="#1a1a1a">6<tspan font-style="italic">p</tspan></text>
<text x="483.80" y="60.10" font-family="'Liberation Sans', Arial, sans-serif" font-size="16.8" fill="#1a1a1a">7<tspan font-style="italic">s</tspan></text>
<text x="545.80" y="515.50" font-family="'Liberation Sans', Arial, sans-serif" font-size="16.8" fill="#1a1a1a">7<tspan font-style="italic">s</tspan></text>
<text x="508.00" y="60.10" font-family="'Liberation Sans', Arial, sans-serif" font-size="16.8" fill="#1a1a1a">5<tspan font-style="italic">f</tspan></text>
<text x="545.80" y="536.50" font-family="'Liberation Sans', Arial, sans-serif" font-size="16.8" fill="#1a1a1a">5<tspan font-style="italic">f</tspan></text>
<text x="67.40" y="597.90" font-family="'Liberation Serif', 'Times New Roman', serif" font-size="23.5" fill="#1a1a1a" textLength="177" lengthAdjust="spacingAndGlyphs">element number</text>
<text transform="translate(19.9,260.70) rotate(-90)" font-family="'Liberation Serif', 'Times New Roman', serif" font-size="23.5" fill="#1a1a1a" textLength="177" lengthAdjust="spacingAndGlyphs">element number</text>
<text x="31.6" y="23.40" font-family="'Liberation Serif', 'Times New Roman', serif" font-size="27.5" fill="#1a1a1a" textLength="33" lengthAdjust="spacingAndGlyphs">(<tspan font-style="italic">a</tspan>)</text>
<rect x="67.4" y="717.8" width="460.6" height="460.6" fill="#0c00fd"/>
<g shape-rendering="crispEdges"><rect x="87.00" y="717.80" width="9.85" height="4.95" fill="#fb2a1c"/>
<rect x="194.80" y="717.80" width="24.55" height="4.95" fill="#fb2a1c"/>
<rect x="224.20" y="717.80" width="9.85" height="4.95" fill="#fb2a1c"/>
<rect x="268.30" y="717.80" width="4.95" height="4.95" fill="#fb2a1c"/>
<rect x="283.00" y="717.80" width="4.95" height="4.95" fill="#fb2a1c"/>
<rect x="297.70" y="717.80" width="14.75" height="4.95" fill="#fb2a1c"/>
<rect x="317.30" y="717.80" width="4.95" height="4.95" fill="#fb2a1c"/>
<rect x="425.10" y="717.80" width="4.95" height="4.95" fill="#fb2a1c"/>
<rect x="444.70" y="717.80" width="4.95" height="4.95" fill="#fb2a1c"/>
<rect x="91.90" y="727.60" width="4.95" height="4.95" fill="#fb2a1c"/>
<rect x="121.30" y="727.60" width="14.75" height="4.95" fill="#fb2a1c"/>
<rect x="199.70" y="727.60" width="4.95" height="4.95" fill="#fb2a1c"/>
<rect x="248.70" y="727.60" width="9.85" height="4.95" fill="#fb2a1c"/>
<rect x="341.80" y="727.60" width="73.55" height="4.95" fill="#fb2a1c"/>
<rect x="498.60" y="727.60" width="9.85" height="4.95" fill="#fb2a1c"/>
<rect x="91.90" y="732.50" width="4.95" height="4.95" fill="#fb2a1c"/>
<rect x="121.30" y="732.50" width="9.85" height="4.95" fill="#fb2a1c"/>
<rect x="180.10" y="732.50" width="14.75" height="4.95" fill="#fb2a1c"/>
<rect x="204.60" y="732.50" width="4.95" height="4.95" fill="#fb2a1c"/>
<rect x="219.30" y="732.50" width="4.95" height="4.95" fill="#fb2a1c"/>
<rect x="248.70" y="732.50" width="4.95" height="4.95" fill="#fb2a1c"/>
<rect x="268.30" y="732.50" width="14.75" height="4.95" fill="#fb2a1c"/>
<rect x="312.40" y="732.50" width="4.95" height="4.95" fill="#fb2a1c"/>
<rect x="361.40" y="732.50" width="4.95" height="4.95" fill="#fb2a1c"/>
<rect x="425.10" y="732.50" width="14.75" height="4.95" fill="#fb2a1c"/>
<rect x="449.60" y="732.50" width="4.95" height="4.95" fill="#fb2a1c"/>
<rect x="498.60" y="732.50" width="4.95" height="4.95" fill="#fb2a1c"/>
<rect x="518.20" y="732.50" width="4.95" height="4.95" fill="#fb2a1c"/>
<rect x="67.40" y="737.40" width="4.95" height="4.95" fill="#fb2a1c"/>
<rect x="91.90" y="737.40" width="4.95" height="4.95" fill="#fb2a1c"/>
<rect x="116.40" y="737.40" width="4.95" height="4.95" fill="#fb2a1c"/>
<rect x="155.60" y="737.40" width="4.95" height="4.95" fill="#fb2a1c"/>
<rect x="224.20" y="737.40" width="4.95" height="4.95" fill="#fb2a1c"/>
<rect x="283.00" y="737.40" width="9.85" height="4.95" fill="#fb2a1c"/>
<rect x="439.80" y="737.40" width="4.95" height="4.95" fill="#fb2a1c"/>
<rect x="498.60" y="737.40" width="4.95" height="4.95" fill="#fb2a1c"/>
<rect x="67.40" y="742.30" width="4.95" height="4.95" fill="#fb2a1c"/>
<rect x="77.20" y="742.30" width="14.75" height="4.95" fill="#fb2a1c"/>
<rect x="96.80" y="742.30" width="4.95" height="4.95" fill="#fb2a1c"/>
<rect x="131.10" y="742.30" width="9.85" height="4.95" fill="#fb2a1c"/>
<rect x="155.60" y="742.30" width="4.95" height="4.95" fill="#fb2a1c"/>
<rect x="189.90" y="742.30" width="4.95" height="4.95" fill="#fb2a1c"/>
<rect x="229.10" y="742.30" width="4.95" height="4.95" fill="#fb2a1c"/>
<rect x="243.80" y="742.30" width="4.95" height="4.95" fill="#fb2a1c"/>
<rect x="278.10" y="742.30" width="4.95" height="4.95" fill="#fb2a1c"/>
<rect x="332.00" y="742.30" width="4.95" height="4.95" fill="#fb2a1c"/>
<rect x="434.90" y="742.30" width="4.95" height="4.95" fill="#fb2a1c"/>
<rect x="498.60" y="742.30" width="4.95" height="4.95" fill="#fb2a1c"/>
<rect x="518.20" y="742.30" width="4.95" height="4.95" fill="#fb2a1c"/>
<rect x="91.90" y="747.20" width="4.95" height="4.95" fill="#fb2a1c"/>
<rect x="204.60" y="747.20" width="4.95" height="4.95" fill="#fb2a1c"/>
<rect x="224.20" y="747.20" width="14.75" height="4.95" fill="#fb2a1c"/>
<rect x="278.10" y="747.20" width="14.75" height="4.95" fill="#fb2a1c"/>
<rect x="297.70" y="747.20" width="4.95" height="4.95" fill="#fb2a1c"/>
<rect x="312.40" y="747.20" width="14.75" height="4.95" fill="#fb2a1c"/>
<rect x="434.90" y="747.20" width="14.75" height="4.95" fill="#fb2a1c"/>
<rect x="459.40" y="747.20" width="14.75" height="4.95" fill="#fb2a1c"/>
<rect x="145.80" y="752.10" width="4.95" height="4.95" fill="#fb2a1c"/>
<rect x="234.00" y="752.10" width="4.95" height="4.95" fill="#fb2a1c"/>
<rect x="87.00" y="766.80" width="4.95" height="4.95" fill="#fb2a1c"/>
<rect x="131.10" y="766.80" width="4.95" height="4.95" fill="#fb2a1c"/>
<rect x="160.50" y="766.80" width="4.95" height="4.95" fill="#fb2a1c"/>
<rect x="204.60" y="766.80" width="4.95" height="4.95" fill="#fb2a1c"/>
<rect x="214.40" y="766.80" width="9.85" height="4.95" fill="#fb2a1c"/>
<rect x="243.80" y="766.80" width="4.95" height="4.95" fill="#fb2a1c"/>
<rect x="302.60" y="766.80" width="9.85" height="4.95" fill="#fb2a1c"/>
<rect x="332.00" y="766.80" width="4.95" height="4.95" fill="#fb2a1c"/>
<rect x="341.80" y="766.80" width="14.75" height="4.95" fill="#fb2a1c"/>
<rect x="371.20" y="766.80" width="4.95" height="4.95" fill="#fb2a1c"/>
<rect x="405.50" y="766.80" width="4.95" height="4.95" fill="#fb2a1c"/>
<rect x="498.60" y="766.80" width="4.95" height="4.95" fill="#fb2a1c"/>
<rect x="77.20" y="771.70" width="9.85" height="4.95" fill="#fb2a1c"/>
<rect x="126.20" y="771.70" width="4.95" height="4.95" fill="#fb2a1c"/>
<rect x="243.80" y="771.70" width="4.95" height="4.95" fill="#fb2a1c"/>
<rect x="258.50" y="771.70" width="4.95" height="4.95" fill="#fb2a1c"/>
<rect x="278.10" y="771.70" width="4.95" height="4.95" fill="#fb2a1c"/>
<rect x="336.90" y="771.70" width="4.95" height="4.95" fill="#fb2a1c"/>
<rect x="503.50" y="771.70" width="4.95" height="4.95" fill="#fb2a1c"/>
<rect x="77.20" y="776.60" width="9.85" height="4.95" fill="#fb2a1c"/>
<rect x="121.30" y="776.60" width="4.95" height="4.95" fill="#fb2a1c"/>
<rect x="131.10" y="776.60" width="4.95" height="4.95" fill="#fb2a1c"/>
<rect x="160.50" y="776.60" width="4.95" height="4.95" fill="#fb2a1c"/>
<rect x="175.20" y="776.60" width="19.65" height="4.95" fill="#fb2a1c"/>
<rect x="209.50" y="776.60" width="14.75" height="4.95" fill="#fb2a1c"/>
<rect x="248.70" y="776.60" width="4.95" height="4.95" fill="#fb2a1c"/>
<rect x="263.40" y="776.60" width="14.75" height="4.95" fill="#fb2a1c"/>
<rect x="292.80" y="776.60" width="4.95" height="4.95" fill="#fb2a1c"/>
<rect x="302.60" y="776.60" width="9.85" height="4.95" fill="#fb2a1c"/>
<rect x="336.90" y="776.60" width="4.95" height="4.95" fill="#fb2a1c"/>
<rect x="371.20" y="776.60" width="4.95" height="4.95" fill="#fb2a1c"/>
<rect x="420.20" y="776.60" width="19.65" height="4.95" fill="#fb2a1c"/>
<rect x="469.20" y="776.60" width="4.95" height="4.95" fill="#fb2a1c"/>
<rect x="498.60" y="776.60" width="4.95" height="4.95" fill="#fb2a1c"/>
<rect x="513.30" y="776.60" width="9.85" height="4.95" fill="#fb2a1c"/>
<rect x="77.20" y="781.50" width="4.95" height="4.95" fill="#fb2a1c"/>
<rect x="91.90" y="781.50" width="4.95" height="4.95" fill="#fb2a1c"/>
<rect x="116.40" y="781.50" width="4.95" height="4.95" fill="#fb2a1c"/>
<rect x="126.20" y="781.50" width="4.95" height="4.95" fill="#fb2a1c"/>
<rect x="155.60" y="781.50" width="4.95" height="4.95" fill="#fb2a1c"/>
<rect x="180.10" y="781.50" width="19.65" height="4.95" fill="#fb2a1c"/>
<rect x="204.60" y="781.50" width="4.95" height="4.95" fill="#fb2a1c"/>
<rect x="214.40" y="781.50" width="9.85" height="4.95" fill="#fb2a1c"/>
<rect x="243.80" y="781.50" width="4.95" height="4.95" fill="#fb2a1c"/>
<rect x="268.30" y="781.50" width="14.75" height="4.95" fill="#fb2a1c"/>
<rect x="312.40" y="781.50" width="9.85" height="4.95" fill="#fb2a1c"/>
<rect x="332.00" y="781.50" width="4.95" height="4.95" fill="#fb2a1c"/>
<rect x="425.10" y="781.50" width="14.75" height="4.95" fill="#fb2a1c"/>
<rect x="449.60" y="781.50" width="4.95" height="4.95" fill="#fb2a1c"/>
<rect x="91.90" y="786.40" width="4.95" height="4.95" fill="#fb2a1c"/>
<rect x="224.20" y="786.40" width="9.85" height="4.95" fill="#fb2a1c"/>
<rect x="292.80" y="786.40" width="4.95" height="4.95" fill="#fb2a1c"/>
<rect x="317.30" y="786.40" width="9.85" height="4.95" fill="#fb2a1c"/>
<rect x="444.70" y="786.40" width="14.75" height="4.95" fill="#fb2a1c"/>
<rect x="234.00" y="791.30" width="4.95" height="4.95" fill="#fb2a1c"/>
<rect x="317.30" y="791.30" width="9.85" height="4.95" fill="#fb2a1c"/>
<rect x="101.70" y="796.20" width="4.95" height="4.95" fill="#fb2a1c"/>
<rect x="87.00" y="806.00" width="9.85" height="4.95" fill="#fb2a1c"/>
<rect x="131.10" y="806.00" width="4.95" height="4.95" fill="#fb2a1c"/>
<rect x="204.60" y="806.00" width="19.65" height="4.95" fill="#fb2a1c"/>
<rect x="302.60" y="806.00" width="9.85" height="4.95" fill="#fb2a1c"/>
<rect x="332.00" y="806.00" width="9.85" height="4.95" fill="#fb2a1c"/>
<rect x="116.40" y="810.90" width="4.95" height="4.95" fill="#fb2a1c"/>
<rect x="126.20" y="810.90" width="4.95" height="4.95" fill="#fb2a1c"/>
<rect x="194.80" y="810.90" width="4.95" height="4.95" fill="#fb2a1c"/>
<rect x="278.10" y="810.90" width="4.95" height="4.95" fill="#fb2a1c"/>
<rect x="498.60" y="810.90" width="4.95" height="4.95" fill="#fb2a1c"/>
<rect x="170.30" y="815.80" width="4.95" height="4.95" fill="#fb2a1c"/>
<rect x="180.10" y="815.80" width="4.95" height="4.95" fill="#fb2a1c"/>
<rect x="258.50" y="815.80" width="4.95" height="4.95" fill="#fb2a1c"/>
<rect x="268.30" y="815.80" width="4.95" height="4.95" fill="#fb2a1c"/>
<rect x="415.30" y="815.80" width="4.95" height="4.95" fill="#fb2a1c"/>
<rect x="503.50" y="815.80" width="4.95" height="4.95" fill="#fb2a1c"/>
<rect x="523.10" y="815.80" width="4.95" height="4.95" fill="#fb2a1c"/>
<rect x="165.40" y="820.70" width="4.95" height="4.95" fill="#fb2a1c"/>
<rect x="258.50" y="820.70" width="4.95" height="4.95" fill="#fb2a1c"/>
<rect x="268.30" y="820.70" width="4.95" height="4.95" fill="#fb2a1c"/>
<rect x="415.30" y="820.70" width="4.95" height="4.95" fill="#fb2a1c"/>
<rect x="425.10" y="820.70" width="4.95" height="4.95" fill="#fb2a1c"/>
<rect x="459.40" y="820.70" width="4.95" height="4.95" fill="#fb2a1c"/>
<rect x="503.50" y="820.70" width="4.95" height="4.95" fill="#fb2a1c"/>
<rect x="513.30" y="820.70" width="4.95" height="4.95" fill="#fb2a1c"/>
<rect x="126.20" y="825.60" width="4.95" height="4.95" fill="#fb2a1c"/>
<rect x="209.50" y="825.60" width="4.95" height="4.95" fill="#fb2a1c"/>
<rect x="307.50" y="825.60" width="4.95" height="4.95" fill="#fb2a1c"/>
<rect x="425.10" y="825.60" width="4.95" height="4.95" fill="#fb2a1c"/>
<rect x="513.30" y="825.60" width="9.85" height="4.95" fill="#fb2a1c"/>
<rect x="82.10" y="830.50" width="4.95" height="4.95" fill="#fb2a1c"/>
<rect x="126.20" y="830.50" width="9.85" height="4.95" fill="#fb2a1c"/>
<rect x="165.40" y="830.50" width="4.95" height="4.95" fill="#fb2a1c"/>
<rect x="189.90" y="830.50" width="9.85" height="4.95" fill="#fb2a1c"/>
<rect x="214.40" y="830.50" width="4.95" height="4.95" fill="#fb2a1c"/>
<rect x="268.30" y="830.50" width="14.75" height="4.95" fill="#fb2a1c"/>
<rect x="503.50" y="830.50" width="19.65" height="4.95" fill="#fb2a1c"/>
<rect x="82.10" y="835.40" width="4.95" height="4.95" fill="#fb2a1c"/>
<rect x="126.20" y="835.40" width="9.85" height="4.95" fill="#fb2a1c"/>
<rect x="189.90" y="835.40" width="4.95" height="4.95" fill="#fb2a1c"/>
<rect x="209.50" y="835.40" width="9.85" height="4.95" fill="#fb2a1c"/>
<rect x="273.20" y="835.40" width="4.95" height="4.95" fill="#fb2a1c"/>
<rect x="307.50" y="835.40" width="4.95" height="4.95" fill="#fb2a1c"/>
<rect x="341.80" y="835.40" width="29.45" height="4.95" fill="#fb2a1c"/>
<rect x="376.10" y="835.40" width="9.85" height="4.95" fill="#fb2a1c"/>
<rect x="425.10" y="835.40" width="9.85" height="4.95" fill="#fb2a1c"/>
<rect x="449.60" y="835.40" width="4.95" height="4.95" fill="#fb2a1c"/>
<rect x="503.50" y="835.40" width="9.85" height="4.95" fill="#fb2a1c"/>
<rect x="518.20" y="835.40" width="9.85" height="4.95" fill="#fb2a1c"/>
<rect x="82.10" y="840.30" width="4.95" height="4.95" fill="#fb2a1c"/>
<rect x="91.90" y="840.30" width="4.95" height="4.95" fill="#fb2a1c"/>
<rect x="126.20" y="840.30" width="9.85" height="4.95" fill="#fb2a1c"/>
<rect x="180.10" y="840.30" width="9.85" height="4.95" fill="#fb2a1c"/>
<rect x="209.50" y="840.30" width="9.85" height="4.95" fill="#fb2a1c"/>
<rect x="268.30" y="840.30" width="4.95" height="4.95" fill="#fb2a1c"/>
<rect x="278.10" y="840.30" width="4.95" height="4.95" fill="#fb2a1c"/>
<rect x="312.40" y="840.30" width="4.95" height="4.95" fill="#fb2a1c"/>
<rect x="341.80" y="840.30" width="4.95" height="4.95" fill="#fb2a1c"/>
<rect x="351.60" y="840.30" width="19.65" height="4.95" fill="#fb2a1c"/>
<rect x="430.00" y="840.30" width="4.95" height="4.95" fill="#fb2a1c"/>
<rect x="518.20" y="840.30" width="9.85" height="4.95" fill="#fb2a1c"/>
<rect x="67.40" y="845.20" width="4.95" height="4.95" fill="#fb2a1c"/>
<rect x="131.10" y="845.20" width="4.95" height="4.95" fill="#fb2a1c"/>
<rect x="160.50" y="845.20" width="4.95" height="4.95" fill="#fb2a1c"/>
<rect x="180.10" y="845.20" width="4.95" height="4.95" fill="#fb2a1c"/>
<rect x="209.50" y="845.20" width="14.75" height="4.95" fill="#fb2a1c"/>
<rect x="283.00" y="845.20" width="9.85" height="4.95" fill="#fb2a1c"/>
<rect x="302.60" y="845.20" width="14.75" height="4.95" fill="#fb2a1c"/>
<rect x="430.00" y="845.20" width="4.95" height="4.95" fill="#fb2a1c"/>
<rect x="439.80" y="845.20" width="4.95" height="4.95" fill="#fb2a1c"/>
<rect x="67.40" y="850.10" width="4.95" height="4.95" fill="#fb2a1c"/>
<rect x="77.20" y="850.10" width="4.95" height="4.95" fill="#fb2a1c"/>
<rect x="199.70" y="850.10" width="24.55" height="4.95" fill="#fb2a1c"/>
<rect x="283.00" y="850.10" width="9.85" height="4.95" fill="#fb2a1c"/>
<rect x="297.70" y="850.10" width="19.65" height="4.95" fill="#fb2a1c"/>
<rect x="469.20" y="850.10" width="4.95" height="4.95" fill="#fb2a1c"/>
<rect x="67.40" y="855.00" width="4.95" height="4.95" fill="#fb2a1c"/>
<rect x="82.10" y="855.00" width="4.95" height="4.95" fill="#fb2a1c"/>
<rect x="96.80" y="855.00" width="4.95" height="4.95" fill="#fb2a1c"/>
<rect x="116.40" y="855.00" width="4.95" height="4.95" fill="#fb2a1c"/>
<rect x="131.10" y="855.00" width="4.95" height="4.95" fill="#fb2a1c"/>
<rect x="155.60" y="855.00" width="4.95" height="4.95" fill="#fb2a1c"/>
<rect x="199.70" y="855.00" width="29.45" height="4.95" fill="#fb2a1c"/>
<rect x="297.70" y="855.00" width="19.65" height="4.95" fill="#fb2a1c"/>
<rect x="469.20" y="855.00" width="4.95" height="4.95" fill="#fb2a1c"/>
<rect x="508.40" y="855.00" width="4.95" height="4.95" fill="#fb2a1c"/>
<rect x="67.40" y="859.90" width="4.95" height="4.95" fill="#fb2a1c"/>
<rect x="126.20" y="859.90" width="4.95" height="4.95" fill="#fb2a1c"/>
<rect x="155.60" y="859.90" width="4.95" height="4.95" fill="#fb2a1c"/>
<rect x="175.20" y="859.90" width="4.95" height="4.95" fill="#fb2a1c"/>
<rect x="185.00" y="859.90" width="34.35" height="4.95" fill="#fb2a1c"/>
<rect x="243.80" y="859.90" width="4.95" height="4.95" fill="#fb2a1c"/>
<rect x="268.30" y="859.90" width="19.65" height="4.95" fill="#fb2a1c"/>
<rect x="292.80" y="859.90" width="4.95" height="4.95" fill="#fb2a1c"/>
<rect x="302.60" y="859.90" width="4.95" height="4.95" fill="#fb2a1c"/>
<rect x="332.00" y="859.90" width="4.95" height="4.95" fill="#fb2a1c"/>
<rect x="439.80" y="859.90" width="4.95" height="4.95" fill="#fb2a1c"/>
<rect x="518.20" y="859.90" width="4.95" height="4.95" fill="#fb2a1c"/>
<rect x="67.40" y="864.80" width="4.95" height="4.95" fill="#fb2a1c"/>
<rect x="116.40" y="864.80" width="4.95" height="4.95" fill="#fb2a1c"/>
<rect x="126.20" y="864.80" width="4.95" height="4.95" fill="#fb2a1c"/>
<rect x="155.60" y="864.80" width="4.95" height="4.95" fill="#fb2a1c"/>
<rect x="180.10" y="864.80" width="29.45" height="4.95" fill="#fb2a1c"/>
<rect x="219.30" y="864.80" width="4.95" height="4.95" fill="#fb2a1c"/>
<rect x="243.80" y="864.80" width="4.95" height="4.95" fill="#fb2a1c"/>
<rect x="268.30" y="864.80" width="14.75" height="4.95" fill="#fb2a1c"/>
<rect x="292.80" y="864.80" width="4.95" height="4.95" fill="#fb2a1c"/>
<rect x="307.50" y="864.80" width="4.95" height="4.95" fill="#fb2a1c"/>
<rect x="332.00" y="864.80" width="4.95" height="4.95" fill="#fb2a1c"/>
<rect x="430.00" y="864.80" width="14.75" height="4.95" fill="#fb2a1c"/>
<rect x="449.60" y="864.80" width="4.95" height="4.95" fill="#fb2a1c"/>
<rect x="82.10" y="869.70" width="4.95" height="4.95" fill="#fb2a1c"/>
<rect x="116.40" y="869.70" width="4.95" height="4.95" fill="#fb2a1c"/>
<rect x="126.20" y="869.70" width="9.85" height="4.95" fill="#fb2a1c"/>
<rect x="155.60" y="869.70" width="4.95" height="4.95" fill="#fb2a1c"/>
<rect x="194.80" y="869.70" width="14.75" height="4.95" fill="#fb2a1c"/>
<rect x="243.80" y="869.70" width="4.95" height="4.95" fill="#fb2a1c"/>
<rect x="273.20" y="869.70" width="14.75" height="4.95" fill="#fb2a1c"/>
<rect x="307.50" y="869.70" width="4.95" height="4.95" fill="#fb2a1c"/>
<rect x="332.00" y="869.70" width="4.95" height="4.95" fill="#fb2a1c"/>
<rect x="430.00" y="869.70" width="14.75" height="4.95" fill="#fb2a1c"/>
<rect x="67.40" y="874.60" width="4.95" height="4.95" fill="#fb2a1c"/>
<rect x="87.00" y="874.60" width="4.95" height="4.95" fill="#fb2a1c"/>
<rect x="96.80" y="874.60" width="4.95" height="4.95" fill="#fb2a1c"/>
<rect x="136.00" y="874.60" width="4.95" height="4.95" fill="#fb2a1c"/>
<rect x="204.60" y="874.60" width="4.95" height="4.95" fill="#fb2a1c"/>
<rect x="317.30" y="874.60" width="4.95" height="4.95" fill="#fb2a1c"/>
<rect x="439.80" y="874.60" width="14.75" height="4.95" fill="#fb2a1c"/>
<rect x="469.20" y="874.60" width="4.95" height="4.95" fill="#fb2a1c"/>
<rect x="67.40" y="879.50" width="4.95" height="4.95" fill="#fb2a1c"/>
<rect x="91.90" y="879.50" width="9.85" height="4.95" fill="#fb2a1c"/>
<rect x="136.00" y="879.50" width="4.95" height="4.95" fill="#fb2a1c"/>
<rect x="322.20" y="879.50" width="4.95" height="4.95" fill="#fb2a1c"/>
<rect x="96.80" y="884.40" width="9.85" height="4.95" fill="#fb2a1c"/>
<rect x="140.90" y="884.40" width="4.95" height="4.95" fill="#fb2a1c"/>
<rect x="91.90" y="894.20" width="4.95" height="4.95" fill="#fb2a1c"/>
<rect x="116.40" y="894.20" width="4.95" height="4.95" fill="#fb2a1c"/>
<rect x="131.10" y="894.20" width="4.95" height="4.95" fill="#fb2a1c"/>
<rect x="209.50" y="894.20" width="14.75" height="4.95" fill="#fb2a1c"/>
<rect x="287.90" y="894.20" width="24.55" height="4.95" fill="#fb2a1c"/>
<rect x="332.00" y="894.20" width="4.95" height="4.95" fill="#fb2a1c"/>
<rect x="77.20" y="899.10" width="9.85" height="4.95" fill="#fb2a1c"/>
<rect x="91.90" y="899.10" width="4.95" height="4.95" fill="#fb2a1c"/>
<rect x="116.40" y="899.10" width="4.95" height="4.95" fill="#fb2a1c"/>
<rect x="126.20" y="899.10" width="4.95" height="4.95" fill="#fb2a1c"/>
<rect x="336.90" y="899.10" width="4.95" height="4.95" fill="#fb2a1c"/>
<rect x="77.20" y="904.00" width="4.95" height="4.95" fill="#fb2a1c"/>
<rect x="376.10" y="904.00" width="4.95" height="4.95" fill="#fb2a1c"/>
<rect x="430.00" y="904.00" width="4.95" height="4.95" fill="#fb2a1c"/>
<rect x="121.30" y="908.90" width="4.95" height="4.95" fill="#fb2a1c"/>
<rect x="165.40" y="908.90" width="9.85" height="4.95" fill="#fb2a1c"/>
<rect x="268.30" y="908.90" width="4.95" height="4.95" fill="#fb2a1c"/>
<rect x="415.30" y="908.90" width="4.95" height="4.95" fill="#fb2a1c"/>
<rect x="425.10" y="908.90" width="4.95" height="4.95" fill="#fb2a1c"/>
<rect x="503.50" y="908.90" width="4.95" height="4.95" fill="#fb2a1c"/>
<rect x="523.10" y="908.90" width="4.95" height="4.95" fill="#fb2a1c"/>
<rect x="126.20" y="913.80" width="4.95" height="4.95" fill="#fb2a1c"/>
<rect x="469.20" y="913.80" width="4.95" height="4.95" fill="#fb2a1c"/>
<rect x="513.30" y="913.80" width="4.95" height="4.95" fill="#fb2a1c"/>
<rect x="67.40" y="918.70" width="4.95" height="4.95" fill="#fb2a1c"/>
<rect x="82.10" y="918.70" width="4.95" height="4.95" fill="#fb2a1c"/>
<rect x="126.20" y="918.70" width="9.85" height="4.95" fill="#fb2a1c"/>
<rect x="165.40" y="918.70" width="9.85" height="4.95" fill="#fb2a1c"/>
<rect x="180.10" y="918.70" width="4.95" height="4.95" fill="#fb2a1c"/>
<rect x="189.90" y="918.70" width="4.95" height="4.95" fill="#fb2a1c"/>
<rect x="209.50" y="918.70" width="9.85" height="4.95" fill="#fb2a1c"/>
<rect x="258.50" y="918.70" width="4.95" height="4.95" fill="#fb2a1c"/>
<rect x="273.20" y="918.70" width="4.95" height="4.95" fill="#fb2a1c"/>
<rect x="434.90" y="918.70" width="4.95" height="4.95" fill="#fb2a1c"/>
<rect x="508.40" y="918.70" width="14.75" height="4.95" fill="#fb2a1c"/>
<rect x="82.10" y="923.60" width="4.95" height="4.95" fill="#fb2a1c"/>
<rect x="126.20" y="923.60" width="9.85" height="4.95" fill="#fb2a1c"/>
<rect x="180.10" y="923.60" width="9.85" height="4.95" fill="#fb2a1c"/>
<rect x="209.50" y="923.60" width="14.75" height="4.95" fill="#fb2a1c"/>
<rect x="268.30" y="923.60" width="4.95" height="4.95" fill="#fb2a1c"/>
<rect x="307.50" y="923.60" width="4.95" height="4.95" fill="#fb2a1c"/>
<rect x="322.20" y="923.60" width="4.95" height="4.95" fill="#fb2a1c"/>
<rect x="366.30" y="923.60" width="4.95" height="4.95" fill="#fb2a1c"/>
<rect x="381.00" y="923.60" width="4.95" height="4.95" fill="#fb2a1c"/>
<rect x="425.10" y="923.60" width="9.85" height="4.95" fill="#fb2a1c"/>
<rect x="508.40" y="923.60" width="19.65" height="4.95" fill="#fb2a1c"/>
<rect x="82.10" y="928.50" width="4.95" height="4.95" fill="#fb2a1c"/>
<rect x="91.90" y="928.50" width="9.85" height="4.95" fill="#fb2a1c"/>
<rect x="121.30" y="928.50" width="4.95" height="4.95" fill="#fb2a1c"/>
<rect x="131.10" y="928.50" width="4.95" height="4.95" fill="#fb2a1c"/>
<rect x="160.50" y="928.50" width="4.95" height="4.95" fill="#fb2a1c"/>
<rect x="180.10" y="928.50" width="4.95" height="4.95" fill="#fb2a1c"/>
<rect x="189.90" y="928.50" width="4.95" height="4.95" fill="#fb2a1c"/>
<rect x="209.50" y="928.50" width="14.75" height="4.95" fill="#fb2a1c"/>
<rect x="287.90" y="928.50" width="4.95" height="4.95" fill="#fb2a1c"/>
<rect x="302.60" y="928.50" width="14.75" height="4.95" fill="#fb2a1c"/>
<rect x="434.90" y="928.50" width="4.95" height="4.95" fill="#fb2a1c"/>
<rect x="444.70" y="928.50" width="4.95" height="4.95" fill="#fb2a1c"/>
<rect x="498.60" y="928.50" width="4.95" height="4.95" fill="#fb2a1c"/>
<rect x="67.40" y="933.40" width="4.95" height="4.95" fill="#fb2a1c"/>
<rect x="87.00" y="933.40" width="4.95" height="4.95" fill="#fb2a1c"/>
<rect x="96.80" y="933.40" width="4.95" height="4.95" fill="#fb2a1c"/>
<rect x="194.80" y="933.40" width="9.85" height="4.95" fill="#fb2a1c"/>
<rect x="209.50" y="933.40" width="4.95" height="4.95" fill="#fb2a1c"/>
<rect x="219.30" y="933.40" width="4.95" height="4.95" fill="#fb2a1c"/>
<rect x="297.70" y="933.40" width="24.55" height="4.95" fill="#fb2a1c"/>
<rect x="439.80" y="933.40" width="4.95" height="4.95" fill="#fb2a1c"/>
<rect x="454.50" y="933.40" width="4.95" height="4.95" fill="#fb2a1c"/>
<rect x="464.30" y="933.40" width="9.85" height="4.95" fill="#fb2a1c"/>
<rect x="87.00" y="938.30" width="4.95" height="4.95" fill="#fb2a1c"/>
<rect x="96.80" y="938.30" width="4.95" height="4.95" fill="#fb2a1c"/>
<rect x="194.80" y="938.30" width="9.85" height="4.95" fill="#fb2a1c"/>
<rect x="243.80" y="938.30" width="4.95" height="4.95" fill="#fb2a1c"/>
<rect x="278.10" y="938.30" width="4.95" height="4.95" fill="#fb2a1c"/>
<rect x="292.80" y="938.30" width="4.95" height="4.95" fill="#fb2a1c"/>
<rect x="332.00" y="938.30" width="4.95" height="4.95" fill="#fb2a1c"/>
<rect x="449.60" y="938.30" width="9.85" height="4.95" fill="#fb2a1c"/>
<rect x="126.20" y="943.20" width="4.95" height="4.95" fill="#fb2a1c"/>
<rect x="136.00" y="943.20" width="4.95" height="4.95" fill="#fb2a1c"/>
<rect x="209.50" y="943.20" width="9.85" height="4.95" fill="#fb2a1c"/>
<rect x="243.80" y="943.20" width="4.95" height="4.95" fill="#fb2a1c"/>
<rect x="287.90" y="943.20" width="4.95" height="4.95" fill="#fb2a1c"/>
<rect x="297.70" y="943.20" width="14.75" height="4.95" fill="#fb2a1c"/>
<rect x="332.00" y="943.20" width="4.95" height="4.95" fill="#fb2a1c"/>
<rect x="444.70" y="943.20" width="4.95" height="4.95" fill="#fb2a1c"/>
<rect x="454.50" y="943.20" width="9.85" height="4.95" fill="#fb2a1c"/>
<rect x="523.10" y="943.20" width="4.95" height="4.95" fill="#fb2a1c"/>
<rect x="67.40" y="948.10" width="4.95" height="4.95" fill="#fb2a1c"/>
<rect x="96.80" y="948.10" width="4.95" height="4.95" fill="#fb2a1c"/>
<rect x="199.70" y="948.10" width="9.85" height="4.95" fill="#fb2a1c"/>
<rect x="243.80" y="948.10" width="4.95" height="4.95" fill="#fb2a1c"/>
<rect x="283.00" y="948.10" width="4.95" height="4.95" fill="#fb2a1c"/>
<rect x="292.80" y="948.10" width="4.95" height="4.95" fill="#fb2a1c"/>
<rect x="307.50" y="948.10" width="4.95" height="4.95" fill="#fb2a1c"/>
<rect x="332.00" y="948.10" width="4.95" height="4.95" fill="#fb2a1c"/>
<rect x="439.80" y="948.10" width="4.95" height="4.95" fill="#fb2a1c"/>
<rect x="469.20" y="948.10" width="4.95" height="4.95" fill="#fb2a1c"/>
<rect x="67.40" y="953.00" width="4.95" height="4.95" fill="#fb2a1c"/>
<rect x="116.40" y="953.00" width="4.95" height="4.95" fill="#fb2a1c"/>
<rect x="126.20" y="953.00" width="4.95" height="4.95" fill="#fb2a1c"/>
<rect x="155.60" y="953.00" width="4.95" height="4.95" fill="#fb2a1c"/>
<rect x="194.80" y="953.00" width="19.65" height="4.95" fill="#fb2a1c"/>
<rect x="243.80" y="953.00" width="4.95" height="4.95" fill="#fb2a1c"/>
<rect x="278.10" y="953.00" width="9.85" height="4.95" fill="#fb2a1c"/>
<rect x="292.80" y="953.00" width="4.95" height="4.95" fill="#fb2a1c"/>
<rect x="332.00" y="953.00" width="4.95" height="4.95" fill="#fb2a1c"/>
<rect x="439.80" y="953.00" width="4.95" height="4.95" fill="#fb2a1c"/>
<rect x="464.30" y="953.00" width="4.95" height="4.95" fill="#fb2a1c"/>
<rect x="513.30" y="953.00" width="9.85" height="4.95" fill="#fb2a1c"/>
<rect x="67.40" y="957.90" width="4.95" height="4.95" fill="#fb2a1c"/>
<rect x="116.40" y="957.90" width="4.95" height="4.95" fill="#fb2a1c"/>
<rect x="126.20" y="957.90" width="4.95" height="4.95" fill="#fb2a1c"/>
<rect x="155.60" y="957.90" width="4.95" height="4.95" fill="#fb2a1c"/>
<rect x="175.20" y="957.90" width="4.95" height="4.95" fill="#fb2a1c"/>
<rect x="185.00" y="957.90" width="4.95" height="4.95" fill="#fb2a1c"/>
<rect x="194.80" y="957.90" width="14.75" height="4.95" fill="#fb2a1c"/>
<rect x="214.40" y="957.90" width="9.85" height="4.95" fill="#fb2a1c"/>
<rect x="243.80" y="957.90" width="4.95" height="4.95" fill="#fb2a1c"/>
<rect x="273.20" y="957.90" width="14.75" height="4.95" fill="#fb2a1c"/>
<rect x="292.80" y="957.90" width="9.85" height="4.95" fill="#fb2a1c"/>
<rect x="312.40" y="957.90" width="4.95" height="4.95" fill="#fb2a1c"/>
<rect x="332.00" y="957.90" width="4.95" height="4.95" fill="#fb2a1c"/>
<rect x="439.80" y="957.90" width="4.95" height="4.95" fill="#fb2a1c"/>
<rect x="449.60" y="957.90" width="4.95" height="4.95" fill="#fb2a1c"/>
<rect x="82.10" y="962.80" width="4.95" height="4.95" fill="#fb2a1c"/>
<rect x="96.80" y="962.80" width="4.95" height="4.95" fill="#fb2a1c"/>
<rect x="131.10" y="962.80" width="4.95" height="4.95" fill="#fb2a1c"/>
<rect x="189.90" y="962.80" width="19.65" height="4.95" fill="#fb2a1c"/>
<rect x="278.10" y="962.80" width="9.85" height="4.95" fill="#fb2a1c"/>
<rect x="307.50" y="962.80" width="4.95" height="4.95" fill="#fb2a1c"/>
<rect x="434.90" y="962.80" width="19.65" height="4.95" fill="#fb2a1c"/>
<rect x="459.40" y="962.80" width="14.75" height="4.95" fill="#fb2a1c"/>
<rect x="67.40" y="967.70" width="4.95" height="4.95" fill="#fb2a1c"/>
<rect x="96.80" y="967.70" width="4.95" height="4.95" fill="#fb2a1c"/>
<rect x="131.10" y="967.70" width="14.75" height="4.95" fill="#fb2a1c"/>
<rect x="224.20" y="967.70" width="4.95" height="4.95" fill="#fb2a1c"/>
<rect x="283.00" y="967.70" width="4.95" height="4.95" fill="#fb2a1c"/>
<rect x="434.90" y="967.70" width="14.75" height="4.95" fill="#fb2a1c"/>
<rect x="96.80" y="972.60" width="4.95" height="4.95" fill="#fb2a1c"/>
<rect x="136.00" y="972.60" width="9.85" height="4.95" fill="#fb2a1c"/>
<rect x="229.10" y="972.60" width="4.95" height="4.95" fill="#fb2a1c"/>
<rect x="273.20" y="972.60" width="4.95" height="4.95" fill="#fb2a1c"/>
<rect x="434.90" y="972.60" width="4.95" height="4.95" fill="#fb2a1c"/>
<rect x="444.70" y="972.60" width="4.95" height="4.95" fill="#fb2a1c"/>
<rect x="91.90" y="982.40" width="4.95" height="4.95" fill="#fb2a1c"/>
<rect x="116.40" y="982.40" width="4.95" height="4.95" fill="#fb2a1c"/>
<rect x="131.10" y="982.40" width="4.95" height="4.95" fill="#fb2a1c"/>
<rect x="155.60" y="982.40" width="4.95" height="4.95" fill="#fb2a1c"/>
<rect x="209.50" y="982.40" width="14.75" height="4.95" fill="#fb2a1c"/>
<rect x="243.80" y="982.40" width="4.95" height="4.95" fill="#fb2a1c"/>
<rect x="287.90" y="982.40" width="24.55" height="4.95" fill="#fb2a1c"/>
<rect x="91.90" y="987.30" width="4.95" height="4.95" fill="#fb2a1c"/>
<rect x="121.30" y="987.30" width="9.85" height="4.95" fill="#fb2a1c"/>
<rect x="155.60" y="987.30" width="4.95" height="4.95" fill="#fb2a1c"/>
<rect x="248.70" y="987.30" width="4.95" height="4.95" fill="#fb2a1c"/>
<rect x="77.20" y="992.20" width="4.95" height="4.95" fill="#fb2a1c"/>
<rect x="116.40" y="992.20" width="4.95" height="4.95" fill="#fb2a1c"/>
<rect x="185.00" y="992.20" width="9.85" height="4.95" fill="#fb2a1c"/>
<rect x="351.60" y="992.20" width="4.95" height="4.95" fill="#fb2a1c"/>
<rect x="361.40" y="992.20" width="4.95" height="4.95" fill="#fb2a1c"/>
<rect x="77.20" y="997.10" width="4.95" height="4.95" fill="#fb2a1c"/>
<rect x="116.40" y="997.10" width="4.95" height="4.95" fill="#fb2a1c"/>
<rect x="185.00" y="997.10" width="4.95" height="4.95" fill="#fb2a1c"/>
<rect x="356.50" y="997.10" width="9.85" height="4.95" fill="#fb2a1c"/>
<rect x="503.50" y="997.10" width="4.95" height="4.95" fill="#fb2a1c"/>
<rect x="77.20" y="1002.00" width="4.95" height="4.95" fill="#fb2a1c"/>
<rect x="116.40" y="1002.00" width="4.95" height="4.95" fill="#fb2a1c"/>
<rect x="189.90" y="1002.00" width="4.95" height="4.95" fill="#fb2a1c"/>
<rect x="341.80" y="1002.00" width="4.95" height="4.95" fill="#fb2a1c"/>
<rect x="356.50" y="1002.00" width="9.85" height="4.95" fill="#fb2a1c"/>
<rect x="77.20" y="1006.90" width="4.95" height="4.95" fill="#fb2a1c"/>
<rect x="185.00" y="1006.90" width="9.85" height="4.95" fill="#fb2a1c"/>
<rect x="346.70" y="1006.90" width="9.85" height="4.95" fill="#fb2a1c"/>
<rect x="361.40" y="1006.90" width="4.95" height="4.95" fill="#fb2a1c"/>
<rect x="77.20" y="1011.80" width="9.85" height="4.95" fill="#fb2a1c"/>
<rect x="185.00" y="1011.80" width="9.85" height="4.95" fill="#fb2a1c"/>
<rect x="341.80" y="1011.80" width="9.85" height="4.95" fill="#fb2a1c"/>
<rect x="356.50" y="1011.80" width="4.95" height="4.95" fill="#fb2a1c"/>
<rect x="77.20" y="1016.70" width="4.95" height="4.95" fill="#fb2a1c"/>
<rect x="185.00" y="1016.70" width="9.85" height="4.95" fill="#fb2a1c"/>
<rect x="273.20" y="1016.70" width="4.95" height="4.95" fill="#fb2a1c"/>
<rect x="381.00" y="1016.70" width="4.95" height="4.95" fill="#fb2a1c"/>
<rect x="430.00" y="1016.70" width="4.95" height="4.95" fill="#fb2a1c"/>
<rect x="77.20" y="1021.60" width="4.95" height="4.95" fill="#fb2a1c"/>
<rect x="116.40" y="1021.60" width="4.95" height="4.95" fill="#fb2a1c"/>
<rect x="126.20" y="1021.60" width="4.95" height="4.95" fill="#fb2a1c"/>
<rect x="77.20" y="1026.50" width="4.95" height="4.95" fill="#fb2a1c"/>
<rect x="185.00" y="1026.50" width="4.95" height="4.95" fill="#fb2a1c"/>
<rect x="253.60" y="1026.50" width="4.95" height="4.95" fill="#fb2a1c"/>
<rect x="410.40" y="1026.50" width="4.95" height="4.95" fill="#fb2a1c"/>
<rect x="430.00" y="1026.50" width="4.95" height="4.95" fill="#fb2a1c"/>
<rect x="77.20" y="1031.40" width="4.95" height="4.95" fill="#fb2a1c"/>
<rect x="185.00" y="1031.40" width="4.95" height="4.95" fill="#fb2a1c"/>
<rect x="273.20" y="1031.40" width="4.95" height="4.95" fill="#fb2a1c"/>
<rect x="366.30" y="1031.40" width="4.95" height="4.95" fill="#fb2a1c"/>
<rect x="430.00" y="1031.40" width="4.95" height="4.95" fill="#fb2a1c"/>
<rect x="77.20" y="1036.30" width="4.95" height="4.95" fill="#fb2a1c"/>
<rect x="400.60" y="1036.30" width="4.95" height="4.95" fill="#fb2a1c"/>
<rect x="430.00" y="1036.30" width="4.95" height="4.95" fill="#fb2a1c"/>
<rect x="77.20" y="1041.20" width="4.95" height="4.95" fill="#fb2a1c"/>
<rect x="523.10" y="1041.20" width="4.95" height="4.95" fill="#fb2a1c"/>
<rect x="77.20" y="1046.10" width="4.95" height="4.95" fill="#fb2a1c"/>
<rect x="410.40" y="1046.10" width="4.95" height="4.95" fill="#fb2a1c"/>
<rect x="523.10" y="1046.10" width="4.95" height="4.95" fill="#fb2a1c"/>
<rect x="77.20" y="1051.00" width="4.95" height="4.95" fill="#fb2a1c"/>
<rect x="385.90" y="1051.00" width="4.95" height="4.95" fill="#fb2a1c"/>
<rect x="430.00" y="1051.00" width="4.95" height="4.95" fill="#fb2a1c"/>
<rect x="77.20" y="1055.90" width="4.95" height="4.95" fill="#fb2a1c"/>
<rect x="116.40" y="1055.90" width="4.95" height="4.95" fill="#fb2a1c"/>
<rect x="434.90" y="1055.90" width="4.95" height="4.95" fill="#fb2a1c"/>
<rect x="77.20" y="1060.80" width="4.95" height="4.95" fill="#fb2a1c"/>
<rect x="376.10" y="1060.80" width="4.95" height="4.95" fill="#fb2a1c"/>
<rect x="395.70" y="1060.80" width="4.95" height="4.95" fill="#fb2a1c"/>
<rect x="523.10" y="1060.80" width="4.95" height="4.95" fill="#fb2a1c"/>
<rect x="165.40" y="1065.70" width="9.85" height="4.95" fill="#fb2a1c"/>
<rect x="258.50" y="1065.70" width="4.95" height="4.95" fill="#fb2a1c"/>
<rect x="425.10" y="1065.70" width="4.95" height="4.95" fill="#fb2a1c"/>
<rect x="459.40" y="1065.70" width="4.95" height="4.95" fill="#fb2a1c"/>
<rect x="508.40" y="1065.70" width="4.95" height="4.95" fill="#fb2a1c"/>
<rect x="523.10" y="1065.70" width="4.95" height="4.95" fill="#fb2a1c"/>
<rect x="126.20" y="1070.60" width="4.95" height="4.95" fill="#fb2a1c"/>
<rect x="513.30" y="1070.60" width="4.95" height="4.95" fill="#fb2a1c"/>
<rect x="67.40" y="1075.50" width="4.95" height="4.95" fill="#fb2a1c"/>
<rect x="82.10" y="1075.50" width="4.95" height="4.95" fill="#fb2a1c"/>
<rect x="126.20" y="1075.50" width="9.85" height="4.95" fill="#fb2a1c"/>
<rect x="170.30" y="1075.50" width="9.85" height="4.95" fill="#fb2a1c"/>
<rect x="185.00" y="1075.50" width="4.95" height="4.95" fill="#fb2a1c"/>
<rect x="258.50" y="1075.50" width="4.95" height="4.95" fill="#fb2a1c"/>
<rect x="273.20" y="1075.50" width="4.95" height="4.95" fill="#fb2a1c"/>
<rect x="415.30" y="1075.50" width="4.95" height="4.95" fill="#fb2a1c"/>
<rect x="430.00" y="1075.50" width="4.95" height="4.95" fill="#fb2a1c"/>
<rect x="513.30" y="1075.50" width="9.85" height="4.95" fill="#fb2a1c"/>
<rect x="82.10" y="1080.40" width="4.95" height="4.95" fill="#fb2a1c"/>
<rect x="126.20" y="1080.40" width="9.85" height="4.95" fill="#fb2a1c"/>
<rect x="185.00" y="1080.40" width="14.75" height="4.95" fill="#fb2a1c"/>
<rect x="214.40" y="1080.40" width="9.85" height="4.95" fill="#fb2a1c"/>
<rect x="253.60" y="1080.40" width="4.95" height="4.95" fill="#fb2a1c"/>
<rect x="273.20" y="1080.40" width="4.95" height="4.95" fill="#fb2a1c"/>
<rect x="366.30" y="1080.40" width="4.95" height="4.95" fill="#fb2a1c"/>
<rect x="376.10" y="1080.40" width="14.75" height="4.95" fill="#fb2a1c"/>
<rect x="400.60" y="1080.40" width="4.95" height="4.95" fill="#fb2a1c"/>
<rect x="425.10" y="1080.40" width="4.95" height="4.95" fill="#fb2a1c"/>
<rect x="508.40" y="1080.40" width="4.95" height="4.95" fill="#fb2a1c"/>
<rect x="518.20" y="1080.40" width="4.95" height="4.95" fill="#fb2a1c"/>
<rect x="82.10" y="1085.30" width="4.95" height="4.95" fill="#fb2a1c"/>
<rect x="91.90" y="1085.30" width="9.85" height="4.95" fill="#fb2a1c"/>
<rect x="126.20" y="1085.30" width="9.85" height="4.95" fill="#fb2a1c"/>
<rect x="214.40" y="1085.30" width="9.85" height="4.95" fill="#fb2a1c"/>
<rect x="268.30" y="1085.30" width="4.95" height="4.95" fill="#fb2a1c"/>
<rect x="278.10" y="1085.30" width="4.95" height="4.95" fill="#fb2a1c"/>
<rect x="312.40" y="1085.30" width="14.75" height="4.95" fill="#fb2a1c"/>
<rect x="405.50" y="1085.30" width="4.95" height="4.95" fill="#fb2a1c"/>
<rect x="444.70" y="1085.30" width="4.95" height="4.95" fill="#fb2a1c"/>
<rect x="518.20" y="1085.30" width="4.95" height="4.95" fill="#fb2a1c"/>
<rect x="87.00" y="1090.20" width="4.95" height="4.95" fill="#fb2a1c"/>
<rect x="96.80" y="1090.20" width="4.95" height="4.95" fill="#fb2a1c"/>
<rect x="194.80" y="1090.20" width="4.95" height="4.95" fill="#fb2a1c"/>
<rect x="209.50" y="1090.20" width="19.65" height="4.95" fill="#fb2a1c"/>
<rect x="283.00" y="1090.20" width="4.95" height="4.95" fill="#fb2a1c"/>
<rect x="297.70" y="1090.20" width="24.55" height="4.95" fill="#fb2a1c"/>
<rect x="444.70" y="1090.20" width="4.95" height="4.95" fill="#fb2a1c"/>
<rect x="469.20" y="1090.20" width="4.95" height="4.95" fill="#fb2a1c"/>
<rect x="67.40" y="1095.10" width="4.95" height="4.95" fill="#fb2a1c"/>
<rect x="96.80" y="1095.10" width="4.95" height="4.95" fill="#fb2a1c"/>
<rect x="136.00" y="1095.10" width="4.95" height="4.95" fill="#fb2a1c"/>
<rect x="224.20" y="1095.10" width="4.95" height="4.95" fill="#fb2a1c"/>
<rect x="278.10" y="1095.10" width="4.95" height="4.95" fill="#fb2a1c"/>
<rect x="292.80" y="1095.10" width="4.95" height="4.95" fill="#fb2a1c"/>
<rect x="317.30" y="1095.10" width="9.85" height="4.95" fill="#fb2a1c"/>
<rect x="434.90" y="1095.10" width="9.85" height="4.95" fill="#fb2a1c"/>
<rect x="454.50" y="1095.10" width="4.95" height="4.95" fill="#fb2a1c"/>
<rect x="82.10" y="1100.00" width="4.95" height="4.95" fill="#fb2a1c"/>
<rect x="131.10" y="1100.00" width="9.85" height="4.95" fill="#fb2a1c"/>
<rect x="185.00" y="1100.00" width="4.95" height="4.95" fill="#fb2a1c"/>
<rect x="214.40" y="1100.00" width="4.95" height="4.95" fill="#fb2a1c"/>
<rect x="224.20" y="1100.00" width="4.95" height="4.95" fill="#fb2a1c"/>
<rect x="287.90" y="1100.00" width="4.95" height="4.95" fill="#fb2a1c"/>
<rect x="312.40" y="1100.00" width="4.95" height="4.95" fill="#fb2a1c"/>
<rect x="454.50" y="1100.00" width="4.95" height="4.95" fill="#fb2a1c"/>
<rect x="136.00" y="1104.90" width="4.95" height="4.95" fill="#fb2a1c"/>
<rect x="283.00" y="1104.90" width="14.75" height="4.95" fill="#fb2a1c"/>
<rect x="444.70" y="1104.90" width="9.85" height="4.95" fill="#fb2a1c"/>
<rect x="464.30" y="1104.90" width="4.95" height="4.95" fill="#fb2a1c"/>
<rect x="96.80" y="1109.80" width="4.95" height="4.95" fill="#fb2a1c"/>
<rect x="170.30" y="1109.80" width="4.95" height="4.95" fill="#fb2a1c"/>
<rect x="292.80" y="1109.80" width="4.95" height="4.95" fill="#fb2a1c"/>
<rect x="312.40" y="1109.80" width="4.95" height="4.95" fill="#fb2a1c"/>
<rect x="415.30" y="1109.80" width="4.95" height="4.95" fill="#fb2a1c"/>
<rect x="469.20" y="1109.80" width="4.95" height="4.95" fill="#fb2a1c"/>
<rect x="96.80" y="1114.70" width="4.95" height="4.95" fill="#fb2a1c"/>
<rect x="283.00" y="1114.70" width="4.95" height="4.95" fill="#fb2a1c"/>
<rect x="302.60" y="1114.70" width="4.95" height="4.95" fill="#fb2a1c"/>
<rect x="312.40" y="1114.70" width="4.95" height="4.95" fill="#fb2a1c"/>
<rect x="454.50" y="1114.70" width="9.85" height="4.95" fill="#fb2a1c"/>
<rect x="469.20" y="1114.70" width="4.95" height="4.95" fill="#fb2a1c"/>
<rect x="508.40" y="1114.70" width="4.95" height="4.95" fill="#fb2a1c"/>
<rect x="96.80" y="1119.60" width="4.95" height="4.95" fill="#fb2a1c"/>
<rect x="126.20" y="1119.60" width="4.95" height="4.95" fill="#fb2a1c"/>
<rect x="199.70" y="1119.60" width="9.85" height="4.95" fill="#fb2a1c"/>
<rect x="224.20" y="1119.60" width="4.95" height="4.95" fill="#fb2a1c"/>
<rect x="263.40" y="1119.60" width="4.95" height="4.95" fill="#fb2a1c"/>
<rect x="283.00" y="1119.60" width="4.95" height="4.95" fill="#fb2a1c"/>
<rect x="297.70" y="1119.60" width="4.95" height="4.95" fill="#fb2a1c"/>
<rect x="312.40" y="1119.60" width="4.95" height="4.95" fill="#fb2a1c"/>
<rect x="439.80" y="1119.60" width="4.95" height="4.95" fill="#fb2a1c"/>
<rect x="459.40" y="1119.60" width="9.85" height="4.95" fill="#fb2a1c"/>
<rect x="513.30" y="1119.60" width="9.85" height="4.95" fill="#fb2a1c"/>
<rect x="77.20" y="1149.00" width="19.65" height="4.95" fill="#fb2a1c"/>
<rect x="116.40" y="1149.00" width="4.95" height="4.95" fill="#fb2a1c"/>
<rect x="126.20" y="1149.00" width="4.95" height="4.95" fill="#fb2a1c"/>
<rect x="160.50" y="1149.00" width="4.95" height="4.95" fill="#fb2a1c"/>
<rect x="278.10" y="1149.00" width="4.95" height="4.95" fill="#fb2a1c"/>
<rect x="77.20" y="1153.90" width="4.95" height="4.95" fill="#fb2a1c"/>
<rect x="121.30" y="1153.90" width="4.95" height="4.95" fill="#fb2a1c"/>
<rect x="165.40" y="1153.90" width="9.85" height="4.95" fill="#fb2a1c"/>
<rect x="180.10" y="1153.90" width="9.85" height="4.95" fill="#fb2a1c"/>
<rect x="258.50" y="1153.90" width="4.95" height="4.95" fill="#fb2a1c"/>
<rect x="346.70" y="1153.90" width="4.95" height="4.95" fill="#fb2a1c"/>
<rect x="523.10" y="1153.90" width="4.95" height="4.95" fill="#fb2a1c"/>
<rect x="180.10" y="1158.80" width="9.85" height="4.95" fill="#fb2a1c"/>
<rect x="204.60" y="1158.80" width="4.95" height="4.95" fill="#fb2a1c"/>
<rect x="268.30" y="1158.80" width="9.85" height="4.95" fill="#fb2a1c"/>
<rect x="415.30" y="1158.80" width="4.95" height="4.95" fill="#fb2a1c"/>
<rect x="430.00" y="1158.80" width="4.95" height="4.95" fill="#fb2a1c"/>
<rect x="464.30" y="1158.80" width="4.95" height="4.95" fill="#fb2a1c"/>
<rect x="126.20" y="1163.70" width="4.95" height="4.95" fill="#fb2a1c"/>
<rect x="170.30" y="1163.70" width="14.75" height="4.95" fill="#fb2a1c"/>
<rect x="263.40" y="1163.70" width="14.75" height="4.95" fill="#fb2a1c"/>
<rect x="302.60" y="1163.70" width="4.95" height="4.95" fill="#fb2a1c"/>
<rect x="420.20" y="1163.70" width="9.85" height="4.95" fill="#fb2a1c"/>
<rect x="469.20" y="1163.70" width="4.95" height="4.95" fill="#fb2a1c"/>
<rect x="518.20" y="1163.70" width="4.95" height="4.95" fill="#fb2a1c"/>
<rect x="82.10" y="1168.60" width="4.95" height="4.95" fill="#fb2a1c"/>
<rect x="91.90" y="1168.60" width="4.95" height="4.95" fill="#fb2a1c"/>
<rect x="126.20" y="1168.60" width="4.95" height="4.95" fill="#fb2a1c"/>
<rect x="175.20" y="1168.60" width="19.65" height="4.95" fill="#fb2a1c"/>
<rect x="209.50" y="1168.60" width="4.95" height="4.95" fill="#fb2a1c"/>
<rect x="268.30" y="1168.60" width="9.85" height="4.95" fill="#fb2a1c"/>
<rect x="302.60" y="1168.60" width="4.95" height="4.95" fill="#fb2a1c"/>
<rect x="425.10" y="1168.60" width="14.75" height="4.95" fill="#fb2a1c"/>
<rect x="469.20" y="1168.60" width="4.95" height="4.95" fill="#fb2a1c"/>
<rect x="513.30" y="1168.60" width="4.95" height="4.95" fill="#fb2a1c"/>
<rect x="165.40" y="1173.50" width="4.95" height="4.95" fill="#fb2a1c"/>
<rect x="185.00" y="1173.50" width="9.85" height="4.95" fill="#fb2a1c"/>
<rect x="258.50" y="1173.50" width="4.95" height="4.95" fill="#fb2a1c"/>
<rect x="273.20" y="1173.50" width="4.95" height="4.95" fill="#fb2a1c"/>
<rect x="292.80" y="1173.50" width="4.95" height="4.95" fill="#fb2a1c"/>
<rect x="390.80" y="1173.50" width="9.85" height="4.95" fill="#fb2a1c"/>
<rect x="410.40" y="1173.50" width="9.85" height="4.95" fill="#fb2a1c"/>
<rect x="503.50" y="1173.50" width="4.95" height="4.95" fill="#fb2a1c"/></g>
<rect x="72.30" y="716.80" width="4.90" height="462.6" fill="#fff"/>
<rect x="66.40" y="722.70" width="462.60" height="4.90" fill="#fff"/>
<rect x="111.50" y="716.80" width="4.90" height="462.6" fill="#fff"/>
<rect x="66.40" y="761.90" width="462.60" height="4.90" fill="#fff"/>
<rect x="150.70" y="716.80" width="4.90" height="462.6" fill="#fff"/>
<rect x="66.40" y="801.10" width="462.60" height="4.90" fill="#fff"/>
<rect x="238.90" y="716.80" width="4.90" height="462.6" fill="#fff"/>
<rect x="66.40" y="889.30" width="462.60" height="4.90" fill="#fff"/>
<rect x="327.10" y="716.80" width="4.90" height="462.6" fill="#fff"/>
<rect x="66.40" y="977.50" width="462.60" height="4.90" fill="#fff"/>
<rect x="474.10" y="716.80" width="24.50" height="462.6" fill="#fff"/>
<rect x="66.40" y="1124.50" width="462.60" height="24.50" fill="#fff"/>
<circle cx="69.40" cy="719.50" r="2.4" fill="none" stroke="#0b1450" stroke-width="0.9"/>
<circle cx="73.80" cy="723.30" r="2.4" fill="none" stroke="#0b1450" stroke-width="0.9"/>
<line x1="67.4" y1="717.8" x2="528.0" y2="1178.4" stroke="#d8f06a" stroke-width="2" stroke-dasharray="11.5 5.8"/>
<line x1="77.20" y1="698.80" x2="77.20" y2="1178.40" stroke="#5aee36" stroke-width="2.4"/>
<line x1="67.40" y1="727.60" x2="544.40" y2="727.60" stroke="#5aee36" stroke-width="2.4"/>
<line x1="87.00" y1="698.80" x2="87.00" y2="1178.40" stroke="#5aee36" stroke-width="2.4"/>
<line x1="67.40" y1="737.40" x2="544.40" y2="737.40" stroke="#5aee36" stroke-width="2.4"/>
<line x1="116.40" y1="698.80" x2="116.40" y2="1178.40" stroke="#5aee36" stroke-width="2.4"/>
<line x1="67.40" y1="766.80" x2="544.40" y2="766.80" stroke="#5aee36" stroke-width="2.4"/>
<line x1="126.20" y1="698.80" x2="126.20" y2="1178.40" stroke="#5aee36" stroke-width="2.4"/>
<line x1="67.40" y1="776.60" x2="544.40" y2="776.60" stroke="#5aee36" stroke-width="2.4"/>
<line x1="155.60" y1="698.80" x2="155.60" y2="1178.40" stroke="#5aee36" stroke-width="2.4"/>
<line x1="67.40" y1="806.00" x2="544.40" y2="806.00" stroke="#5aee36" stroke-width="2.4"/>
<line x1="165.40" y1="698.80" x2="165.40" y2="1178.40" stroke="#5aee36" stroke-width="2.4"/>
<line x1="67.40" y1="815.80" x2="544.40" y2="815.80" stroke="#5aee36" stroke-width="2.4"/>
<line x1="214.40" y1="698.80" x2="214.40" y2="1178.40" stroke="#5aee36" stroke-width="2.4"/>
<line x1="67.40" y1="864.80" x2="544.40" y2="864.80" stroke="#5aee36" stroke-width="2.4"/>
<line x1="243.80" y1="698.80" x2="243.80" y2="1178.40" stroke="#5aee36" stroke-width="2.4"/>
<line x1="67.40" y1="894.20" x2="544.40" y2="894.20" stroke="#5aee36" stroke-width="2.4"/>
<line x1="253.60" y1="698.80" x2="253.60" y2="1178.40" stroke="#5aee36" stroke-width="2.4"/>
<line x1="67.40" y1="904.00" x2="544.40" y2="904.00" stroke="#5aee36" stroke-width="2.4"/>
<line x1="302.60" y1="698.80" x2="302.60" y2="1178.40" stroke="#5aee36" stroke-width="2.4"/>
<line x1="67.40" y1="953.00" x2="544.40" y2="953.00" stroke="#5aee36" stroke-width="2.4"/>
<line x1="332.00" y1="698.80" x2="332.00" y2="1178.40" stroke="#5aee36" stroke-width="2.4"/>
<line x1="67.40" y1="982.40" x2="544.40" y2="982.40" stroke="#5aee36" stroke-width="2.4"/>
<line x1="341.80" y1="698.80" x2="341.80" y2="1178.40" stroke="#5aee36" stroke-width="2.4"/>
<line x1="67.40" y1="992.20" x2="544.40" y2="992.20" stroke="#5aee36" stroke-width="2.4"/>
<line x1="410.40" y1="698.80" x2="410.40" y2="1178.40" stroke="#5aee36" stroke-width="2.4"/>
<line x1="67.40" y1="1060.80" x2="544.40" y2="1060.80" stroke="#5aee36" stroke-width="2.4"/>
<line x1="459.40" y1="698.80" x2="459.40" y2="1178.40" stroke="#5aee36" stroke-width="2.4"/>
<line x1="67.40" y1="1109.80" x2="544.40" y2="1109.80" stroke="#5aee36" stroke-width="2.4"/>
<line x1="488.80" y1="698.80" x2="488.80" y2="1178.40" stroke="#5aee36" stroke-width="2.4"/>
<line x1="67.40" y1="1139.20" x2="544.40" y2="1139.20" stroke="#5aee36" stroke-width="2.4"/>
<line x1="498.60" y1="698.80" x2="498.60" y2="1178.40" stroke="#5aee36" stroke-width="2.4"/>
<line x1="67.40" y1="1149.00" x2="544.40" y2="1149.00" stroke="#5aee36" stroke-width="2.4"/>
<line x1="69.85" y1="1179.40" x2="69.85" y2="1182.90" stroke="#333" stroke-width="0.9"/>
<line x1="63.90" y1="720.25" x2="66.40" y2="720.25" stroke="#333" stroke-width="0.9"/>
<text x="69.85" y="1202.00" text-anchor="middle" font-family="'Liberation Sans', Arial, sans-serif" font-size="16.6" fill="#1a1a1a">1</text>
<text x="54.90" y="725.65" text-anchor="end" font-family="'Liberation Sans', Arial, sans-serif" font-size="16.6" fill="#1a1a1a">1</text>
<line x1="89.45" y1="1179.40" x2="89.45" y2="1182.90" stroke="#333" stroke-width="0.9"/>
<line x1="63.90" y1="739.85" x2="66.40" y2="739.85" stroke="#333" stroke-width="0.9"/>
<text x="89.45" y="1202.00" text-anchor="middle" font-family="'Liberation Sans', Arial, sans-serif" font-size="16.6" fill="#1a1a1a">5</text>
<text x="54.90" y="745.25" text-anchor="end" font-family="'Liberation Sans', Arial, sans-serif" font-size="16.6" fill="#1a1a1a">5</text>
<line x1="109.05" y1="1179.40" x2="109.05" y2="1182.90" stroke="#333" stroke-width="0.9"/>
<line x1="63.90" y1="759.45" x2="66.40" y2="759.45" stroke="#333" stroke-width="0.9"/>
<text x="109.35" y="1201.40" text-anchor="middle" font-family="'Liberation Serif', 'Times New Roman', serif" font-size="16.4" fill="#1a1a1a">9</text>
<text x="54.90" y="764.85" text-anchor="end" font-family="'Liberation Sans', Arial, sans-serif" font-size="16.6" fill="#1a1a1a">9</text>
<line x1="128.65" y1="1179.40" x2="128.65" y2="1182.90" stroke="#333" stroke-width="0.9"/>
<line x1="63.90" y1="779.05" x2="66.40" y2="779.05" stroke="#333" stroke-width="0.9"/>
<text x="128.65" y="1202.00" text-anchor="middle" font-family="'Liberation Sans', Arial, sans-serif" font-size="16.6" fill="#1a1a1a">13</text>
<text x="54.90" y="784.45" text-anchor="end" font-family="'Liberation Sans', Arial, sans-serif" font-size="16.6" fill="#1a1a1a">13</text>
<line x1="148.25" y1="1179.40" x2="148.25" y2="1182.90" stroke="#333" stroke-width="0.9"/>
<line x1="63.90" y1="798.65" x2="66.40" y2="798.65" stroke="#333" stroke-width="0.9"/>
<text x="148.25" y="1202.00" text-anchor="middle" font-family="'Liberation Sans', Arial, sans-serif" font-size="16.6" fill="#1a1a1a">17</text>
<text x="54.90" y="804.05" text-anchor="end" font-family="'Liberation Sans', Arial, sans-serif" font-size="16.6" fill="#1a1a1a">17</text>
<line x1="167.85" y1="1179.40" x2="167.85" y2="1182.90" stroke="#333" stroke-width="0.9"/>
<line x1="63.90" y1="818.25" x2="66.40" y2="818.25" stroke="#333" stroke-width="0.9"/>
<text x="167.85" y="1202.00" text-anchor="middle" font-family="'Liberation Sans', Arial, sans-serif" font-size="16.6" fill="#1a1a1a">21</text>
<text x="54.90" y="823.65" text-anchor="end" font-family="'Liberation Sans', Arial, sans-serif" font-size="16.6" fill="#1a1a1a">21</text>
<line x1="187.45" y1="1179.40" x2="187.45" y2="1182.90" stroke="#333" stroke-width="0.9"/>
<line x1="63.90" y1="837.85" x2="66.40" y2="837.85" stroke="#333" stroke-width="0.9"/>
<text x="187.45" y="1202.00" text-anchor="middle" font-family="'Liberation Sans', Arial, sans-serif" font-size="16.6" fill="#1a1a1a">25</text>
<text x="54.90" y="843.25" text-anchor="end" font-family="'Liberation Sans', Arial, sans-serif" font-size="16.6" fill="#1a1a1a">25</text>
<line x1="207.05" y1="1179.40" x2="207.05" y2="1182.90" stroke="#333" stroke-width="0.9"/>
<line x1="63.90" y1="857.45" x2="66.40" y2="857.45" stroke="#333" stroke-width="0.9"/>
<text x="207.05" y="1202.00" text-anchor="middle" font-family="'Liberation Sans', Arial, sans-serif" font-size="16.6" fill="#1a1a1a">29</text>
<text x="54.90" y="862.85" text-anchor="end" font-family="'Liberation Sans', Arial, sans-serif" font-size="16.6" fill="#1a1a1a">29</text>
<line x1="226.65" y1="1179.40" x2="226.65" y2="1182.90" stroke="#333" stroke-width="0.9"/>
<line x1="63.90" y1="877.05" x2="66.40" y2="877.05" stroke="#333" stroke-width="0.9"/>
<text x="226.65" y="1202.00" text-anchor="middle" font-family="'Liberation Sans', Arial, sans-serif" font-size="16.6" fill="#1a1a1a">33</text>
<text x="54.90" y="882.45" text-anchor="end" font-family="'Liberation Sans', Arial, sans-serif" font-size="16.6" fill="#1a1a1a">33</text>
<line x1="246.25" y1="1179.40" x2="246.25" y2="1182.90" stroke="#333" stroke-width="0.9"/>
<line x1="63.90" y1="896.65" x2="66.40" y2="896.65" stroke="#333" stroke-width="0.9"/>
<text x="246.25" y="1202.00" text-anchor="middle" font-family="'Liberation Sans', Arial, sans-serif" font-size="16.6" fill="#1a1a1a">37</text>
<text x="54.90" y="902.05" text-anchor="end" font-family="'Liberation Sans', Arial, sans-serif" font-size="16.6" fill="#1a1a1a">37</text>
<line x1="265.85" y1="1179.40" x2="265.85" y2="1182.90" stroke="#333" stroke-width="0.9"/>
<line x1="63.90" y1="916.25" x2="66.40" y2="916.25" stroke="#333" stroke-width="0.9"/>
<text x="265.85" y="1202.00" text-anchor="middle" font-family="'Liberation Sans', Arial, sans-serif" font-size="16.6" fill="#1a1a1a">41</text>
<text x="54.90" y="921.65" text-anchor="end" font-family="'Liberation Sans', Arial, sans-serif" font-size="16.6" fill="#1a1a1a">41</text>
<line x1="285.45" y1="1179.40" x2="285.45" y2="1182.90" stroke="#333" stroke-width="0.9"/>
<line x1="63.90" y1="935.85" x2="66.40" y2="935.85" stroke="#333" stroke-width="0.9"/>
<text x="285.45" y="1202.00" text-anchor="middle" font-family="'Liberation Sans', Arial, sans-serif" font-size="16.6" fill="#1a1a1a">45</text>
<text x="54.90" y="941.25" text-anchor="end" font-family="'Liberation Sans', Arial, sans-serif" font-size="16.6" fill="#1a1a1a">45</text>
<line x1="305.05" y1="1179.40" x2="305.05" y2="1182.90" stroke="#333" stroke-width="0.9"/>
<line x1="63.90" y1="955.45" x2="66.40" y2="955.45" stroke="#333" stroke-width="0.9"/>
<text x="305.05" y="1202.00" text-anchor="middle" font-family="'Liberation Sans', Arial, sans-serif" font-size="16.6" fill="#1a1a1a">49</text>
<text x="54.90" y="960.85" text-anchor="end" font-family="'Liberation Sans', Arial, sans-serif" font-size="16.6" fill="#1a1a1a">49</text>
<line x1="324.65" y1="1179.40" x2="324.65" y2="1182.90" stroke="#333" stroke-width="0.9"/>
<line x1="63.90" y1="975.05" x2="66.40" y2="975.05" stroke="#333" stroke-width="0.9"/>
<text x="324.65" y="1202.00" text-anchor="middle" font-family="'Liberation Sans', Arial, sans-serif" font-size="16.6" fill="#1a1a1a">53</text>
<text x="54.90" y="980.45" text-anchor="end" font-family="'Liberation Sans', Arial, sans-serif" font-size="16.6" fill="#1a1a1a">53</text>
<line x1="344.25" y1="1179.40" x2="344.25" y2="1182.90" stroke="#333" stroke-width="0.9"/>
<line x1="63.90" y1="994.65" x2="66.40" y2="994.65" stroke="#333" stroke-width="0.9"/>
<text x="344.25" y="1202.00" text-anchor="middle" font-family="'Liberation Sans', Arial, sans-serif" font-size="16.6" fill="#1a1a1a">57</text>
<text x="54.90" y="1000.05" text-anchor="end" font-family="'Liberation Sans', Arial, sans-serif" font-size="16.6" fill="#1a1a1a">57</text>
<line x1="363.85" y1="1179.40" x2="363.85" y2="1182.90" stroke="#333" stroke-width="0.9"/>
<line x1="63.90" y1="1014.25" x2="66.40" y2="1014.25" stroke="#333" stroke-width="0.9"/>
<text x="363.85" y="1202.00" text-anchor="middle" font-family="'Liberation Sans', Arial, sans-serif" font-size="16.6" fill="#1a1a1a">61</text>
<text x="54.90" y="1019.65" text-anchor="end" font-family="'Liberation Sans', Arial, sans-serif" font-size="16.6" fill="#1a1a1a">61</text>
<line x1="383.45" y1="1179.40" x2="383.45" y2="1182.90" stroke="#333" stroke-width="0.9"/>
<line x1="63.90" y1="1033.85" x2="66.40" y2="1033.85" stroke="#333" stroke-width="0.9"/>
<text x="383.45" y="1202.00" text-anchor="middle" font-family="'Liberation Sans', Arial, sans-serif" font-size="16.6" fill="#1a1a1a">65</text>
<text x="54.90" y="1039.25" text-anchor="end" font-family="'Liberation Sans', Arial, sans-serif" font-size="16.6" fill="#1a1a1a">65</text>
<line x1="403.05" y1="1179.40" x2="403.05" y2="1182.90" stroke="#333" stroke-width="0.9"/>
<line x1="63.90" y1="1053.45" x2="66.40" y2="1053.45" stroke="#333" stroke-width="0.9"/>
<text x="403.05" y="1202.00" text-anchor="middle" font-family="'Liberation Sans', Arial, sans-serif" font-size="16.6" fill="#1a1a1a">69</text>
<text x="54.90" y="1058.85" text-anchor="end" font-family="'Liberation Sans', Arial, sans-serif" font-size="16.6" fill="#1a1a1a">69</text>
<line x1="422.65" y1="1179.40" x2="422.65" y2="1182.90" stroke="#333" stroke-width="0.9"/>
<line x1="63.90" y1="1073.05" x2="66.40" y2="1073.05" stroke="#333" stroke-width="0.9"/>
<text x="422.65" y="1202.00" text-anchor="middle" font-family="'Liberation Sans', Arial, sans-serif" font-size="16.6" fill="#1a1a1a">73</text>
<text x="54.90" y="1078.45" text-anchor="end" font-family="'Liberation Sans', Arial, sans-serif" font-size="16.6" fill="#1a1a1a">73</text>
<line x1="442.25" y1="1179.40" x2="442.25" y2="1182.90" stroke="#333" stroke-width="0.9"/>
<line x1="63.90" y1="1092.65" x2="66.40" y2="1092.65" stroke="#333" stroke-width="0.9"/>
<text x="442.25" y="1202.00" text-anchor="middle" font-family="'Liberation Sans', Arial, sans-serif" font-size="16.6" fill="#1a1a1a">77</text>
<text x="54.90" y="1098.05" text-anchor="end" font-family="'Liberation Sans', Arial, sans-serif" font-size="16.6" fill="#1a1a1a">77</text>
<line x1="461.85" y1="1179.40" x2="461.85" y2="1182.90" stroke="#333" stroke-width="0.9"/>
<line x1="63.90" y1="1112.25" x2="66.40" y2="1112.25" stroke="#333" stroke-width="0.9"/>
<text x="461.85" y="1202.00" text-anchor="middle" font-family="'Liberation Sans', Arial, sans-serif" font-size="16.6" fill="#1a1a1a">81</text>
<text x="54.90" y="1117.65" text-anchor="end" font-family="'Liberation Sans', Arial, sans-serif" font-size="16.6" fill="#1a1a1a">81</text>
<line x1="481.45" y1="1179.40" x2="481.45" y2="1182.90" stroke="#333" stroke-width="0.9"/>
<line x1="63.90" y1="1131.85" x2="66.40" y2="1131.85" stroke="#333" stroke-width="0.9"/>
<text x="481.45" y="1202.00" text-anchor="middle" font-family="'Liberation Sans', Arial, sans-serif" font-size="16.6" fill="#1a1a1a">85</text>
<text x="54.90" y="1137.25" text-anchor="end" font-family="'Liberation Sans', Arial, sans-serif" font-size="16.6" fill="#1a1a1a">85</text>
<line x1="501.05" y1="1179.40" x2="501.05" y2="1182.90" stroke="#333" stroke-width="0.9"/>
<line x1="63.90" y1="1151.45" x2="66.40" y2="1151.45" stroke="#333" stroke-width="0.9"/>
<text x="501.05" y="1202.00" text-anchor="middle" font-family="'Liberation Sans', Arial, sans-serif" font-size="16.6" fill="#1a1a1a">89</text>
<text x="54.90" y="1156.85" text-anchor="end" font-family="'Liberation Sans', Arial, sans-serif" font-size="16.6" fill="#1a1a1a">89</text>
<line x1="520.65" y1="1179.40" x2="520.65" y2="1182.90" stroke="#333" stroke-width="0.9"/>
<line x1="63.90" y1="1171.05" x2="66.40" y2="1171.05" stroke="#333" stroke-width="0.9"/>
<text x="520.65" y="1202.00" text-anchor="middle" font-family="'Liberation Sans', Arial, sans-serif" font-size="16.6" fill="#1a1a1a">93</text>
<text x="54.90" y="1176.45" text-anchor="end" font-family="'Liberation Sans', Arial, sans-serif" font-size="16.6" fill="#1a1a1a">93</text>
<text x="56.20" y="695.50" font-family="'Liberation Sans', Arial, sans-serif" font-size="16.8" fill="#1a1a1a">1<tspan font-style="italic">s</tspan></text>
<text x="547.90" y="721.60" font-family="'Liberation Sans', Arial, sans-serif" font-size="16.8" fill="#1a1a1a">1<tspan font-style="italic">s</tspan></text>
<text x="72.80" y="695.50" font-family="'Liberation Sans', Arial, sans-serif" font-size="16.8" fill="#1a1a1a">2<tspan font-style="italic">s</tspan></text>
<text x="547.90" y="737.80" font-family="'Liberation Sans', Arial, sans-serif" font-size="16.8" fill="#1a1a1a">2<tspan font-style="italic">s</tspan></text>
<text x="93.10" y="695.50" font-family="'Liberation Sans', Arial, sans-serif" font-size="16.8" fill="#1a1a1a">2<tspan font-style="italic">p</tspan></text>
<text x="547.90" y="757.10" font-family="'Liberation Sans', Arial, sans-serif" font-size="16.8" fill="#1a1a1a">2<tspan font-style="italic">p</tspan></text>
<text x="112.60" y="695.50" font-family="'Liberation Sans', Arial, sans-serif" font-size="16.8" fill="#1a1a1a">3<tspan font-style="italic">s</tspan></text>
<text x="547.90" y="776.10" font-family="'Liberation Sans', Arial, sans-serif" font-size="16.8" fill="#1a1a1a">3<tspan font-style="italic">s</tspan></text>
<text x="133.10" y="695.50" font-family="'Liberation Sans', Arial, sans-serif" font-size="16.8" fill="#1a1a1a">3<tspan font-style="italic">p</tspan></text>
<text x="547.90" y="795.60" font-family="'Liberation Sans', Arial, sans-serif" font-size="16.8" fill="#1a1a1a">3<tspan font-style="italic">p</tspan></text>
<text x="153.50" y="695.50" font-family="'Liberation Sans', Arial, sans-serif" font-size="16.8" fill="#1a1a1a">4<tspan font-style="italic">s</tspan></text>
<text x="547.90" y="815.10" font-family="'Liberation Sans', Arial, sans-serif" font-size="16.8" fill="#1a1a1a">4<tspan font-style="italic">s</tspan></text>
<text x="178.10" y="695.50" font-family="'Liberation Sans', Arial, sans-serif" font-size="16.8" fill="#1a1a1a">3<tspan font-style="italic">d</tspan></text>
<text x="547.90" y="842.60" font-family="'Liberation Sans', Arial, sans-serif" font-size="16.8" fill="#1a1a1a">3<tspan font-style="italic">d</tspan></text>
<text x="219.10" y="695.50" font-family="'Liberation Sans', Arial, sans-serif" font-size="16.8" fill="#1a1a1a">4<tspan font-style="italic">p</tspan></text>
<text x="547.90" y="884.10" font-family="'Liberation Sans', Arial, sans-serif" font-size="16.8" fill="#1a1a1a">4<tspan font-style="italic">p</tspan></text>
<text x="238.60" y="695.50" font-family="'Liberation Sans', Arial, sans-serif" font-size="16.8" fill="#1a1a1a">5<tspan font-style="italic">s</tspan></text>
<text x="547.90" y="904.40" font-family="'Liberation Sans', Arial, sans-serif" font-size="16.8" fill="#1a1a1a">5<tspan font-style="italic">s</tspan></text>
<text x="266.60" y="695.50" font-family="'Liberation Sans', Arial, sans-serif" font-size="16.8" fill="#1a1a1a">4<tspan font-style="italic">d</tspan></text>
<text x="547.90" y="934.20" font-family="'Liberation Sans', Arial, sans-serif" font-size="16.8" fill="#1a1a1a">4<tspan font-style="italic">d</tspan></text>
<text x="308.10" y="695.50" font-family="'Liberation Sans', Arial, sans-serif" font-size="16.8" fill="#1a1a1a">5<tspan font-style="italic">p</tspan></text>
<text x="547.90" y="973.80" font-family="'Liberation Sans', Arial, sans-serif" font-size="16.8" fill="#1a1a1a">5<tspan font-style="italic">p</tspan></text>
<text x="327.10" y="695.50" font-family="'Liberation Sans', Arial, sans-serif" font-size="16.8" fill="#1a1a1a">6<tspan font-style="italic">s</tspan></text>
<text x="547.90" y="993.10" font-family="'Liberation Sans', Arial, sans-serif" font-size="16.8" fill="#1a1a1a">6<tspan font-style="italic">s</tspan></text>
<text x="365.70" y="695.50" font-family="'Liberation Sans', Arial, sans-serif" font-size="16.8" fill="#1a1a1a">4<tspan font-style="italic">f</tspan></text>
<text x="547.90" y="1031.60" font-family="'Liberation Sans', Arial, sans-serif" font-size="16.8" fill="#1a1a1a">4<tspan font-style="italic">f</tspan></text>
<text x="425.50" y="695.50" font-family="'Liberation Sans', Arial, sans-serif" font-size="16.8" fill="#1a1a1a">5<tspan font-style="italic">d</tspan></text>
<text x="547.90" y="1092.10" font-family="'Liberation Sans', Arial, sans-serif" font-size="16.8" fill="#1a1a1a">5<tspan font-style="italic">d</tspan></text>
<text x="465.70" y="695.50" font-family="'Liberation Sans', Arial, sans-serif" font-size="16.8" fill="#1a1a1a">6<tspan font-style="italic">p</tspan></text>
<text x="547.90" y="1131.60" font-family="'Liberation Sans', Arial, sans-serif" font-size="16.8" fill="#1a1a1a">6<tspan font-style="italic">p</tspan></text>
<text x="485.90" y="695.50" font-family="'Liberation Sans', Arial, sans-serif" font-size="16.8" fill="#1a1a1a">7<tspan font-style="italic">s</tspan></text>
<text x="547.90" y="1150.90" font-family="'Liberation Sans', Arial, sans-serif" font-size="16.8" fill="#1a1a1a">7<tspan font-style="italic">s</tspan></text>
<text x="510.10" y="695.50" font-family="'Liberation Sans', Arial, sans-serif" font-size="16.8" fill="#1a1a1a">5<tspan font-style="italic">f</tspan></text>
<text x="547.90" y="1171.90" font-family="'Liberation Sans', Arial, sans-serif" font-size="16.8" fill="#1a1a1a">5<tspan font-style="italic">f</tspan></text>
<text x="69.50" y="1234.50" font-family="'Liberation Serif', 'Times New Roman', serif" font-size="23.5" fill="#1a1a1a" textLength="177" lengthAdjust="spacingAndGlyphs">element number</text>
<text transform="translate(19.9,896.10) rotate(-90)" font-family="'Liberation Serif', 'Times New Roman', serif" font-size="23.5" fill="#1a1a1a" textLength="177" lengthAdjust="spacingAndGlyphs">element number</text>
<text x="31.6" y="655.30" font-family="'Liberation Serif', 'Times New Roman', serif" font-size="27.5" fill="#1a1a1a" textLength="33" lengthAdjust="spacingAndGlyphs">(<tspan font-style="italic">b</tspan>)</text>
<rect x="365.5" y="1224" width="14" height="14" fill="#fff" stroke="#333" stroke-width="1.3"/>
<text x="391.8" y="1236.3" font-family="'Liberation Serif', 'Times New Roman', serif" font-size="20" fill="#1a1a1a" textLength="31.5" lengthAdjust="spacingAndGlyphs">n/a</text>
<rect x="442.6" y="1223.3" width="15.1" height="15.4" fill="#0c00fd"/>
<rect x="442.6" y="1249.2" width="15.1" height="15.8" fill="#fb2a1c"/>
<text x="472.4" y="1239.8" font-family="'Liberation Sans', Arial, sans-serif" font-size="23.3" fill="#1a1a1a">Correct</text>
<text x="472.4" y="1265.5" font-family="'Liberation Sans', Arial, sans-serif" font-size="23.3" fill="#1a1a1a">Erroneous</text>
</g>
</svg>
</div>
</body></html>
